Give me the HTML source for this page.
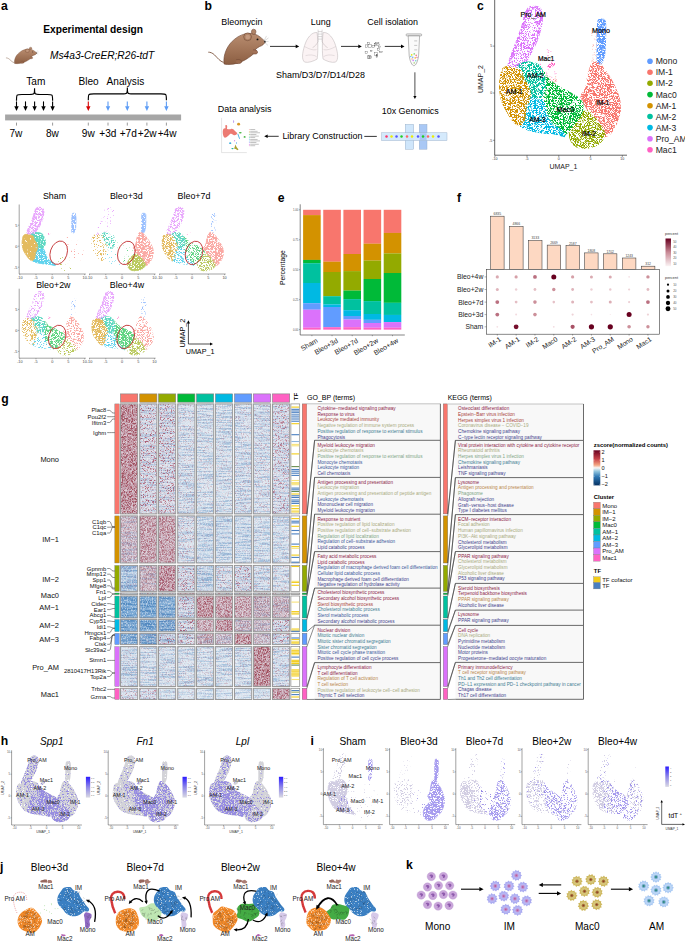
<!DOCTYPE html>
<html><head><meta charset="utf-8"><style>
html,body{margin:0;padding:0;background:#fff;}
svg{display:block;font-family:"Liberation Sans",sans-serif;}
</style></head><body>
<svg width="685" height="942" viewBox="0 0 685 942">
<defs>
<linearGradient id="mg" x1="0" y1="0" x2="0" y2="1"><stop offset="0" stop-color="#b98d70"/><stop offset="1" stop-color="#8c5e42"/></linearGradient>
<g id="mouse">
<path d="M15.5,33.5 C12,32.5 9.5,29 6.5,26 C4.5,24 2,23.2 0.3,23.3" fill="none" stroke="#8a6550" stroke-width="1.0"/>
<path d="M16,35 C15,26 19,16 27,10 C31,6.5 36,5 40,4.5 C44,4 49,5.5 52,8 C54.5,10 56,11.5 57.3,12.8 C56.5,15 54,17 51.8,17.5 C50,18.5 48.5,19.5 47.5,20.5 L48.5,22 C46,25 42,28 38,30.5 C33,33.5 27,35.5 21,35.6 C19,35.6 17,35.3 16,35 Z" fill="url(#mg)" stroke="#6b4330" stroke-width="0.6"/>
<path d="M45,21 C48,20.5 50,22 49.5,24 C48.5,25.5 46,25.5 44.5,24.5" fill="#a27258" stroke="#6b4330" stroke-width="0.5"/>
<path d="M28,31 C31,30 34,31 33.5,33.5 C32,35 29,35 27.5,34" fill="#9a6a4e" stroke="#6b4330" stroke-width="0.5"/>
<circle cx="39.6" cy="7.9" r="3.9" fill="#b08468" stroke="#6b4330" stroke-width="0.55"/>
<circle cx="39.8" cy="8.1" r="2.3" fill="#c49a80"/>
<ellipse cx="45.7" cy="2.9" rx="2.3" ry="2.6" fill="#b08468" stroke="#6b4330" stroke-width="0.5"/>
<circle cx="49.5" cy="10.5" r="0.95" fill="#111"/>
<circle cx="56.9" cy="12.8" r="0.9" fill="#222"/>
<path d="M56.5,12 L60.5,9 M57,12.8 L60.6,12.5 M56.5,13.5 L60,16.5 M56,12 L58.5,7" stroke="#aaa" stroke-width="0.4"/>
</g>
<path id="u_AM1" d="M-8.819,-2.548 C-8.611,-2.700 -8.344,-2.838 -7.863,-2.815 C-7.382,-2.793 -6.319,-2.611 -5.935,-2.414 C-5.550,-2.217 -5.781,-1.979 -5.556,-1.634 C-5.330,-1.288 -4.745,-0.731 -4.583,-0.341 C-4.421,0.049 -4.487,0.380 -4.583,0.707 C-4.679,1.034 -5.031,1.275 -5.160,1.621 C-5.289,1.967 -5.196,2.477 -5.358,2.780 C-5.520,3.083 -5.844,3.393 -6.132,3.438 C-6.421,3.482 -6.737,3.308 -7.089,3.048 C-7.440,2.788 -7.921,2.267 -8.242,1.877 C-8.564,1.487 -8.841,1.142 -9.017,0.707 C-9.193,0.272 -9.281,-0.296 -9.297,-0.731 C-9.314,-1.166 -9.196,-1.598 -9.116,-1.901 C-9.036,-2.204 -9.028,-2.395 -8.819,-2.548Z" vector-effect="non-scaling-stroke"/>
<path id="u_AM2" d="M-6.455,-2.854 C-6.326,-3.006 -5.749,-3.190 -5.301,-3.244 C-4.853,-3.298 -4.183,-3.262 -3.768,-3.177 C-3.353,-3.091 -3.037,-2.937 -2.812,-2.731 C-2.587,-2.525 -2.546,-2.202 -2.416,-1.940 C-2.287,-1.678 -2.068,-1.440 -2.037,-1.159 C-2.007,-0.879 -2.076,-0.537 -2.235,-0.256 C-2.394,0.024 -2.609,0.436 -2.993,0.524 C-3.378,0.611 -4.254,0.397 -4.543,0.267 C-4.831,0.137 -4.532,0.046 -4.724,-0.256 C-4.916,-0.559 -5.471,-1.204 -5.697,-1.549 C-5.922,-1.895 -5.949,-2.112 -6.076,-2.330 C-6.202,-2.547 -6.584,-2.701 -6.455,-2.854Z" vector-effect="non-scaling-stroke"/>
<path id="u_AM3" d="M-4.599,0.193 C-4.311,0.171 -3.435,0.299 -3.050,0.450 C-2.665,0.600 -2.484,0.814 -2.292,1.096 C-2.099,1.379 -2.088,1.797 -1.896,2.144 C-1.704,2.491 -1.522,2.878 -1.138,3.181 C-0.753,3.483 0.057,3.721 0.412,3.961 C0.766,4.201 1.181,4.554 0.989,4.619 C0.796,4.684 -0.132,4.416 -0.742,4.351 C-1.352,4.286 -2.028,4.293 -2.671,4.228 C-3.314,4.163 -4.022,4.093 -4.599,3.961 C-5.176,3.829 -5.973,3.654 -6.132,3.437 C-6.292,3.220 -5.685,2.980 -5.555,2.657 C-5.426,2.334 -5.487,1.843 -5.358,1.498 C-5.228,1.152 -4.907,0.801 -4.781,0.584 C-4.654,0.366 -4.888,0.216 -4.599,0.193Z" vector-effect="non-scaling-stroke"/>
<path id="u_Mac0" d="M-2.453,-2.224 C-2.294,-2.375 -1.717,-1.571 -1.300,-1.310 C-0.882,-1.050 -0.462,-0.879 0.052,-0.664 C0.566,-0.448 1.255,-0.227 1.783,-0.017 C2.310,0.192 2.882,0.384 3.217,0.596 C3.552,0.807 3.764,0.949 3.794,1.253 C3.824,1.558 3.657,2.056 3.398,2.424 C3.140,2.791 2.596,3.156 2.244,3.460 C1.893,3.765 1.577,4.077 1.288,4.252 C1.000,4.426 0.753,4.590 0.514,4.508 C0.275,4.426 0.187,4.016 -0.146,3.761 C-0.478,3.507 -1.162,3.241 -1.481,2.981 C-1.800,2.721 -1.896,2.505 -2.058,2.201 C-2.220,1.896 -2.420,1.588 -2.453,1.153 C-2.486,0.718 -2.256,0.155 -2.256,-0.408 C-2.256,-0.971 -2.613,-2.074 -2.453,-2.224Z" vector-effect="non-scaling-stroke"/>
<path id="u_IM2" d="M3.191,2.295 C3.609,2.058 4.158,1.863 4.543,1.905 C4.927,1.948 5.177,2.314 5.499,2.552 C5.820,2.790 6.183,3.027 6.471,3.332 C6.760,3.637 7.199,4.075 7.230,4.380 C7.260,4.684 6.941,4.943 6.653,5.160 C6.364,5.377 6.010,5.565 5.499,5.684 C4.988,5.803 4.131,5.918 3.587,5.873 C3.043,5.829 2.557,5.665 2.235,5.416 C1.914,5.167 1.691,4.727 1.658,4.380 C1.625,4.032 1.782,3.679 2.037,3.332 C2.293,2.985 2.774,2.533 3.191,2.295Z" vector-effect="non-scaling-stroke"/>
<path id="u_IM1" d="M5.393,-3.259 C5.135,-3.151 4.975,-2.783 4.816,-2.479 C4.657,-2.174 4.533,-1.756 4.437,-1.431 C4.341,-1.106 4.398,-0.831 4.239,-0.528 C4.080,-0.225 3.481,0.061 3.481,0.386 C3.481,0.711 4.017,1.140 4.239,1.423 C4.462,1.705 4.558,1.863 4.816,2.080 C5.074,2.298 5.530,2.489 5.789,2.727 C6.047,2.964 6.143,3.202 6.365,3.507 C6.588,3.812 6.835,4.423 7.124,4.555 C7.412,4.687 7.775,4.516 8.096,4.298 C8.418,4.081 8.797,3.643 9.052,3.251 C9.308,2.859 9.550,2.381 9.629,1.946 C9.709,1.512 9.657,1.055 9.530,0.642 C9.404,0.230 9.110,-0.160 8.871,-0.528 C8.632,-0.896 8.354,-1.262 8.096,-1.565 C7.838,-1.868 7.610,-2.085 7.322,-2.345 C7.033,-2.605 6.687,-2.973 6.365,-3.125 C6.044,-3.278 5.651,-3.367 5.393,-3.259Z" vector-effect="non-scaling-stroke"/>
<path id="u_Mono" d="M6.185,-7.696 C6.298,-7.923 6.520,-7.843 6.703,-7.834 C6.886,-7.826 7.177,-7.834 7.284,-7.643 C7.391,-7.452 7.342,-7.059 7.347,-6.688 C7.352,-6.316 7.344,-5.856 7.316,-5.414 C7.287,-4.972 7.276,-4.406 7.174,-4.034 C7.072,-3.662 6.886,-3.309 6.703,-3.185 C6.520,-3.061 6.188,-3.025 6.075,-3.291 C5.963,-3.556 6.036,-4.246 6.028,-4.777 C6.020,-5.308 6.002,-5.989 6.028,-6.476 C6.054,-6.962 6.073,-7.470 6.185,-7.696Z" vector-effect="non-scaling-stroke"/>
<path id="u_ProAM" d="M-7.771,-2.930 C-7.875,-3.160 -7.418,-3.797 -7.190,-4.246 C-6.962,-4.696 -6.667,-5.149 -6.405,-5.626 C-6.143,-6.104 -5.822,-6.658 -5.620,-7.113 C-5.419,-7.567 -5.353,-8.045 -5.196,-8.355 C-5.039,-8.664 -4.869,-8.841 -4.678,-8.970 C-4.487,-9.099 -4.312,-9.130 -4.050,-9.130 C-3.789,-9.130 -3.331,-9.099 -3.108,-8.970 C-2.886,-8.841 -2.742,-8.700 -2.716,-8.355 C-2.690,-8.010 -2.805,-7.371 -2.951,-6.900 C-3.098,-6.430 -3.333,-5.973 -3.595,-5.531 C-3.857,-5.088 -4.199,-4.644 -4.521,-4.246 C-4.843,-3.848 -5.186,-3.372 -5.526,-3.142 C-5.866,-2.912 -6.188,-2.902 -6.562,-2.866 C-6.936,-2.831 -7.666,-2.700 -7.771,-2.930Z" vector-effect="non-scaling-stroke"/>
<path id="u_Mac1" d="M-1.695,-2.866 C-1.630,-2.955 -1.094,-3.194 -0.911,-3.238 C-0.727,-3.282 -0.531,-3.220 -0.597,-3.132 C-0.662,-3.043 -1.120,-2.751 -1.303,-2.707 C-1.486,-2.663 -1.761,-2.778 -1.695,-2.866Z" vector-effect="non-scaling-stroke"/>
<path id="u_ProAMring" d="M-7.771,-2.930 C-7.875,-3.160 -7.418,-3.797 -7.190,-4.246 C-6.962,-4.696 -6.667,-5.149 -6.405,-5.626 C-6.143,-6.104 -5.822,-6.658 -5.620,-7.113 C-5.419,-7.567 -5.353,-8.045 -5.196,-8.355 C-5.039,-8.664 -4.869,-8.841 -4.678,-8.970 C-4.487,-9.099 -4.312,-9.130 -4.050,-9.130 C-3.789,-9.130 -3.331,-9.099 -3.108,-8.970 C-2.886,-8.841 -2.742,-8.700 -2.716,-8.355 C-2.690,-8.010 -2.805,-7.371 -2.951,-6.900 C-3.098,-6.430 -3.333,-5.973 -3.595,-5.531 C-3.857,-5.088 -4.199,-4.644 -4.521,-4.246 C-4.843,-3.848 -5.186,-3.372 -5.526,-3.142 C-5.866,-2.912 -6.188,-2.902 -6.562,-2.866 C-6.936,-2.831 -7.666,-2.700 -7.771,-2.930Z" vector-effect="non-scaling-stroke" fill="none"/>
<filter id="sk0" x="-5%" y="-5%" width="110%" height="110%"><feTurbulence type="fractalNoise" baseFrequency="2.3" numOctaves="1" seed="3" result="n"/><feColorMatrix in="n" type="matrix" values="0 0 0 0 0 0 0 0 0 0 0 0 0 0 0 12 0 0 0 -7.920" result="m"/><feComposite in="SourceGraphic" in2="m" operator="in"/><feGaussianBlur stdDeviation="0.25"/></filter>
<filter id="sk1" x="-5%" y="-5%" width="110%" height="110%"><feTurbulence type="fractalNoise" baseFrequency="2.3" numOctaves="1" seed="4" result="n"/><feColorMatrix in="n" type="matrix" values="0 0 0 0 0 0 0 0 0 0 0 0 0 0 0 12 0 0 0 -7.200" result="m"/><feComposite in="SourceGraphic" in2="m" operator="in"/><feGaussianBlur stdDeviation="0.25"/></filter>
<filter id="sk2" x="-5%" y="-5%" width="110%" height="110%"><feTurbulence type="fractalNoise" baseFrequency="2.3" numOctaves="1" seed="5" result="n"/><feColorMatrix in="n" type="matrix" values="0 0 0 0 0 0 0 0 0 0 0 0 0 0 0 12 0 0 0 -6.600" result="m"/><feComposite in="SourceGraphic" in2="m" operator="in"/><feGaussianBlur stdDeviation="0.25"/></filter>
<filter id="sk3" x="-5%" y="-5%" width="110%" height="110%"><feTurbulence type="fractalNoise" baseFrequency="2.3" numOctaves="1" seed="6" result="n"/><feColorMatrix in="n" type="matrix" values="0 0 0 0 0 0 0 0 0 0 0 0 0 0 0 12 0 0 0 -6.000" result="m"/><feComposite in="SourceGraphic" in2="m" operator="in"/><feGaussianBlur stdDeviation="0.25"/></filter>
<filter id="sk4" x="-5%" y="-5%" width="110%" height="110%"><feTurbulence type="fractalNoise" baseFrequency="2.3" numOctaves="1" seed="7" result="n"/><feColorMatrix in="n" type="matrix" values="0 0 0 0 0 0 0 0 0 0 0 0 0 0 0 12 0 0 0 -5.400" result="m"/><feComposite in="SourceGraphic" in2="m" operator="in"/><feGaussianBlur stdDeviation="0.25"/></filter>
<filter id="sk5" x="-5%" y="-5%" width="110%" height="110%"><feTurbulence type="fractalNoise" baseFrequency="2.3" numOctaves="1" seed="8" result="n"/><feColorMatrix in="n" type="matrix" values="0 0 0 0 0 0 0 0 0 0 0 0 0 0 0 12 0 0 0 -4.800" result="m"/><feComposite in="SourceGraphic" in2="m" operator="in"/><feGaussianBlur stdDeviation="0.25"/></filter>
<filter id="sk6" x="-5%" y="-5%" width="110%" height="110%"><feTurbulence type="fractalNoise" baseFrequency="2.3" numOctaves="1" seed="9" result="n"/><feColorMatrix in="n" type="matrix" values="0 0 0 0 0 0 0 0 0 0 0 0 0 0 0 12 0 0 0 -4.200" result="m"/><feComposite in="SourceGraphic" in2="m" operator="in"/><feGaussianBlur stdDeviation="0.25"/></filter>
<filter id="sk7" x="-5%" y="-5%" width="110%" height="110%"><feTurbulence type="fractalNoise" baseFrequency="2.3" numOctaves="1" seed="10" result="n"/><feColorMatrix in="n" type="matrix" values="0 0 0 0 0 0 0 0 0 0 0 0 0 0 0 12 0 0 0 -3.360" result="m"/><feComposite in="SourceGraphic" in2="m" operator="in"/><feGaussianBlur stdDeviation="0.25"/></filter>
<linearGradient id="pg" x1="0" y1="0" x2="0" y2="1"><stop offset="0" stop-color="#67001f"/><stop offset="0.5" stop-color="#c98a96"/><stop offset="1" stop-color="#fbf3f4"/></linearGradient>
<filter id="hr" x="0" y="0" width="100%" height="100%"><feTurbulence type="fractalNoise" baseFrequency="1.8 0.6" numOctaves="2" seed="11" result="n"/>
<feColorMatrix in="n" type="matrix" values="0 0 0 0 0 0 0 0 0 0 0 0 0 0 0 5 0 0 0 -2.1" result="m"/><feComposite in="SourceGraphic" in2="m" operator="in"/><feGaussianBlur stdDeviation="0.4"/></filter>
<filter id="hr2" x="0" y="0" width="100%" height="100%"><feTurbulence type="fractalNoise" baseFrequency="2.4 2.4" numOctaves="1" seed="5" result="n"/>
<feColorMatrix in="n" type="matrix" values="0 0 0 0 0 0 0 0 0 0 0 0 0 0 0 7 0 0 0 -3.75" result="m"/><feComposite in="SourceGraphic" in2="m" operator="in"/><feGaussianBlur stdDeviation="0.3"/></filter>
<filter id="hb" x="0" y="0" width="100%" height="100%"><feTurbulence type="fractalNoise" baseFrequency="0.05 0.8" numOctaves="2" seed="7" result="n"/>
<feColorMatrix in="n" type="matrix" values="0 0 0 0 0 0 0 0 0 0 0 0 0 0 0 5 0 0 0 -2.2" result="m"/><feComposite in="SourceGraphic" in2="m" operator="in"/><feGaussianBlur stdDeviation="0.3"/></filter>
<filter id="hw" x="0" y="0" width="100%" height="100%"><feTurbulence type="fractalNoise" baseFrequency="1.2 0.6" numOctaves="1" seed="23" result="n"/>
<feColorMatrix in="n" type="matrix" values="0 0 0 0 0 0 0 0 0 0 0 0 0 0 0 5 0 0 0 -2.4" result="m"/><feComposite in="SourceGraphic" in2="m" operator="in"/><feGaussianBlur stdDeviation="0.3"/></filter>
<linearGradient id="zg" x1="0" y1="0" x2="0" y2="1"><stop offset="0" stop-color="#67001f"/><stop offset="0.25" stop-color="#c9444a"/><stop offset="0.42" stop-color="#f4a582"/><stop offset="0.5" stop-color="#f7f7f7"/><stop offset="0.6" stop-color="#92c5de"/><stop offset="0.75" stop-color="#2f79b5"/><stop offset="1" stop-color="#053061"/></linearGradient>
<linearGradient id="bg" x1="0" y1="0" x2="0" y2="1"><stop offset="0" stop-color="#2b1bff"/><stop offset="0.5" stop-color="#8f88e8"/><stop offset="1" stop-color="#d9d9e3"/></linearGradient>
</defs>
<rect width="685" height="942" fill="#fff"/>
<text x="1.00" y="9.50" font-size="12.20" font-weight="bold" fill="#000">a</text>
<text x="43.20" y="32.80" font-size="10.21" font-weight="bold" fill="#000">Experimental design</text>
<use href="#mouse" transform="translate(5.8,47) scale(0.543,0.468)"/>
<text x="50.00" y="58.70" font-size="10.20" font-style="italic" fill="#000">Ms4a3-CreER;R26-tdT</text>
<text x="26.30" y="85.30" font-size="10.10" fill="#000">Tam</text>
<text x="78.50" y="85.30" font-size="10.10" fill="#000">Bleo</text>
<text x="106.60" y="85.30" font-size="10.10" fill="#000">Analysis</text>
<path d="M16.5,100.7 C16.5,94.45 16.5,94.45 22.0,94.45 L29.049999999999997,94.45 C34.55,94.45 34.55,94.45 34.55,88.2 C34.55,94.45 34.55,94.45 40.05,94.45 L47.1,94.45 C52.6,94.45 52.6,94.45 52.6,100.7" fill="none" stroke="#000" stroke-width="1.15"/>
<path d="M88.3,100.2 C88.3,93.9 88.3,93.9 93.8,93.9 L121.85,93.9 C127.35,93.9 127.35,93.9 127.35,87.6 C127.35,93.9 127.35,93.9 132.85,93.9 L160.9,93.9 C166.4,93.9 166.4,93.9 166.4,100.2" fill="none" stroke="#000" stroke-width="1.15"/>
<line x1="16.50" y1="101.40" x2="16.50" y2="106.80" stroke="#000" stroke-width="1.1"/>
<path d="M14.3,106.30000000000001 L18.7,106.30000000000001 L16.5,110.9 Z" fill="#000" stroke="none" stroke-width="0.8"/>
<line x1="25.50" y1="101.40" x2="25.50" y2="106.80" stroke="#000" stroke-width="1.1"/>
<path d="M23.3,106.30000000000001 L27.7,106.30000000000001 L25.5,110.9 Z" fill="#000" stroke="none" stroke-width="0.8"/>
<line x1="34.60" y1="101.40" x2="34.60" y2="106.80" stroke="#000" stroke-width="1.1"/>
<path d="M32.4,106.30000000000001 L36.800000000000004,106.30000000000001 L34.6,110.9 Z" fill="#000" stroke="none" stroke-width="0.8"/>
<line x1="43.50" y1="101.40" x2="43.50" y2="106.80" stroke="#000" stroke-width="1.1"/>
<path d="M41.3,106.30000000000001 L45.7,106.30000000000001 L43.5,110.9 Z" fill="#000" stroke="none" stroke-width="0.8"/>
<line x1="52.60" y1="101.40" x2="52.60" y2="106.80" stroke="#000" stroke-width="1.1"/>
<path d="M50.4,106.30000000000001 L54.800000000000004,106.30000000000001 L52.6,110.9 Z" fill="#000" stroke="none" stroke-width="0.8"/>
<line x1="88.30" y1="101.40" x2="88.30" y2="106.80" stroke="#d40000" stroke-width="1.1"/>
<path d="M86.1,106.30000000000001 L90.5,106.30000000000001 L88.3,110.9 Z" fill="#d40000" stroke="none" stroke-width="0.8"/>
<line x1="108.00" y1="101.40" x2="108.00" y2="106.80" stroke="#5b9bf5" stroke-width="1.1"/>
<path d="M105.8,106.30000000000001 L110.2,106.30000000000001 L108,110.9 Z" fill="#5b9bf5" stroke="none" stroke-width="0.8"/>
<line x1="127.30" y1="101.40" x2="127.30" y2="106.80" stroke="#5b9bf5" stroke-width="1.1"/>
<path d="M125.1,106.30000000000001 L129.5,106.30000000000001 L127.3,110.9 Z" fill="#5b9bf5" stroke="none" stroke-width="0.8"/>
<line x1="146.90" y1="101.40" x2="146.90" y2="106.80" stroke="#5b9bf5" stroke-width="1.1"/>
<path d="M144.70000000000002,106.30000000000001 L149.1,106.30000000000001 L146.9,110.9 Z" fill="#5b9bf5" stroke="none" stroke-width="0.8"/>
<line x1="166.40" y1="101.40" x2="166.40" y2="106.80" stroke="#5b9bf5" stroke-width="1.1"/>
<path d="M164.20000000000002,106.30000000000001 L168.6,106.30000000000001 L166.4,110.9 Z" fill="#5b9bf5" stroke="none" stroke-width="0.8"/>
<rect x="5.10" y="114.50" width="176.00" height="5.90" fill="#a6a6a6"/>
<line x1="16.50" y1="122.60" x2="16.50" y2="125.60" stroke="#555" stroke-width="0.6"/>
<line x1="52.60" y1="122.60" x2="52.60" y2="125.60" stroke="#555" stroke-width="0.6"/>
<line x1="88.30" y1="122.60" x2="88.30" y2="125.60" stroke="#555" stroke-width="0.6"/>
<line x1="108.00" y1="122.60" x2="108.00" y2="125.60" stroke="#555" stroke-width="0.6"/>
<line x1="127.30" y1="122.60" x2="127.30" y2="125.60" stroke="#555" stroke-width="0.6"/>
<line x1="146.90" y1="122.60" x2="146.90" y2="125.60" stroke="#555" stroke-width="0.6"/>
<line x1="166.40" y1="122.60" x2="166.40" y2="125.60" stroke="#555" stroke-width="0.6"/>
<text x="9.50" y="137.40" font-size="10.10" fill="#000">7w</text>
<text x="46.00" y="137.40" font-size="10.10" fill="#000">8w</text>
<text x="81.80" y="137.40" font-size="10.10" fill="#000">9w</text>
<text x="99.30" y="137.40" font-size="10.10" fill="#000">+3d</text>
<text x="119.70" y="137.40" font-size="10.10" fill="#000">+7d</text>
<text x="137.80" y="137.40" font-size="10.10" fill="#000">+2w</text>
<text x="157.70" y="137.40" font-size="10.10" fill="#000">+4w</text>
<text x="204.60" y="9.60" font-size="12.20" font-weight="bold" fill="#000">b</text>
<text x="221.30" y="25.00" font-size="8.95" fill="#000">Bleomycin</text>
<use href="#mouse" transform="translate(208,28.9)"/>
<line x1="270.00" y1="46.40" x2="296.20" y2="46.40" stroke="#000" stroke-width="0.8"/>
<path d="M295.7,44.6 L295.7,48.199999999999996 L299.2,46.4 Z" fill="#000" stroke="none" stroke-width="0.8"/>
<text x="310.80" y="24.50" font-size="8.95" fill="#000">Lung</text>
<g transform="translate(301.6,29.6)" fill="#fbf3f4" stroke="#b9b0b3" stroke-width="0.5">
<path d="M15.5,3 C10,2 5,9 3,16 C0.5,24 0,30 3,32.5 C7,33.5 12,31.5 15.5,29.5 C16.5,24 16.5,12 15.5,3 Z"/>
<path d="M21.5,3 C27,2 32,9 34,16 C36.5,24 37,30 34,32.5 C30,33.5 25,31.5 21.5,29.5 C20.5,24 20.5,12 21.5,3 Z"/>
<path d="M16.5,0 L16.5,12 C15,15 13,17 11,18 M20.5,0 L20.5,12 C22,15 24,17 26,18" fill="none"/>
<path d="M16.5,2 H20.5 M16.5,4.5 H20.5 M16.5,7 H20.5 M16.5,9.5 H20.5" fill="none"/>
<path d="M3,17 C7,19 11,21 15,20 M4,26 C8,25 12,25 15,27 M34,17 C30,19 26,21 22,20 M33,26 C29,25 25,25 22,27" fill="none" stroke-width="0.35"/>
</g>
<line x1="341.00" y1="46.40" x2="358.80" y2="46.40" stroke="#000" stroke-width="0.8"/>
<path d="M358.3,44.6 L358.3,48.199999999999996 L361.8,46.4 Z" fill="#000" stroke="none" stroke-width="0.8"/>
<rect x="374.3" y="52.7" width="2.9" height="2.6" fill="none" stroke="#555" stroke-width="0.35"/><rect x="376.1" y="55.4" width="1.6" height="1.9" fill="none" stroke="#555" stroke-width="0.35"/><rect x="379.2" y="51.3" width="3.1" height="1.4" fill="none" stroke="#555" stroke-width="0.35"/><rect x="372.0" y="45.3" width="2.5" height="2.1" fill="none" stroke="#555" stroke-width="0.35"/><rect x="365.2" y="44.9" width="2.0" height="2.6" fill="none" stroke="#555" stroke-width="0.35"/><rect x="376.5" y="44.0" width="2.9" height="1.4" fill="none" stroke="#555" stroke-width="0.35"/><rect x="374.3" y="43.5" width="1.5" height="2.5" fill="none" stroke="#555" stroke-width="0.35"/><rect x="368.1" y="44.8" width="3.3" height="2.5" fill="none" stroke="#555" stroke-width="0.35"/><rect x="369.3" y="56.0" width="2.5" height="2.2" fill="none" stroke="#555" stroke-width="0.35"/><rect x="368.1" y="55.7" width="2.7" height="2.6" fill="none" stroke="#555" stroke-width="0.35"/><rect x="378.4" y="46.1" width="2.2" height="1.4" fill="none" stroke="#555" stroke-width="0.35"/><rect x="367.2" y="42.6" width="2.0" height="2.1" fill="none" stroke="#555" stroke-width="0.35"/><rect x="365.1" y="51.8" width="2.1" height="1.7" fill="none" stroke="#555" stroke-width="0.35"/><rect x="377.3" y="48.8" width="2.1" height="1.9" fill="none" stroke="#555" stroke-width="0.35"/><rect x="375.6" y="42.5" width="3.3" height="1.2" fill="none" stroke="#555" stroke-width="0.35"/><rect x="376.2" y="54.3" width="1.5" height="2.4" fill="none" stroke="#555" stroke-width="0.35"/><rect x="370.5" y="50.3" width="1.5" height="1.3" fill="none" stroke="#555" stroke-width="0.35"/><rect x="367.7" y="55.9" width="1.9" height="2.3" fill="none" stroke="#555" stroke-width="0.35"/>
<line x1="384.80" y1="46.40" x2="401.50" y2="46.40" stroke="#000" stroke-width="0.8"/>
<path d="M401.0,44.6 L401.0,48.199999999999996 L404.5,46.4 Z" fill="#000" stroke="none" stroke-width="0.8"/>
<text x="367.30" y="24.50" font-size="8.95" fill="#000">Cell isolation</text>
<g transform="translate(406.2,33.9)">
<rect x="0" y="0" width="15.4" height="2" rx="0.6" fill="#f2f2f2" stroke="#777" stroke-width="0.5"/>
<path d="M2,2 L13.4,2 L12.4,22 C11.5,28 9.5,31.8 7.7,31.8 C5.9,31.8 3.9,28 3,22 Z" fill="#fafafa" stroke="#777" stroke-width="0.5"/>
<path d="M8,7 H11 M8,11.5 H11 M8,16 H11" stroke="#777" stroke-width="0.4"/>
<circle cx="5.5" cy="21" r="0.8" fill="#e6e600"/><circle cx="8" cy="20" r="0.8" fill="#7fd17f"/><circle cx="10" cy="21.5" r="0.8" fill="#f08080"/>
<circle cx="6.5" cy="23.5" r="0.8" fill="#80b0ff"/><circle cx="9" cy="24" r="0.8" fill="#f0c040"/><circle cx="7" cy="26.5" r="0.8" fill="#d080ff"/>
<circle cx="9.5" cy="26.8" r="0.8" fill="#70d0d0"/><circle cx="5.8" cy="25" r="0.7" fill="#ffa060"/><circle cx="8" cy="29" r="0.7" fill="#90c050"/>
<circle cx="10.8" cy="23.5" r="0.7" fill="#e070b0"/><circle cx="4.6" cy="22.6" r="0.7" fill="#60c0e0"/>
</g>
<text x="276.00" y="77.80" font-size="8.95" fill="#000">Sham/D3/D7/D14/D28</text>
<line x1="414.90" y1="72.30" x2="414.90" y2="96.60" stroke="#000" stroke-width="0.7"/>
<path d="M413.29999999999995,96.1 L416.5,96.1 L414.9,99.1 Z" fill="#000" stroke="none" stroke-width="0.8"/>
<text x="381.70" y="114.00" font-size="8.95" fill="#000">10x Genomics</text>
<g>
<rect x="405.3" y="124.4" width="8.4" height="24.8" fill="#cfe6fb" stroke="#8aa4c0" stroke-width="0.4"/>
<rect x="419.3" y="124.4" width="7.7" height="24.8" fill="#a9c8f5" stroke="#8aa4c0" stroke-width="0.4"/>
<rect x="381.7" y="132.8" width="65.3" height="7.7" fill="#d5eafc" stroke="#8aa4c0" stroke-width="0.4"/>
<rect x="405.7" y="133.2" width="7.6" height="6.9" fill="#cfe6fb"/>
<rect x="419.7" y="133.2" width="6.9" height="6.9" fill="#a9c8f5"/>
</g>
<circle cx="386.50" cy="136.60" r="1.25" fill="#f36"/>
<circle cx="391.50" cy="136.60" r="1.25" fill="#ee0"/>
<circle cx="396.50" cy="136.60" r="1.25" fill="#55f"/>
<circle cx="401.50" cy="136.60" r="1.25" fill="#2c2"/>
<circle cx="407.00" cy="136.60" r="1.25" fill="#f66"/>
<circle cx="412.00" cy="136.60" r="1.25" fill="#ee0"/>
<circle cx="418.00" cy="136.60" r="1.25" fill="#55f"/>
<circle cx="423.00" cy="136.60" r="1.25" fill="#2c2"/>
<circle cx="428.00" cy="136.60" r="1.25" fill="#f66"/>
<circle cx="433.00" cy="136.60" r="1.25" fill="#ee0"/>
<circle cx="438.50" cy="136.60" r="1.25" fill="#55f"/>
<text x="217.80" y="112.10" font-size="8.95" fill="#000">Data analysis</text>
<g><path d="M221.6,117.9 V152.6 H246.8" fill="none" stroke="#bbb" stroke-width="0.4"/><path d="M222.8,131 C223,128.5 224.5,128 225.5,128.3 L225.3,125.6 C226,124.8 227,125 227.2,126 L227,129 C228.5,129.3 230,129.5 231,129 C232,128.2 233.5,129 234.5,130.5 C235.5,131.5 236.8,132.5 237.2,133.2 C236.5,135 235,135.5 233.5,135 C232,134.3 231,133.5 230,134 C228.5,135.5 227,137.5 225,137.8 C223.5,137.5 222.6,134.5 222.8,131 Z" fill="#ec7a72"/><ellipse cx="238.6" cy="124.2" rx="1.5" ry="1.4" fill="#d7982a"/><ellipse cx="240.3" cy="132.8" rx="1.4" ry="0.7" fill="#4cb847"/><ellipse cx="244.6" cy="136.9" rx="1.0" ry="0.9" fill="#4cb847"/><ellipse cx="230.2" cy="143.2" rx="1.1" ry="0.9" fill="#3db0e0"/><ellipse cx="232.5" cy="148.6" rx="1.2" ry="0.6" fill="#20b29a"/><ellipse cx="234.6" cy="140.7" rx="0.5" ry="0.5" fill="#c040e0"/><ellipse cx="233.6" cy="121.5" rx="0.5" ry="1.5" fill="#b99af0"/><ellipse cx="236.4" cy="143" rx="0.4" ry="1.1" fill="#5aaff0"/><path d="M235.5,144.5 L236.5,147 L238.5,149.5 L237.5,150.3 L235.8,149 L234,148.5 L234.5,147.5 Z" fill="#aaa030"/><path d="M237.8,133.8 L239.6,138.8" stroke="#3db0e0" stroke-width="0.9"/><circle cx="249.3" cy="129.60" r="0.45" fill="#ec7a72"/><rect x="250.2" y="129.25" width="5.0" height="0.7" fill="#aaa"/><circle cx="249.3" cy="131.22" r="0.45" fill="#e0a050"/><rect x="250.2" y="130.87" width="7.4" height="0.7" fill="#aaa"/><circle cx="249.3" cy="132.84" r="0.45" fill="#b0a030"/><rect x="250.2" y="132.49" width="9.8" height="0.7" fill="#aaa"/><circle cx="249.3" cy="134.46" r="0.45" fill="#4cb847"/><rect x="250.2" y="134.11" width="6.2" height="0.7" fill="#aaa"/><circle cx="249.3" cy="136.08" r="0.45" fill="#60c080"/><rect x="250.2" y="135.73" width="8.6" height="0.7" fill="#aaa"/><circle cx="249.3" cy="137.70" r="0.45" fill="#20b29a"/><rect x="250.2" y="137.35" width="5.0" height="0.7" fill="#aaa"/><circle cx="249.3" cy="139.32" r="0.45" fill="#3db0e0"/><rect x="250.2" y="138.97" width="7.4" height="0.7" fill="#aaa"/><circle cx="249.3" cy="140.94" r="0.45" fill="#5aaff0"/><rect x="250.2" y="140.59" width="9.8" height="0.7" fill="#aaa"/><circle cx="249.3" cy="142.56" r="0.45" fill="#9080f0"/><rect x="250.2" y="142.21" width="6.2" height="0.7" fill="#aaa"/><circle cx="249.3" cy="144.18" r="0.45" fill="#c040e0"/><rect x="250.2" y="143.83" width="8.6" height="0.7" fill="#aaa"/><circle cx="249.3" cy="145.80" r="0.45" fill="#e070c0"/><rect x="250.2" y="145.45" width="5.0" height="0.7" fill="#aaa"/></g>
<line x1="278.70" y1="136.30" x2="267.20" y2="136.30" stroke="#000" stroke-width="0.8"/>
<path d="M267.7,134.5 L267.7,138.10000000000002 L264.2,136.3 Z" fill="#000" stroke="none" stroke-width="0.8"/>
<text x="282.40" y="138.80" font-size="8.95" fill="#000">Library Construction</text>
<line x1="364.30" y1="136.40" x2="376.80" y2="136.40" stroke="#000" stroke-width="0.8"/>
<text x="477.00" y="9.90" font-size="12.20" font-weight="bold" fill="#000">c</text>
<line x1="494.70" y1="0.00" x2="494.70" y2="155.20" stroke="#333" stroke-width="0.75"/>
<line x1="494.70" y1="155.20" x2="627.00" y2="155.20" stroke="#333" stroke-width="0.75"/>
<line x1="492.90" y1="46.10" x2="494.70" y2="46.10" stroke="#333" stroke-width="0.5"/>
<text x="492.20" y="47.35" font-size="3.60" text-anchor="end" fill="#333">5</text>
<line x1="492.90" y1="93.00" x2="494.70" y2="93.00" stroke="#333" stroke-width="0.5"/>
<text x="492.20" y="94.25" font-size="3.60" text-anchor="end" fill="#333">0</text>
<line x1="492.90" y1="140.30" x2="494.70" y2="140.30" stroke="#333" stroke-width="0.5"/>
<text x="492.20" y="141.55" font-size="3.60" text-anchor="end" fill="#333">-5</text>
<line x1="494.90" y1="155.20" x2="494.90" y2="157.00" stroke="#333" stroke-width="0.5"/>
<text x="494.90" y="159.90" font-size="3.60" text-anchor="middle" fill="#333">-10</text>
<line x1="527.00" y1="155.20" x2="527.00" y2="157.00" stroke="#333" stroke-width="0.5"/>
<text x="527.00" y="159.90" font-size="3.60" text-anchor="middle" fill="#333">-5</text>
<line x1="558.80" y1="155.20" x2="558.80" y2="157.00" stroke="#333" stroke-width="0.5"/>
<text x="558.80" y="159.90" font-size="3.60" text-anchor="middle" fill="#333">0</text>
<line x1="590.60" y1="155.20" x2="590.60" y2="157.00" stroke="#333" stroke-width="0.5"/>
<text x="590.60" y="159.90" font-size="3.60" text-anchor="middle" fill="#333">5</text>
<line x1="622.30" y1="155.20" x2="622.30" y2="157.00" stroke="#333" stroke-width="0.5"/>
<text x="622.30" y="159.90" font-size="3.60" text-anchor="middle" fill="#333">10</text>
<text x="482.60" y="79.00" font-size="7.00" text-anchor="middle" fill="#222" transform="rotate(-90 482.60 79.00)">UMAP_2</text>
<text x="549.40" y="168.80" font-size="7.00" fill="#222">UMAP_1</text>
<g filter="url(#sk3)"><use href="#u_ProAM" fill="#DB72FB" stroke="none" stroke-width="1.2" transform="translate(558.80,93.00) scale(6.370,9.420)"/></g><g filter="url(#sk4)"><use href="#u_ProAMring" stroke="#DB72FB" stroke-width="3.12" transform="translate(558.80,93.00) scale(6.370,9.420)"/></g><g filter="url(#sk5)"><use href="#u_Mono" fill="#619CFF" stroke="#619CFF" stroke-width="1.2" transform="translate(558.80,93.00) scale(6.370,9.420)"/></g><g filter="url(#sk4)"><use href="#u_Mac1" fill="#FF61C3" stroke="#FF61C3" stroke-width="1.2" transform="translate(558.80,93.00) scale(6.370,9.420)"/></g><g filter="url(#sk4)"><use href="#u_IM1" fill="#F8766D" stroke="#F8766D" stroke-width="1.2" transform="translate(558.80,93.00) scale(6.370,9.420)"/></g><g filter="url(#sk4)"><use href="#u_IM2" fill="#93AA00" stroke="#93AA00" stroke-width="1.2" transform="translate(558.80,93.00) scale(6.370,9.420)"/></g><g filter="url(#sk4)"><use href="#u_Mac0" fill="#00BA38" stroke="#00BA38" stroke-width="1.2" transform="translate(558.80,93.00) scale(6.370,9.420)"/></g><g filter="url(#sk4)"><use href="#u_AM3" fill="#00B9E3" stroke="#00B9E3" stroke-width="1.2" transform="translate(558.80,93.00) scale(6.370,9.420)"/></g><g filter="url(#sk4)"><use href="#u_AM2" fill="#00C19F" stroke="#00C19F" stroke-width="1.2" transform="translate(558.80,93.00) scale(6.370,9.420)"/></g><g filter="url(#sk4)"><use href="#u_AM1" fill="#D39200" stroke="#D39200" stroke-width="1.2" transform="translate(558.80,93.00) scale(6.370,9.420)"/></g>
<text x="520.50" y="16.80" font-size="7.06" fill="#000" stroke="#000" stroke-width="0.2">Pro_AM</text>
<text x="592.00" y="32.70" font-size="7.16" fill="#000" stroke="#000" stroke-width="0.2">Mono</text>
<text x="537.90" y="60.90" font-size="6.71" fill="#000" stroke="#000" stroke-width="0.2">Mac1</text>
<text x="527.10" y="77.70" font-size="6.86" fill="#000" stroke="#000" stroke-width="0.2">AM-2</text>
<text x="505.80" y="93.60" font-size="7.07" fill="#000" stroke="#000" stroke-width="0.2">AM-1</text>
<text x="556.60" y="112.30" font-size="7.20" fill="#000" stroke="#000" stroke-width="0.2">Mac0</text>
<text x="529.30" y="122.10" font-size="6.86" fill="#000" stroke="#000" stroke-width="0.2">AM-3</text>
<text x="596.00" y="104.60" font-size="6.60" fill="#000" stroke="#000" stroke-width="0.2">IM-1</text>
<text x="581.80" y="136.30" font-size="7.10" fill="#000" stroke="#000" stroke-width="0.2">IM-2</text>
<circle cx="650.00" cy="61.30" r="2.80" fill="#619CFF"/>
<text x="655.70" y="64.40" font-size="8.60" fill="#222">Mono</text>
<circle cx="650.00" cy="72.20" r="2.80" fill="#F8766D"/>
<text x="655.70" y="75.30" font-size="8.60" fill="#222">IM-1</text>
<circle cx="650.00" cy="83.20" r="2.80" fill="#93AA00"/>
<text x="655.70" y="86.30" font-size="8.60" fill="#222">IM-2</text>
<circle cx="650.00" cy="94.60" r="2.80" fill="#00BA38"/>
<text x="655.70" y="97.70" font-size="8.60" fill="#222">Mac0</text>
<circle cx="650.00" cy="105.70" r="2.80" fill="#D39200"/>
<text x="655.70" y="108.80" font-size="8.60" fill="#222">AM-1</text>
<circle cx="650.00" cy="116.50" r="2.80" fill="#00C19F"/>
<text x="655.70" y="119.60" font-size="8.60" fill="#222">AM-2</text>
<circle cx="650.00" cy="127.60" r="2.80" fill="#00B9E3"/>
<text x="655.70" y="130.70" font-size="8.60" fill="#222">AM-3</text>
<circle cx="650.00" cy="138.80" r="2.80" fill="#DB72FB"/>
<text x="655.70" y="141.90" font-size="8.60" fill="#222">Pro_AM</text>
<circle cx="650.00" cy="149.80" r="2.80" fill="#FF61C3"/>
<text x="655.70" y="152.90" font-size="8.60" fill="#222">Mac1</text>
<rect x="552.4" y="59.1" width="0.8" height="0.8" fill="#FF61C3" opacity="0.8"/><rect x="542.3" y="76.0" width="0.8" height="0.8" fill="#FF61C3" opacity="0.8"/><rect x="540.1" y="64.2" width="0.8" height="0.8" fill="#FF61C3" opacity="0.8"/><rect x="548.0" y="68.8" width="0.8" height="0.8" fill="#FF61C3" opacity="0.8"/><rect x="540.6" y="69.4" width="0.8" height="0.8" fill="#FF61C3" opacity="0.8"/><rect x="547.0" y="76.9" width="0.8" height="0.8" fill="#FF61C3" opacity="0.8"/><rect x="541.1" y="75.7" width="0.8" height="0.8" fill="#FF61C3" opacity="0.8"/><rect x="547.1" y="76.4" width="0.8" height="0.8" fill="#FF61C3" opacity="0.8"/><rect x="541.3" y="58.9" width="0.8" height="0.8" fill="#FF61C3" opacity="0.8"/><rect x="547.6" y="55.0" width="0.8" height="0.8" fill="#FF61C3" opacity="0.8"/><rect x="541.6" y="67.0" width="0.8" height="0.8" fill="#FF61C3" opacity="0.8"/><rect x="545.9" y="71.9" width="0.8" height="0.8" fill="#FF61C3" opacity="0.8"/><rect x="555.7" y="73.1" width="0.8" height="0.8" fill="#FF61C3" opacity="0.8"/><rect x="551.4" y="76.9" width="0.8" height="0.8" fill="#FF61C3" opacity="0.8"/><rect x="539.7" y="63.7" width="0.8" height="0.8" fill="#FF61C3" opacity="0.8"/><rect x="547.7" y="51.6" width="0.8" height="0.8" fill="#FF61C3" opacity="0.8"/><rect x="546.0" y="74.4" width="0.8" height="0.8" fill="#FF61C3" opacity="0.8"/><rect x="547.9" y="52.1" width="0.8" height="0.8" fill="#FF61C3" opacity="0.8"/><rect x="551.5" y="80.2" width="0.8" height="0.8" fill="#FF61C3" opacity="0.8"/><rect x="547.6" y="55.5" width="0.8" height="0.8" fill="#FF61C3" opacity="0.8"/><rect x="546.5" y="73.1" width="0.8" height="0.8" fill="#FF61C3" opacity="0.8"/><rect x="551.8" y="61.1" width="0.8" height="0.8" fill="#FF61C3" opacity="0.8"/><rect x="546.9" y="49.3" width="0.8" height="0.8" fill="#FF61C3" opacity="0.8"/><rect x="544.4" y="81.6" width="0.8" height="0.8" fill="#FF61C3" opacity="0.8"/><rect x="554.3" y="71.4" width="0.8" height="0.8" fill="#FF61C3" opacity="0.8"/><rect x="550.5" y="51.2" width="0.8" height="0.8" fill="#FF61C3" opacity="0.8"/><rect x="553.2" y="79.1" width="0.8" height="0.8" fill="#FF61C3" opacity="0.8"/><rect x="554.6" y="73.5" width="0.8" height="0.8" fill="#FF61C3" opacity="0.8"/><rect x="548.4" y="50.1" width="0.8" height="0.8" fill="#FF61C3" opacity="0.8"/><rect x="593.9" y="54.3" width="0.7" height="0.7" fill="#F8766D" opacity="0.7"/><rect x="595.5" y="30.9" width="0.7" height="0.7" fill="#F8766D" opacity="0.7"/><rect x="591.0" y="32.8" width="0.7" height="0.7" fill="#F8766D" opacity="0.7"/><rect x="596.5" y="33.6" width="0.7" height="0.7" fill="#F8766D" opacity="0.7"/><rect x="593.3" y="45.2" width="0.7" height="0.7" fill="#F8766D" opacity="0.7"/><rect x="596.3" y="34.3" width="0.7" height="0.7" fill="#F8766D" opacity="0.7"/><rect x="592.6" y="54.7" width="0.7" height="0.7" fill="#F8766D" opacity="0.7"/><rect x="591.5" y="35.3" width="0.7" height="0.7" fill="#F8766D" opacity="0.7"/><rect x="591.2" y="60.7" width="0.7" height="0.7" fill="#F8766D" opacity="0.7"/><rect x="592.4" y="46.0" width="0.7" height="0.7" fill="#F8766D" opacity="0.7"/><rect x="593.3" y="61.4" width="0.7" height="0.7" fill="#F8766D" opacity="0.7"/><rect x="595.3" y="49.2" width="0.7" height="0.7" fill="#F8766D" opacity="0.7"/><rect x="593.9" y="38.6" width="0.7" height="0.7" fill="#F8766D" opacity="0.7"/><rect x="596.0" y="33.3" width="0.7" height="0.7" fill="#F8766D" opacity="0.7"/><rect x="594.7" y="39.4" width="0.7" height="0.7" fill="#F8766D" opacity="0.7"/><rect x="592.7" y="44.5" width="0.7" height="0.7" fill="#F8766D" opacity="0.7"/><rect x="592.1" y="48.9" width="0.7" height="0.7" fill="#F8766D" opacity="0.7"/><rect x="591.4" y="30.6" width="0.7" height="0.7" fill="#F8766D" opacity="0.7"/><rect x="591.8" y="32.9" width="0.7" height="0.7" fill="#F8766D" opacity="0.7"/><rect x="596.3" y="46.3" width="0.7" height="0.7" fill="#F8766D" opacity="0.7"/><rect x="595.1" y="54.9" width="0.7" height="0.7" fill="#F8766D" opacity="0.7"/><rect x="592.0" y="60.4" width="0.7" height="0.7" fill="#F8766D" opacity="0.7"/><rect x="593.3" y="44.7" width="0.7" height="0.7" fill="#F8766D" opacity="0.7"/><rect x="593.9" y="52.2" width="0.7" height="0.7" fill="#F8766D" opacity="0.7"/><rect x="595.6" y="36.2" width="0.7" height="0.7" fill="#F8766D" opacity="0.7"/><rect x="596.0" y="43.7" width="0.7" height="0.7" fill="#F8766D" opacity="0.7"/><rect x="592.5" y="57.7" width="0.7" height="0.7" fill="#F8766D" opacity="0.7"/><rect x="596.2" y="57.5" width="0.7" height="0.7" fill="#F8766D" opacity="0.7"/><rect x="592.9" y="59.2" width="0.7" height="0.7" fill="#F8766D" opacity="0.7"/><rect x="595.7" y="61.0" width="0.7" height="0.7" fill="#F8766D" opacity="0.7"/><rect x="555.0" y="84.0" width="0.8" height="0.8" fill="#F8766D" opacity="0.8"/><rect x="552.8" y="82.0" width="0.8" height="0.8" fill="#F8766D" opacity="0.8"/><rect x="555.2" y="80.2" width="0.8" height="0.8" fill="#F8766D" opacity="0.8"/><rect x="553.0" y="79.2" width="0.8" height="0.8" fill="#F8766D" opacity="0.8"/><rect x="555.9" y="79.0" width="0.8" height="0.8" fill="#F8766D" opacity="0.8"/><rect x="555.0" y="80.5" width="0.8" height="0.8" fill="#F8766D" opacity="0.8"/><rect x="554.7" y="78.5" width="0.8" height="0.8" fill="#F8766D" opacity="0.8"/><rect x="549.6" y="81.4" width="0.8" height="0.8" fill="#F8766D" opacity="0.8"/><rect x="550.2" y="78.9" width="0.8" height="0.8" fill="#F8766D" opacity="0.8"/><rect x="555.3" y="76.4" width="0.8" height="0.8" fill="#F8766D" opacity="0.8"/><rect x="556.3" y="80.7" width="0.8" height="0.8" fill="#F8766D" opacity="0.8"/><rect x="553.5" y="81.4" width="0.8" height="0.8" fill="#F8766D" opacity="0.8"/><rect x="549.5" y="76.2" width="0.8" height="0.8" fill="#F8766D" opacity="0.8"/><rect x="554.8" y="80.7" width="0.8" height="0.8" fill="#F8766D" opacity="0.8"/>
<text x="0.90" y="201.90" font-size="12.20" font-weight="bold" fill="#000">d</text>
<g opacity="0.62"><g filter="url(#sk4)"><use href="#u_ProAM" fill="#DB72FB" stroke="none" stroke-width="0.8" transform="translate(52.20,246.20) scale(3.245,4.200)"/></g><g filter="url(#sk5)"><use href="#u_ProAMring" stroke="#DB72FB" stroke-width="2.08" transform="translate(52.20,246.20) scale(3.245,4.200)"/></g><g filter="url(#sk5)"><use href="#u_Mono" fill="#619CFF" stroke="#619CFF" stroke-width="0.8" transform="translate(52.20,246.20) scale(3.245,4.200)"/></g><g filter="url(#sk1)"><use href="#u_Mac1" fill="#FF61C3" stroke="#FF61C3" stroke-width="0.8" transform="translate(52.20,246.20) scale(3.245,4.200)"/></g><g filter="url(#sk0)"><use href="#u_IM1" fill="#F8766D" stroke="#F8766D" stroke-width="0.8" transform="translate(52.20,246.20) scale(3.245,4.200)"/></g><g filter="url(#sk0)"><use href="#u_IM2" fill="#93AA00" stroke="#93AA00" stroke-width="0.8" transform="translate(52.20,246.20) scale(3.245,4.200)"/></g><g filter="url(#sk6)"><use href="#u_AM3" fill="#00B9E3" stroke="#00B9E3" stroke-width="0.8" transform="translate(52.20,246.20) scale(3.245,4.200)"/></g><g filter="url(#sk6)"><use href="#u_AM2" fill="#00C19F" stroke="#00C19F" stroke-width="0.8" transform="translate(52.20,246.20) scale(3.245,4.200)"/></g><g filter="url(#sk7)"><use href="#u_AM1" fill="#D39200" stroke="#D39200" stroke-width="0.8" transform="translate(52.20,246.20) scale(3.245,4.200)"/></g></g>
<text x="42.90" y="198.70" font-size="8.90" fill="#000">Sham</text>
<line x1="19.20" y1="274.00" x2="85.80" y2="274.00" stroke="#444" stroke-width="0.5"/>
<line x1="19.75" y1="274.00" x2="19.75" y2="275.20" stroke="#444" stroke-width="0.4"/>
<text x="19.75" y="278.60" font-size="3.80" text-anchor="middle" fill="#444">-10</text>
<line x1="35.98" y1="274.00" x2="35.98" y2="275.20" stroke="#444" stroke-width="0.4"/>
<text x="35.98" y="278.60" font-size="3.80" text-anchor="middle" fill="#444">-5</text>
<line x1="52.20" y1="274.00" x2="52.20" y2="275.20" stroke="#444" stroke-width="0.4"/>
<text x="52.20" y="278.60" font-size="3.80" text-anchor="middle" fill="#444">0</text>
<line x1="68.43" y1="274.00" x2="68.43" y2="275.20" stroke="#444" stroke-width="0.4"/>
<text x="68.43" y="278.60" font-size="3.80" text-anchor="middle" fill="#444">5</text>
<line x1="84.65" y1="274.00" x2="84.65" y2="275.20" stroke="#444" stroke-width="0.4"/>
<text x="84.65" y="278.60" font-size="3.80" text-anchor="middle" fill="#444">10</text>
<line x1="19.20" y1="204.50" x2="19.20" y2="274.00" stroke="#444" stroke-width="0.5"/>
<line x1="18.00" y1="225.20" x2="19.20" y2="225.20" stroke="#444" stroke-width="0.4"/>
<text x="17.30" y="226.50" font-size="3.80" text-anchor="end" fill="#444">5</text>
<line x1="18.00" y1="246.20" x2="19.20" y2="246.20" stroke="#444" stroke-width="0.4"/>
<text x="17.30" y="247.50" font-size="3.80" text-anchor="end" fill="#444">0</text>
<line x1="18.00" y1="267.20" x2="19.20" y2="267.20" stroke="#444" stroke-width="0.4"/>
<text x="17.30" y="268.50" font-size="3.80" text-anchor="end" fill="#444">-5</text>
<ellipse cx="58.7" cy="252.7" rx="8.4" ry="12" transform="rotate(18 58.7 252.7)" fill="none" stroke="#c0282a" stroke-width="0.8"/>
<g opacity="0.62"><g filter="url(#sk0)"><use href="#u_ProAM" fill="#DB72FB" stroke="none" stroke-width="0.8" transform="translate(122.00,246.20) scale(3.245,4.200)"/></g><g filter="url(#sk1)"><use href="#u_ProAMring" stroke="#DB72FB" stroke-width="2.08" transform="translate(122.00,246.20) scale(3.245,4.200)"/></g><g filter="url(#sk6)"><use href="#u_Mono" fill="#619CFF" stroke="#619CFF" stroke-width="0.8" transform="translate(122.00,246.20) scale(3.245,4.200)"/></g><g filter="url(#sk0)"><use href="#u_Mac1" fill="#FF61C3" stroke="#FF61C3" stroke-width="0.8" transform="translate(122.00,246.20) scale(3.245,4.200)"/></g><g filter="url(#sk5)"><use href="#u_IM1" fill="#F8766D" stroke="#F8766D" stroke-width="0.8" transform="translate(122.00,246.20) scale(3.245,4.200)"/></g><g filter="url(#sk6)"><use href="#u_IM2" fill="#93AA00" stroke="#93AA00" stroke-width="0.8" transform="translate(122.00,246.20) scale(3.245,4.200)"/></g><g filter="url(#sk0)"><use href="#u_Mac0" fill="#00BA38" stroke="#00BA38" stroke-width="0.8" transform="translate(122.00,246.20) scale(3.245,4.200)"/></g><g filter="url(#sk0)"><use href="#u_AM3" fill="#00B9E3" stroke="#00B9E3" stroke-width="0.8" transform="translate(122.00,246.20) scale(3.245,4.200)"/></g><g filter="url(#sk3)"><use href="#u_AM2" fill="#00C19F" stroke="#00C19F" stroke-width="0.8" transform="translate(122.00,246.20) scale(3.245,4.200)"/></g><g filter="url(#sk2)"><use href="#u_AM1" fill="#D39200" stroke="#D39200" stroke-width="0.8" transform="translate(122.00,246.20) scale(3.245,4.200)"/></g></g>
<text x="109.90" y="198.70" font-size="8.90" fill="#000">Bleo+3d</text>
<line x1="89.00" y1="274.00" x2="155.60" y2="274.00" stroke="#444" stroke-width="0.5"/>
<line x1="89.55" y1="274.00" x2="89.55" y2="275.20" stroke="#444" stroke-width="0.4"/>
<text x="89.55" y="278.60" font-size="3.80" text-anchor="middle" fill="#444">-10</text>
<line x1="105.78" y1="274.00" x2="105.78" y2="275.20" stroke="#444" stroke-width="0.4"/>
<text x="105.78" y="278.60" font-size="3.80" text-anchor="middle" fill="#444">-5</text>
<line x1="122.00" y1="274.00" x2="122.00" y2="275.20" stroke="#444" stroke-width="0.4"/>
<text x="122.00" y="278.60" font-size="3.80" text-anchor="middle" fill="#444">0</text>
<line x1="138.22" y1="274.00" x2="138.22" y2="275.20" stroke="#444" stroke-width="0.4"/>
<text x="138.22" y="278.60" font-size="3.80" text-anchor="middle" fill="#444">5</text>
<line x1="154.45" y1="274.00" x2="154.45" y2="275.20" stroke="#444" stroke-width="0.4"/>
<text x="154.45" y="278.60" font-size="3.80" text-anchor="middle" fill="#444">10</text>
<ellipse cx="126.3" cy="252.9" rx="8.4" ry="12" transform="rotate(18 126.3 252.9)" fill="none" stroke="#c0282a" stroke-width="0.8"/>
<g opacity="0.62"><g filter="url(#sk3)"><use href="#u_ProAM" fill="#DB72FB" stroke="none" stroke-width="0.8" transform="translate(192.10,246.20) scale(3.245,4.200)"/></g><g filter="url(#sk4)"><use href="#u_ProAMring" stroke="#DB72FB" stroke-width="2.08" transform="translate(192.10,246.20) scale(3.245,4.200)"/></g><g filter="url(#sk2)"><use href="#u_Mono" fill="#619CFF" stroke="#619CFF" stroke-width="0.8" transform="translate(192.10,246.20) scale(3.245,4.200)"/></g><g filter="url(#sk2)"><use href="#u_Mac1" fill="#FF61C3" stroke="#FF61C3" stroke-width="0.8" transform="translate(192.10,246.20) scale(3.245,4.200)"/></g><g filter="url(#sk5)"><use href="#u_IM1" fill="#F8766D" stroke="#F8766D" stroke-width="0.8" transform="translate(192.10,246.20) scale(3.245,4.200)"/></g><g filter="url(#sk4)"><use href="#u_IM2" fill="#93AA00" stroke="#93AA00" stroke-width="0.8" transform="translate(192.10,246.20) scale(3.245,4.200)"/></g><g filter="url(#sk3)"><use href="#u_Mac0" fill="#00BA38" stroke="#00BA38" stroke-width="0.8" transform="translate(192.10,246.20) scale(3.245,4.200)"/></g><g filter="url(#sk3)"><use href="#u_AM3" fill="#00B9E3" stroke="#00B9E3" stroke-width="0.8" transform="translate(192.10,246.20) scale(3.245,4.200)"/></g><g filter="url(#sk4)"><use href="#u_AM2" fill="#00C19F" stroke="#00C19F" stroke-width="0.8" transform="translate(192.10,246.20) scale(3.245,4.200)"/></g><g filter="url(#sk4)"><use href="#u_AM1" fill="#D39200" stroke="#D39200" stroke-width="0.8" transform="translate(192.10,246.20) scale(3.245,4.200)"/></g></g>
<text x="177.60" y="198.70" font-size="8.90" fill="#000">Bleo+7d</text>
<line x1="159.10" y1="274.00" x2="225.70" y2="274.00" stroke="#444" stroke-width="0.5"/>
<line x1="159.65" y1="274.00" x2="159.65" y2="275.20" stroke="#444" stroke-width="0.4"/>
<text x="159.65" y="278.60" font-size="3.80" text-anchor="middle" fill="#444">-10</text>
<line x1="175.88" y1="274.00" x2="175.88" y2="275.20" stroke="#444" stroke-width="0.4"/>
<text x="175.88" y="278.60" font-size="3.80" text-anchor="middle" fill="#444">-5</text>
<line x1="192.10" y1="274.00" x2="192.10" y2="275.20" stroke="#444" stroke-width="0.4"/>
<text x="192.10" y="278.60" font-size="3.80" text-anchor="middle" fill="#444">0</text>
<line x1="208.32" y1="274.00" x2="208.32" y2="275.20" stroke="#444" stroke-width="0.4"/>
<text x="208.32" y="278.60" font-size="3.80" text-anchor="middle" fill="#444">5</text>
<line x1="224.55" y1="274.00" x2="224.55" y2="275.20" stroke="#444" stroke-width="0.4"/>
<text x="224.55" y="278.60" font-size="3.80" text-anchor="middle" fill="#444">10</text>
<ellipse cx="194" cy="252.9" rx="8.4" ry="12" transform="rotate(18 194 252.9)" fill="none" stroke="#c0282a" stroke-width="0.8"/>
<g opacity="0.62"><g filter="url(#sk2)"><use href="#u_ProAM" fill="#DB72FB" stroke="none" stroke-width="0.8" transform="translate(52.20,330.40) scale(3.245,4.200)"/></g><g filter="url(#sk3)"><use href="#u_ProAMring" stroke="#DB72FB" stroke-width="2.08" transform="translate(52.20,330.40) scale(3.245,4.200)"/></g><g filter="url(#sk1)"><use href="#u_Mono" fill="#619CFF" stroke="#619CFF" stroke-width="0.8" transform="translate(52.20,330.40) scale(3.245,4.200)"/></g><g filter="url(#sk2)"><use href="#u_Mac1" fill="#FF61C3" stroke="#FF61C3" stroke-width="0.8" transform="translate(52.20,330.40) scale(3.245,4.200)"/></g><g filter="url(#sk3)"><use href="#u_IM1" fill="#F8766D" stroke="#F8766D" stroke-width="0.8" transform="translate(52.20,330.40) scale(3.245,4.200)"/></g><g filter="url(#sk3)"><use href="#u_IM2" fill="#93AA00" stroke="#93AA00" stroke-width="0.8" transform="translate(52.20,330.40) scale(3.245,4.200)"/></g><g filter="url(#sk4)"><use href="#u_Mac0" fill="#00BA38" stroke="#00BA38" stroke-width="0.8" transform="translate(52.20,330.40) scale(3.245,4.200)"/></g><g filter="url(#sk2)"><use href="#u_AM3" fill="#00B9E3" stroke="#00B9E3" stroke-width="0.8" transform="translate(52.20,330.40) scale(3.245,4.200)"/></g><g filter="url(#sk4)"><use href="#u_AM2" fill="#00C19F" stroke="#00C19F" stroke-width="0.8" transform="translate(52.20,330.40) scale(3.245,4.200)"/></g><g filter="url(#sk3)"><use href="#u_AM1" fill="#D39200" stroke="#D39200" stroke-width="0.8" transform="translate(52.20,330.40) scale(3.245,4.200)"/></g></g>
<text x="36.20" y="287.80" font-size="8.90" fill="#000">Bleo+2w</text>
<line x1="19.20" y1="358.20" x2="85.80" y2="358.20" stroke="#444" stroke-width="0.5"/>
<line x1="19.75" y1="358.20" x2="19.75" y2="359.40" stroke="#444" stroke-width="0.4"/>
<text x="19.75" y="362.80" font-size="3.80" text-anchor="middle" fill="#444">-10</text>
<line x1="35.98" y1="358.20" x2="35.98" y2="359.40" stroke="#444" stroke-width="0.4"/>
<text x="35.98" y="362.80" font-size="3.80" text-anchor="middle" fill="#444">-5</text>
<line x1="52.20" y1="358.20" x2="52.20" y2="359.40" stroke="#444" stroke-width="0.4"/>
<text x="52.20" y="362.80" font-size="3.80" text-anchor="middle" fill="#444">0</text>
<line x1="68.43" y1="358.20" x2="68.43" y2="359.40" stroke="#444" stroke-width="0.4"/>
<text x="68.43" y="362.80" font-size="3.80" text-anchor="middle" fill="#444">5</text>
<line x1="84.65" y1="358.20" x2="84.65" y2="359.40" stroke="#444" stroke-width="0.4"/>
<text x="84.65" y="362.80" font-size="3.80" text-anchor="middle" fill="#444">10</text>
<line x1="19.20" y1="288.70" x2="19.20" y2="358.20" stroke="#444" stroke-width="0.5"/>
<line x1="18.00" y1="309.40" x2="19.20" y2="309.40" stroke="#444" stroke-width="0.4"/>
<text x="17.30" y="310.70" font-size="3.80" text-anchor="end" fill="#444">5</text>
<line x1="18.00" y1="330.40" x2="19.20" y2="330.40" stroke="#444" stroke-width="0.4"/>
<text x="17.30" y="331.70" font-size="3.80" text-anchor="end" fill="#444">0</text>
<line x1="18.00" y1="351.40" x2="19.20" y2="351.40" stroke="#444" stroke-width="0.4"/>
<text x="17.30" y="352.70" font-size="3.80" text-anchor="end" fill="#444">-5</text>
<ellipse cx="57.2" cy="336.9" rx="8.4" ry="12" transform="rotate(18 57.2 336.9)" fill="none" stroke="#c0282a" stroke-width="0.8"/>
<g opacity="0.62"><g filter="url(#sk3)"><use href="#u_ProAM" fill="#DB72FB" stroke="none" stroke-width="0.8" transform="translate(122.00,330.40) scale(3.245,4.200)"/></g><g filter="url(#sk4)"><use href="#u_ProAMring" stroke="#DB72FB" stroke-width="2.08" transform="translate(122.00,330.40) scale(3.245,4.200)"/></g><g filter="url(#sk2)"><use href="#u_Mono" fill="#619CFF" stroke="#619CFF" stroke-width="0.8" transform="translate(122.00,330.40) scale(3.245,4.200)"/></g><g filter="url(#sk2)"><use href="#u_Mac1" fill="#FF61C3" stroke="#FF61C3" stroke-width="0.8" transform="translate(122.00,330.40) scale(3.245,4.200)"/></g><g filter="url(#sk3)"><use href="#u_IM1" fill="#F8766D" stroke="#F8766D" stroke-width="0.8" transform="translate(122.00,330.40) scale(3.245,4.200)"/></g><g filter="url(#sk4)"><use href="#u_IM2" fill="#93AA00" stroke="#93AA00" stroke-width="0.8" transform="translate(122.00,330.40) scale(3.245,4.200)"/></g><g filter="url(#sk5)"><use href="#u_Mac0" fill="#00BA38" stroke="#00BA38" stroke-width="0.8" transform="translate(122.00,330.40) scale(3.245,4.200)"/></g><g filter="url(#sk3)"><use href="#u_AM3" fill="#00B9E3" stroke="#00B9E3" stroke-width="0.8" transform="translate(122.00,330.40) scale(3.245,4.200)"/></g><g filter="url(#sk5)"><use href="#u_AM2" fill="#00C19F" stroke="#00C19F" stroke-width="0.8" transform="translate(122.00,330.40) scale(3.245,4.200)"/></g><g filter="url(#sk5)"><use href="#u_AM1" fill="#D39200" stroke="#D39200" stroke-width="0.8" transform="translate(122.00,330.40) scale(3.245,4.200)"/></g></g>
<text x="109.80" y="287.80" font-size="8.90" fill="#000">Bleo+4w</text>
<line x1="89.00" y1="358.20" x2="155.60" y2="358.20" stroke="#444" stroke-width="0.5"/>
<line x1="89.55" y1="358.20" x2="89.55" y2="359.40" stroke="#444" stroke-width="0.4"/>
<text x="89.55" y="362.80" font-size="3.80" text-anchor="middle" fill="#444">-10</text>
<line x1="105.78" y1="358.20" x2="105.78" y2="359.40" stroke="#444" stroke-width="0.4"/>
<text x="105.78" y="362.80" font-size="3.80" text-anchor="middle" fill="#444">-5</text>
<line x1="122.00" y1="358.20" x2="122.00" y2="359.40" stroke="#444" stroke-width="0.4"/>
<text x="122.00" y="362.80" font-size="3.80" text-anchor="middle" fill="#444">0</text>
<line x1="138.22" y1="358.20" x2="138.22" y2="359.40" stroke="#444" stroke-width="0.4"/>
<text x="138.22" y="362.80" font-size="3.80" text-anchor="middle" fill="#444">5</text>
<line x1="154.45" y1="358.20" x2="154.45" y2="359.40" stroke="#444" stroke-width="0.4"/>
<text x="154.45" y="362.80" font-size="3.80" text-anchor="middle" fill="#444">10</text>
<ellipse cx="125.7" cy="336.9" rx="8.4" ry="12" transform="rotate(18 125.7 336.9)" fill="none" stroke="#c0282a" stroke-width="0.8"/>
<line x1="188.40" y1="322.50" x2="188.40" y2="344.00" stroke="#000" stroke-width="0.7"/>
<path d="M186.8,323.5 L190,323.5 L188.4,320.3 Z" fill="#000" stroke="none" stroke-width="0.8"/>
<line x1="188.40" y1="344.00" x2="210.50" y2="344.00" stroke="#000" stroke-width="0.7"/>
<path d="M210,342.4 L210,345.6 L213,344 Z" fill="#000" stroke="none" stroke-width="0.8"/>
<text x="184.60" y="333.00" font-size="7.20" text-anchor="middle" fill="#000" transform="rotate(-90 184.60 333.00)">UMAP_2</text>
<text x="185.70" y="353.80" font-size="7.20" fill="#000">UMAP_1</text>
<text x="277.80" y="201.60" font-size="12.20" font-weight="bold" fill="#000">e</text>
<rect x="303.10" y="209.80" width="17.60" height="5.35" fill="#F8766D"/>
<rect x="303.10" y="215.10" width="17.60" height="44.85" fill="#D39200"/>
<rect x="303.10" y="259.90" width="17.60" height="3.35" fill="#00BA38"/>
<rect x="303.10" y="263.20" width="17.60" height="19.85" fill="#00C19F"/>
<rect x="303.10" y="283.00" width="17.60" height="20.25" fill="#00B9E3"/>
<rect x="303.10" y="303.20" width="17.60" height="6.55" fill="#619CFF"/>
<rect x="303.10" y="309.70" width="17.60" height="18.05" fill="#DB72FB"/>
<rect x="303.10" y="327.70" width="17.60" height="1.95" fill="#FF61C3"/>
<rect x="323.25" y="209.80" width="17.60" height="51.95" fill="#F8766D"/>
<rect x="323.25" y="261.70" width="17.60" height="10.35" fill="#D39200"/>
<rect x="323.25" y="272.00" width="17.60" height="24.25" fill="#93AA00"/>
<rect x="323.25" y="296.20" width="17.60" height="8.25" fill="#00C19F"/>
<rect x="323.25" y="304.40" width="17.60" height="2.65" fill="#00B9E3"/>
<rect x="323.25" y="307.00" width="17.60" height="20.25" fill="#619CFF"/>
<rect x="323.25" y="327.20" width="17.60" height="2.45" fill="#FF61C3"/>
<rect x="343.40" y="209.80" width="17.60" height="44.25" fill="#F8766D"/>
<rect x="343.40" y="254.00" width="17.60" height="17.15" fill="#D39200"/>
<rect x="343.40" y="271.10" width="17.60" height="19.55" fill="#93AA00"/>
<rect x="343.40" y="290.60" width="17.60" height="8.55" fill="#00BA38"/>
<rect x="343.40" y="299.10" width="17.60" height="11.15" fill="#00C19F"/>
<rect x="343.40" y="310.20" width="17.60" height="5.85" fill="#00B9E3"/>
<rect x="343.40" y="316.00" width="17.60" height="3.55" fill="#619CFF"/>
<rect x="343.40" y="319.50" width="17.60" height="7.75" fill="#DB72FB"/>
<rect x="343.40" y="327.20" width="17.60" height="2.45" fill="#FF61C3"/>
<rect x="363.55" y="209.80" width="17.60" height="33.95" fill="#F8766D"/>
<rect x="363.55" y="243.70" width="17.60" height="16.95" fill="#D39200"/>
<rect x="363.55" y="260.60" width="17.60" height="18.45" fill="#93AA00"/>
<rect x="363.55" y="279.00" width="17.60" height="22.15" fill="#00BA38"/>
<rect x="363.55" y="301.10" width="17.60" height="12.95" fill="#00C19F"/>
<rect x="363.55" y="314.00" width="17.60" height="5.85" fill="#00B9E3"/>
<rect x="363.55" y="319.80" width="17.60" height="3.25" fill="#619CFF"/>
<rect x="363.55" y="323.00" width="17.60" height="4.75" fill="#DB72FB"/>
<rect x="363.55" y="327.70" width="17.60" height="1.95" fill="#FF61C3"/>
<rect x="383.70" y="209.80" width="17.60" height="23.15" fill="#F8766D"/>
<rect x="383.70" y="232.90" width="17.60" height="20.55" fill="#D39200"/>
<rect x="383.70" y="253.40" width="17.60" height="19.65" fill="#93AA00"/>
<rect x="383.70" y="273.00" width="17.60" height="29.85" fill="#00BA38"/>
<rect x="383.70" y="302.80" width="17.60" height="12.15" fill="#00C19F"/>
<rect x="383.70" y="314.90" width="17.60" height="7.25" fill="#00B9E3"/>
<rect x="383.70" y="322.10" width="17.60" height="5.65" fill="#DB72FB"/>
<rect x="383.70" y="327.70" width="17.60" height="1.95" fill="#FF61C3"/>
<line x1="300.20" y1="204.30" x2="300.20" y2="335.00" stroke="#333" stroke-width="0.6"/>
<line x1="300.20" y1="335.00" x2="404.80" y2="335.00" stroke="#333" stroke-width="0.6"/>
<line x1="299.00" y1="209.80" x2="300.20" y2="209.80" stroke="#333" stroke-width="0.4"/>
<text x="298.40" y="210.70" font-size="2.80" text-anchor="end" fill="#555">1.00</text>
<line x1="299.00" y1="239.75" x2="300.20" y2="239.75" stroke="#333" stroke-width="0.4"/>
<text x="298.40" y="240.65" font-size="2.80" text-anchor="end" fill="#555">0.75</text>
<line x1="299.00" y1="269.70" x2="300.20" y2="269.70" stroke="#333" stroke-width="0.4"/>
<text x="298.40" y="270.60" font-size="2.80" text-anchor="end" fill="#555">0.50</text>
<line x1="299.00" y1="299.65" x2="300.20" y2="299.65" stroke="#333" stroke-width="0.4"/>
<text x="298.40" y="300.55" font-size="2.80" text-anchor="end" fill="#555">0.25</text>
<line x1="299.00" y1="329.60" x2="300.20" y2="329.60" stroke="#333" stroke-width="0.4"/>
<text x="298.40" y="330.50" font-size="2.80" text-anchor="end" fill="#555">0.00</text>
<text x="284.60" y="267.60" font-size="6.78" text-anchor="middle" fill="#000" transform="rotate(-90 284.60 267.60)">Percentage</text>
<line x1="311.90" y1="335.00" x2="311.90" y2="336.20" stroke="#333" stroke-width="0.4"/>
<text x="318.40" y="342.00" font-size="7.00" text-anchor="end" fill="#222" transform="rotate(-30 318.40 342.00)">Sham</text>
<line x1="332.05" y1="335.00" x2="332.05" y2="336.20" stroke="#333" stroke-width="0.4"/>
<text x="338.55" y="342.00" font-size="7.00" text-anchor="end" fill="#222" transform="rotate(-30 338.55 342.00)">Bleo+3d</text>
<line x1="352.20" y1="335.00" x2="352.20" y2="336.20" stroke="#333" stroke-width="0.4"/>
<text x="358.70" y="342.00" font-size="7.00" text-anchor="end" fill="#222" transform="rotate(-30 358.70 342.00)">Bleo+7d</text>
<line x1="372.35" y1="335.00" x2="372.35" y2="336.20" stroke="#333" stroke-width="0.4"/>
<text x="378.85" y="342.00" font-size="7.00" text-anchor="end" fill="#222" transform="rotate(-30 378.85 342.00)">Bleo+2w</text>
<line x1="392.50" y1="335.00" x2="392.50" y2="336.20" stroke="#333" stroke-width="0.4"/>
<text x="399.00" y="342.00" font-size="7.00" text-anchor="end" fill="#222" transform="rotate(-30 399.00 342.00)">Bleo+4w</text>
<text x="457.00" y="201.60" font-size="12.20" font-weight="bold" fill="#000">f</text>
<rect x="490.60" y="216.20" width="13.50" height="53.20" fill="#fdd8c2" stroke="#3a3a3a" stroke-width="0.55"/>
<text x="497.35" y="215.10" font-size="3.40" text-anchor="middle" fill="#444">6835</text>
<rect x="509.60" y="226.50" width="13.50" height="42.90" fill="#fdd8c2" stroke="#3a3a3a" stroke-width="0.55"/>
<text x="516.35" y="225.40" font-size="3.40" text-anchor="middle" fill="#444">4866</text>
<rect x="528.50" y="240.50" width="13.50" height="28.90" fill="#fdd8c2" stroke="#3a3a3a" stroke-width="0.55"/>
<text x="535.25" y="239.40" font-size="3.40" text-anchor="middle" fill="#444">3133</text>
<rect x="547.20" y="245.10" width="13.50" height="24.30" fill="#fdd8c2" stroke="#3a3a3a" stroke-width="0.55"/>
<text x="553.95" y="244.00" font-size="3.40" text-anchor="middle" fill="#444">2669</text>
<rect x="566.00" y="245.60" width="13.50" height="23.80" fill="#fdd8c2" stroke="#3a3a3a" stroke-width="0.55"/>
<text x="572.75" y="244.50" font-size="3.40" text-anchor="middle" fill="#444">2587</text>
<rect x="584.60" y="252.90" width="13.50" height="16.50" fill="#fdd8c2" stroke="#3a3a3a" stroke-width="0.55"/>
<text x="591.35" y="251.80" font-size="3.40" text-anchor="middle" fill="#444">1808</text>
<rect x="603.40" y="253.80" width="13.50" height="15.60" fill="#fdd8c2" stroke="#3a3a3a" stroke-width="0.55"/>
<text x="610.15" y="252.70" font-size="3.40" text-anchor="middle" fill="#444">1702</text>
<rect x="622.40" y="258.00" width="13.50" height="11.40" fill="#fdd8c2" stroke="#3a3a3a" stroke-width="0.55"/>
<text x="629.15" y="256.90" font-size="3.40" text-anchor="middle" fill="#444">1243</text>
<rect x="641.40" y="266.20" width="13.50" height="3.20" fill="#fdd8c2" stroke="#3a3a3a" stroke-width="0.55"/>
<text x="648.15" y="265.10" font-size="3.40" text-anchor="middle" fill="#444">312</text>
<rect x="486.40" y="269.40" width="173.10" height="64.80" fill="#fff" stroke="#3a3a3a" stroke-width="0.6"/>
<text x="483.30" y="279.30" font-size="6.80" text-anchor="end" fill="#222">Bleo+4w</text>
<line x1="484.60" y1="276.90" x2="486.40" y2="276.90" stroke="#333" stroke-width="0.4"/>
<circle cx="497.30" cy="276.90" r="1.60" fill="#daaab1"/>
<circle cx="516.13" cy="276.90" r="1.60" fill="#d6a0a8"/>
<circle cx="534.96" cy="276.90" r="1.90" fill="#ba7080"/>
<circle cx="553.79" cy="276.90" r="2.50" fill="#67001f"/>
<circle cx="572.62" cy="276.90" r="1.60" fill="#d6a0a8"/>
<circle cx="591.45" cy="276.90" r="1.50" fill="#daaab1"/>
<circle cx="610.28" cy="276.90" r="1.50" fill="#daaab1"/>
<circle cx="629.11" cy="276.90" r="0.80" fill="#f3dde1"/>
<circle cx="647.94" cy="276.90" r="1.70" fill="#cc909a"/>
<text x="483.30" y="291.90" font-size="6.80" text-anchor="end" fill="#222">Bleo+2w</text>
<line x1="484.60" y1="289.50" x2="486.40" y2="289.50" stroke="#333" stroke-width="0.4"/>
<circle cx="497.30" cy="289.50" r="1.50" fill="#dfb4bb"/>
<circle cx="516.13" cy="289.50" r="1.20" fill="#eccfd4"/>
<circle cx="534.96" cy="289.50" r="1.40" fill="#e4bec4"/>
<circle cx="553.79" cy="289.50" r="1.70" fill="#cc909a"/>
<circle cx="572.62" cy="289.50" r="1.40" fill="#dfb4bb"/>
<circle cx="591.45" cy="289.50" r="1.20" fill="#eccfd4"/>
<circle cx="610.28" cy="289.50" r="1.20" fill="#e9c9ce"/>
<circle cx="629.11" cy="289.50" r="1.10" fill="#eed3d7"/>
<circle cx="647.94" cy="289.50" r="1.40" fill="#e2bac0"/>
<text x="483.30" y="304.50" font-size="6.80" text-anchor="end" fill="#222">Bleo+7d</text>
<line x1="484.60" y1="302.10" x2="486.40" y2="302.10" stroke="#333" stroke-width="0.4"/>
<circle cx="497.30" cy="302.10" r="1.90" fill="#ba7080"/>
<circle cx="516.13" cy="302.10" r="1.40" fill="#e4bec4"/>
<circle cx="534.96" cy="302.10" r="1.80" fill="#cc909a"/>
<circle cx="553.79" cy="302.10" r="1.30" fill="#e6c2c8"/>
<circle cx="572.62" cy="302.10" r="1.50" fill="#dfb4bb"/>
<circle cx="591.45" cy="302.10" r="1.40" fill="#e4bec4"/>
<circle cx="610.28" cy="302.10" r="1.50" fill="#dcaeb5"/>
<circle cx="629.11" cy="302.10" r="1.10" fill="#eccfd4"/>
<circle cx="647.94" cy="302.10" r="1.90" fill="#ba7080"/>
<text x="483.30" y="317.00" font-size="6.80" text-anchor="end" fill="#222">Bleo+3d</text>
<line x1="484.60" y1="314.60" x2="486.40" y2="314.60" stroke="#333" stroke-width="0.4"/>
<circle cx="497.30" cy="314.60" r="1.90" fill="#ba7080"/>
<circle cx="516.13" cy="314.60" r="1.00" fill="#f2dbdf"/>
<circle cx="534.96" cy="314.60" r="1.80" fill="#cc909a"/>
<circle cx="572.62" cy="314.60" r="1.10" fill="#eed3d7"/>
<circle cx="591.45" cy="314.60" r="0.80" fill="#f4dfe3"/>
<circle cx="610.28" cy="314.60" r="0.50" fill="#f6e3e7"/>
<circle cx="629.11" cy="314.60" r="2.50" fill="#67001f"/>
<circle cx="647.94" cy="314.60" r="1.10" fill="#eed3d7"/>
<text x="483.30" y="329.20" font-size="6.80" text-anchor="end" fill="#222">Sham</text>
<line x1="484.60" y1="326.80" x2="486.40" y2="326.80" stroke="#333" stroke-width="0.4"/>
<circle cx="497.30" cy="326.80" r="0.90" fill="#f4dfe3"/>
<circle cx="516.13" cy="326.80" r="2.40" fill="#76102d"/>
<circle cx="553.79" cy="326.80" r="0.90" fill="#f2dbdf"/>
<circle cx="572.62" cy="326.80" r="2.10" fill="#a85165"/>
<circle cx="591.45" cy="326.80" r="2.60" fill="#67001f"/>
<circle cx="610.28" cy="326.80" r="2.60" fill="#67001f"/>
<circle cx="629.11" cy="326.80" r="1.80" fill="#cc909a"/>
<circle cx="647.94" cy="326.80" r="1.70" fill="#cc909a"/>
<line x1="497.30" y1="334.20" x2="497.30" y2="335.60" stroke="#333" stroke-width="0.4"/>
<text x="501.60" y="340.40" font-size="6.80" text-anchor="end" fill="#222" transform="rotate(-33 501.60 340.40)">IM-1</text>
<line x1="516.13" y1="334.20" x2="516.13" y2="335.60" stroke="#333" stroke-width="0.4"/>
<text x="520.43" y="340.40" font-size="6.80" text-anchor="end" fill="#222" transform="rotate(-33 520.43 340.40)">AM-1</text>
<line x1="534.96" y1="334.20" x2="534.96" y2="335.60" stroke="#333" stroke-width="0.4"/>
<text x="539.26" y="340.40" font-size="6.80" text-anchor="end" fill="#222" transform="rotate(-33 539.26 340.40)">IM-2</text>
<line x1="553.79" y1="334.20" x2="553.79" y2="335.60" stroke="#333" stroke-width="0.4"/>
<text x="558.09" y="340.40" font-size="6.80" text-anchor="end" fill="#222" transform="rotate(-33 558.09 340.40)">Mac0</text>
<line x1="572.62" y1="334.20" x2="572.62" y2="335.60" stroke="#333" stroke-width="0.4"/>
<text x="576.92" y="340.40" font-size="6.80" text-anchor="end" fill="#222" transform="rotate(-33 576.92 340.40)">AM-2</text>
<line x1="591.45" y1="334.20" x2="591.45" y2="335.60" stroke="#333" stroke-width="0.4"/>
<text x="595.75" y="340.40" font-size="6.80" text-anchor="end" fill="#222" transform="rotate(-33 595.75 340.40)">AM-3</text>
<line x1="610.28" y1="334.20" x2="610.28" y2="335.60" stroke="#333" stroke-width="0.4"/>
<text x="614.58" y="340.40" font-size="6.80" text-anchor="end" fill="#222" transform="rotate(-33 614.58 340.40)">Pro_AM</text>
<line x1="629.11" y1="334.20" x2="629.11" y2="335.60" stroke="#333" stroke-width="0.4"/>
<text x="633.41" y="340.40" font-size="6.80" text-anchor="end" fill="#222" transform="rotate(-33 633.41 340.40)">Mono</text>
<line x1="647.94" y1="334.20" x2="647.94" y2="335.60" stroke="#333" stroke-width="0.4"/>
<text x="652.24" y="340.40" font-size="6.80" text-anchor="end" fill="#222" transform="rotate(-33 652.24 340.40)">Mac1</text>
<rect x="665.50" y="238.50" width="5.50" height="27.70" fill="url(#pg)"/>
<text x="665.00" y="235.20" font-size="3.90" fill="#333">percent</text>
<text x="673.20" y="242.80" font-size="3.00" fill="#555">50</text>
<text x="673.20" y="248.25" font-size="3.00" fill="#555">40</text>
<text x="673.20" y="253.70" font-size="3.00" fill="#555">30</text>
<text x="673.20" y="259.15" font-size="3.00" fill="#555">20</text>
<text x="673.20" y="264.60" font-size="3.00" fill="#555">10</text>
<text x="665.00" y="278.70" font-size="3.90" fill="#333">percent</text>
<circle cx="668.00" cy="284.70" r="1.10" fill="#000"/>
<text x="673.20" y="285.80" font-size="3.00" fill="#555">10</text>
<circle cx="668.00" cy="291.10" r="1.50" fill="#000"/>
<text x="673.20" y="292.20" font-size="3.00" fill="#555">20</text>
<circle cx="668.00" cy="296.90" r="1.85" fill="#000"/>
<text x="673.20" y="298.00" font-size="3.00" fill="#555">30</text>
<circle cx="668.00" cy="303.00" r="2.15" fill="#000"/>
<text x="673.20" y="304.10" font-size="3.00" fill="#555">40</text>
<circle cx="668.00" cy="308.80" r="2.45" fill="#000"/>
<text x="673.20" y="309.90" font-size="3.00" fill="#555">50</text>
<text x="1.20" y="402.90" font-size="12.20" font-weight="bold" fill="#000">g</text>
<rect x="120.50" y="403.90" width="17.20" height="110.00" fill="#c6a5b2"/>
<rect x="120.5" y="403.9" width="17.2" height="110.00" fill="#8a1a2e" fill-opacity="0.61" filter="url(#hr)"/>
<rect x="120.5" y="403.9" width="17.2" height="110.00" fill="#f6f8fb" fill-opacity="0.5" filter="url(#hw)"/>
<rect x="120.50" y="403.90" width="17.20" height="110.00" fill="none" stroke="#999" stroke-width="1.0"/>
<rect x="139.70" y="403.90" width="17.20" height="110.00" fill="#d7dbe6"/>
<rect x="139.7" y="403.9" width="17.2" height="110.00" fill="#3b78b5" fill-opacity="0.27" filter="url(#hb)"/>
<rect x="139.7" y="403.9" width="17.2" height="110.00" fill="#a01e36" fill-opacity="0.61" filter="url(#hr2)"/>
<rect x="139.7" y="403.9" width="17.2" height="110.00" fill="#f6f8fb" fill-opacity="0.5" filter="url(#hw)"/>
<rect x="139.70" y="403.90" width="17.20" height="110.00" fill="none" stroke="#999" stroke-width="1.0"/>
<rect x="158.50" y="403.90" width="17.20" height="110.00" fill="#d8dce7"/>
<rect x="158.5" y="403.9" width="17.2" height="110.00" fill="#3b78b5" fill-opacity="0.27" filter="url(#hb)"/>
<rect x="158.5" y="403.9" width="17.2" height="110.00" fill="#a01e36" fill-opacity="0.58" filter="url(#hr2)"/>
<rect x="158.5" y="403.9" width="17.2" height="110.00" fill="#f6f8fb" fill-opacity="0.5" filter="url(#hw)"/>
<rect x="158.50" y="403.90" width="17.20" height="110.00" fill="none" stroke="#999" stroke-width="1.0"/>
<rect x="177.70" y="403.90" width="17.20" height="110.00" fill="#dae3ed"/>
<rect x="177.7" y="403.9" width="17.2" height="110.00" fill="#3b78b5" fill-opacity="0.30" filter="url(#hb)"/>
<rect x="177.7" y="403.9" width="17.2" height="110.00" fill="#a01e36" fill-opacity="0.26" filter="url(#hr2)"/>
<rect x="177.7" y="403.9" width="17.2" height="110.00" fill="#f6f8fb" fill-opacity="0.5" filter="url(#hw)"/>
<rect x="177.70" y="403.90" width="17.20" height="110.00" fill="none" stroke="#999" stroke-width="1.0"/>
<rect x="196.50" y="403.90" width="17.20" height="110.00" fill="#dae4ee"/>
<rect x="196.5" y="403.9" width="17.2" height="110.00" fill="#3b78b5" fill-opacity="0.33" filter="url(#hb)"/>
<rect x="196.5" y="403.9" width="17.2" height="110.00" fill="#a01e36" fill-opacity="0.20" filter="url(#hr2)"/>
<rect x="196.5" y="403.9" width="17.2" height="110.00" fill="#f6f8fb" fill-opacity="0.5" filter="url(#hw)"/>
<rect x="196.50" y="403.90" width="17.20" height="110.00" fill="none" stroke="#999" stroke-width="1.0"/>
<rect x="215.40" y="403.90" width="17.20" height="110.00" fill="#dae4ee"/>
<rect x="215.4" y="403.9" width="17.2" height="110.00" fill="#3b78b5" fill-opacity="0.33" filter="url(#hb)"/>
<rect x="215.4" y="403.9" width="17.2" height="110.00" fill="#a01e36" fill-opacity="0.20" filter="url(#hr2)"/>
<rect x="215.4" y="403.9" width="17.2" height="110.00" fill="#f6f8fb" fill-opacity="0.5" filter="url(#hw)"/>
<rect x="215.40" y="403.90" width="17.20" height="110.00" fill="none" stroke="#999" stroke-width="1.0"/>
<rect x="234.50" y="403.90" width="17.20" height="110.00" fill="#dae3ee"/>
<rect x="234.5" y="403.9" width="17.2" height="110.00" fill="#3b78b5" fill-opacity="0.33" filter="url(#hb)"/>
<rect x="234.5" y="403.9" width="17.2" height="110.00" fill="#a01e36" fill-opacity="0.24" filter="url(#hr2)"/>
<rect x="234.5" y="403.9" width="17.2" height="110.00" fill="#f6f8fb" fill-opacity="0.5" filter="url(#hw)"/>
<rect x="234.50" y="403.90" width="17.20" height="110.00" fill="none" stroke="#999" stroke-width="1.0"/>
<rect x="253.40" y="403.90" width="17.20" height="110.00" fill="#dae3ed"/>
<rect x="253.4" y="403.9" width="17.2" height="110.00" fill="#3b78b5" fill-opacity="0.30" filter="url(#hb)"/>
<rect x="253.4" y="403.9" width="17.2" height="110.00" fill="#a01e36" fill-opacity="0.27" filter="url(#hr2)"/>
<rect x="253.4" y="403.9" width="17.2" height="110.00" fill="#f6f8fb" fill-opacity="0.5" filter="url(#hw)"/>
<rect x="253.40" y="403.90" width="17.20" height="110.00" fill="none" stroke="#999" stroke-width="1.0"/>
<rect x="272.50" y="403.90" width="17.20" height="110.00" fill="#d8dee9"/>
<rect x="272.5" y="403.9" width="17.2" height="110.00" fill="#3b78b5" fill-opacity="0.27" filter="url(#hb)"/>
<rect x="272.5" y="403.9" width="17.2" height="110.00" fill="#a01e36" fill-opacity="0.48" filter="url(#hr2)"/>
<rect x="272.5" y="403.9" width="17.2" height="110.00" fill="#f6f8fb" fill-opacity="0.5" filter="url(#hw)"/>
<rect x="272.50" y="403.90" width="17.20" height="110.00" fill="none" stroke="#999" stroke-width="1.0"/>
<rect x="120.50" y="515.90" width="17.20" height="47.10" fill="#d1c7d3"/>
<rect x="120.5" y="515.9" width="17.2" height="47.10" fill="#3b78b5" fill-opacity="0.24" filter="url(#hb)"/>
<rect x="120.5" y="515.9" width="17.2" height="47.10" fill="#8a1a2e" fill-opacity="0.30" filter="url(#hr)"/>
<rect x="120.5" y="515.9" width="17.2" height="47.10" fill="#f6f8fb" fill-opacity="0.5" filter="url(#hw)"/>
<rect x="120.50" y="515.90" width="17.20" height="47.10" fill="none" stroke="#999" stroke-width="1.0"/>
<rect x="139.70" y="515.90" width="17.20" height="47.10" fill="#cbb5c1"/>
<rect x="139.7" y="515.9" width="17.2" height="47.10" fill="#8a1a2e" fill-opacity="0.46" filter="url(#hr)"/>
<rect x="139.7" y="515.9" width="17.2" height="47.10" fill="#f6f8fb" fill-opacity="0.5" filter="url(#hw)"/>
<rect x="139.70" y="515.90" width="17.20" height="47.10" fill="none" stroke="#999" stroke-width="1.0"/>
<rect x="158.50" y="515.90" width="17.20" height="47.10" fill="#ccb7c3"/>
<rect x="158.5" y="515.9" width="17.2" height="47.10" fill="#8a1a2e" fill-opacity="0.45" filter="url(#hr)"/>
<rect x="158.5" y="515.9" width="17.2" height="47.10" fill="#f6f8fb" fill-opacity="0.5" filter="url(#hw)"/>
<rect x="158.50" y="515.90" width="17.20" height="47.10" fill="none" stroke="#999" stroke-width="1.0"/>
<rect x="177.70" y="515.90" width="17.20" height="47.10" fill="#d9e2ec"/>
<rect x="177.7" y="515.9" width="17.2" height="47.10" fill="#3b78b5" fill-opacity="0.30" filter="url(#hb)"/>
<rect x="177.7" y="515.9" width="17.2" height="47.10" fill="#a01e36" fill-opacity="0.31" filter="url(#hr2)"/>
<rect x="177.7" y="515.9" width="17.2" height="47.10" fill="#f6f8fb" fill-opacity="0.5" filter="url(#hw)"/>
<rect x="177.70" y="515.90" width="17.20" height="47.10" fill="none" stroke="#999" stroke-width="1.0"/>
<rect x="196.50" y="515.90" width="17.20" height="47.10" fill="#d2e0ed"/>
<rect x="196.5" y="515.9" width="17.2" height="47.10" fill="#3b78b5" fill-opacity="0.36" filter="url(#hb)"/>
<rect x="196.5" y="515.9" width="17.2" height="47.10" fill="#a01e36" fill-opacity="0.12" filter="url(#hr2)"/>
<rect x="196.5" y="515.9" width="17.2" height="47.10" fill="#f6f8fb" fill-opacity="0.5" filter="url(#hw)"/>
<rect x="196.50" y="515.90" width="17.20" height="47.10" fill="none" stroke="#999" stroke-width="1.0"/>
<rect x="215.40" y="515.90" width="17.20" height="47.10" fill="#d2e0ed"/>
<rect x="215.4" y="515.9" width="17.2" height="47.10" fill="#3b78b5" fill-opacity="0.36" filter="url(#hb)"/>
<rect x="215.4" y="515.9" width="17.2" height="47.10" fill="#a01e36" fill-opacity="0.12" filter="url(#hr2)"/>
<rect x="215.4" y="515.9" width="17.2" height="47.10" fill="#f6f8fb" fill-opacity="0.5" filter="url(#hw)"/>
<rect x="215.40" y="515.90" width="17.20" height="47.10" fill="none" stroke="#999" stroke-width="1.0"/>
<rect x="234.50" y="515.90" width="17.20" height="47.10" fill="#d2e0ed"/>
<rect x="234.5" y="515.9" width="17.2" height="47.10" fill="#3b78b5" fill-opacity="0.36" filter="url(#hb)"/>
<rect x="234.5" y="515.9" width="17.2" height="47.10" fill="#a01e36" fill-opacity="0.12" filter="url(#hr2)"/>
<rect x="234.5" y="515.9" width="17.2" height="47.10" fill="#f6f8fb" fill-opacity="0.5" filter="url(#hw)"/>
<rect x="234.50" y="515.90" width="17.20" height="47.10" fill="none" stroke="#999" stroke-width="1.0"/>
<rect x="253.40" y="515.90" width="17.20" height="47.10" fill="#dae5ef"/>
<rect x="253.4" y="515.9" width="17.2" height="47.10" fill="#3b78b5" fill-opacity="0.33" filter="url(#hb)"/>
<rect x="253.4" y="515.9" width="17.2" height="47.10" fill="#a01e36" fill-opacity="0.17" filter="url(#hr2)"/>
<rect x="253.4" y="515.9" width="17.2" height="47.10" fill="#f6f8fb" fill-opacity="0.5" filter="url(#hw)"/>
<rect x="253.40" y="515.90" width="17.20" height="47.10" fill="none" stroke="#999" stroke-width="1.0"/>
<rect x="272.50" y="515.90" width="17.20" height="47.10" fill="#dae4ee"/>
<rect x="272.5" y="515.9" width="17.2" height="47.10" fill="#3b78b5" fill-opacity="0.33" filter="url(#hb)"/>
<rect x="272.5" y="515.9" width="17.2" height="47.10" fill="#a01e36" fill-opacity="0.20" filter="url(#hr2)"/>
<rect x="272.5" y="515.9" width="17.2" height="47.10" fill="#f6f8fb" fill-opacity="0.5" filter="url(#hw)"/>
<rect x="272.50" y="515.90" width="17.20" height="47.10" fill="none" stroke="#999" stroke-width="1.0"/>
<rect x="120.50" y="565.40" width="17.20" height="26.00" fill="#b7cee4"/>
<rect x="120.5" y="565.4" width="17.2" height="26.00" fill="#3b78b5" fill-opacity="0.45" filter="url(#hb)"/>
<rect x="120.5" y="565.4" width="17.2" height="26.00" fill="#a01e36" fill-opacity="0.14" filter="url(#hr2)"/>
<rect x="120.5" y="565.4" width="17.2" height="26.00" fill="#f6f8fb" fill-opacity="0.5" filter="url(#hw)"/>
<rect x="120.50" y="565.40" width="17.20" height="26.00" fill="none" stroke="#999" stroke-width="1.0"/>
<rect x="139.70" y="565.40" width="17.20" height="26.00" fill="#d0c4cf"/>
<rect x="139.7" y="565.4" width="17.2" height="26.00" fill="#3b78b5" fill-opacity="0.27" filter="url(#hb)"/>
<rect x="139.7" y="565.4" width="17.2" height="26.00" fill="#8a1a2e" fill-opacity="0.33" filter="url(#hr)"/>
<rect x="139.7" y="565.4" width="17.2" height="26.00" fill="#f6f8fb" fill-opacity="0.5" filter="url(#hw)"/>
<rect x="139.70" y="565.40" width="17.20" height="26.00" fill="none" stroke="#999" stroke-width="1.0"/>
<rect x="158.50" y="565.40" width="17.20" height="26.00" fill="#c8acb9"/>
<rect x="158.5" y="565.4" width="17.2" height="26.00" fill="#8a1a2e" fill-opacity="0.54" filter="url(#hr)"/>
<rect x="158.5" y="565.4" width="17.2" height="26.00" fill="#f6f8fb" fill-opacity="0.5" filter="url(#hw)"/>
<rect x="158.50" y="565.40" width="17.20" height="26.00" fill="none" stroke="#999" stroke-width="1.0"/>
<rect x="177.70" y="565.40" width="17.20" height="26.00" fill="#d8dde8"/>
<rect x="177.7" y="565.4" width="17.2" height="26.00" fill="#3b78b5" fill-opacity="0.27" filter="url(#hb)"/>
<rect x="177.7" y="565.4" width="17.2" height="26.00" fill="#a01e36" fill-opacity="0.51" filter="url(#hr2)"/>
<rect x="177.7" y="565.4" width="17.2" height="26.00" fill="#f6f8fb" fill-opacity="0.5" filter="url(#hw)"/>
<rect x="177.70" y="565.40" width="17.20" height="26.00" fill="none" stroke="#999" stroke-width="1.0"/>
<rect x="196.50" y="565.40" width="17.20" height="26.00" fill="#c9d9e9"/>
<rect x="196.5" y="565.4" width="17.2" height="26.00" fill="#3b78b5" fill-opacity="0.39" filter="url(#hb)"/>
<rect x="196.5" y="565.4" width="17.2" height="26.00" fill="#a01e36" fill-opacity="0.17" filter="url(#hr2)"/>
<rect x="196.5" y="565.4" width="17.2" height="26.00" fill="#f6f8fb" fill-opacity="0.5" filter="url(#hw)"/>
<rect x="196.50" y="565.40" width="17.20" height="26.00" fill="none" stroke="#999" stroke-width="1.0"/>
<rect x="215.40" y="565.40" width="17.20" height="26.00" fill="#d9e1eb"/>
<rect x="215.4" y="565.4" width="17.2" height="26.00" fill="#3b78b5" fill-opacity="0.33" filter="url(#hb)"/>
<rect x="215.4" y="565.4" width="17.2" height="26.00" fill="#a01e36" fill-opacity="0.34" filter="url(#hr2)"/>
<rect x="215.4" y="565.4" width="17.2" height="26.00" fill="#f6f8fb" fill-opacity="0.5" filter="url(#hw)"/>
<rect x="215.40" y="565.40" width="17.20" height="26.00" fill="none" stroke="#999" stroke-width="1.0"/>
<rect x="234.50" y="565.40" width="17.20" height="26.00" fill="#d8dde8"/>
<rect x="234.5" y="565.4" width="17.2" height="26.00" fill="#3b78b5" fill-opacity="0.30" filter="url(#hb)"/>
<rect x="234.5" y="565.4" width="17.2" height="26.00" fill="#a01e36" fill-opacity="0.51" filter="url(#hr2)"/>
<rect x="234.5" y="565.4" width="17.2" height="26.00" fill="#f6f8fb" fill-opacity="0.5" filter="url(#hw)"/>
<rect x="234.50" y="565.40" width="17.20" height="26.00" fill="none" stroke="#999" stroke-width="1.0"/>
<rect x="253.40" y="565.40" width="17.20" height="26.00" fill="#dae3ed"/>
<rect x="253.4" y="565.4" width="17.2" height="26.00" fill="#3b78b5" fill-opacity="0.33" filter="url(#hb)"/>
<rect x="253.4" y="565.4" width="17.2" height="26.00" fill="#a01e36" fill-opacity="0.26" filter="url(#hr2)"/>
<rect x="253.4" y="565.4" width="17.2" height="26.00" fill="#f6f8fb" fill-opacity="0.5" filter="url(#hw)"/>
<rect x="253.40" y="565.40" width="17.20" height="26.00" fill="none" stroke="#999" stroke-width="1.0"/>
<rect x="272.50" y="565.40" width="17.20" height="26.00" fill="#dae3ed"/>
<rect x="272.5" y="565.4" width="17.2" height="26.00" fill="#3b78b5" fill-opacity="0.33" filter="url(#hb)"/>
<rect x="272.5" y="565.4" width="17.2" height="26.00" fill="#a01e36" fill-opacity="0.26" filter="url(#hr2)"/>
<rect x="272.5" y="565.4" width="17.2" height="26.00" fill="#f6f8fb" fill-opacity="0.5" filter="url(#hw)"/>
<rect x="272.50" y="565.40" width="17.20" height="26.00" fill="none" stroke="#999" stroke-width="1.0"/>
<rect x="120.50" y="593.00" width="17.20" height="1.60" fill="#c8d6e6"/>
<rect x="120.5" y="593" width="17.2" height="1.60" fill="#3b78b5" fill-opacity="0.39" filter="url(#hb)"/>
<rect x="120.5" y="593" width="17.2" height="1.60" fill="#a01e36" fill-opacity="0.34" filter="url(#hr2)"/>
<rect x="120.5" y="593" width="17.2" height="1.60" fill="#f6f8fb" fill-opacity="0.5" filter="url(#hw)"/>
<rect x="120.50" y="593.00" width="17.20" height="1.60" fill="none" stroke="#999" stroke-width="1.0"/>
<rect x="139.70" y="593.00" width="17.20" height="1.60" fill="#c7d2e2"/>
<rect x="139.7" y="593" width="17.2" height="1.60" fill="#3b78b5" fill-opacity="0.39" filter="url(#hb)"/>
<rect x="139.7" y="593" width="17.2" height="1.60" fill="#a01e36" fill-opacity="0.51" filter="url(#hr2)"/>
<rect x="139.7" y="593" width="17.2" height="1.60" fill="#f6f8fb" fill-opacity="0.5" filter="url(#hw)"/>
<rect x="139.70" y="593.00" width="17.20" height="1.60" fill="none" stroke="#999" stroke-width="1.0"/>
<rect x="158.50" y="593.00" width="17.20" height="1.60" fill="#c7d2e2"/>
<rect x="158.5" y="593" width="17.2" height="1.60" fill="#3b78b5" fill-opacity="0.39" filter="url(#hb)"/>
<rect x="158.5" y="593" width="17.2" height="1.60" fill="#a01e36" fill-opacity="0.51" filter="url(#hr2)"/>
<rect x="158.5" y="593" width="17.2" height="1.60" fill="#f6f8fb" fill-opacity="0.5" filter="url(#hw)"/>
<rect x="158.50" y="593.00" width="17.20" height="1.60" fill="none" stroke="#999" stroke-width="1.0"/>
<rect x="177.70" y="593.00" width="17.20" height="1.60" fill="#cdbcc8"/>
<rect x="177.7" y="593" width="17.2" height="1.60" fill="#3b78b5" fill-opacity="0.33" filter="url(#hb)"/>
<rect x="177.7" y="593" width="17.2" height="1.60" fill="#8a1a2e" fill-opacity="0.40" filter="url(#hr)"/>
<rect x="177.7" y="593" width="17.2" height="1.60" fill="#f6f8fb" fill-opacity="0.5" filter="url(#hw)"/>
<rect x="177.70" y="593.00" width="17.20" height="1.60" fill="none" stroke="#999" stroke-width="1.0"/>
<rect x="196.50" y="593.00" width="17.20" height="1.60" fill="#d8dde8"/>
<rect x="196.5" y="593" width="17.2" height="1.60" fill="#3b78b5" fill-opacity="0.33" filter="url(#hb)"/>
<rect x="196.5" y="593" width="17.2" height="1.60" fill="#a01e36" fill-opacity="0.51" filter="url(#hr2)"/>
<rect x="196.5" y="593" width="17.2" height="1.60" fill="#f6f8fb" fill-opacity="0.5" filter="url(#hw)"/>
<rect x="196.50" y="593.00" width="17.20" height="1.60" fill="none" stroke="#999" stroke-width="1.0"/>
<rect x="215.40" y="593.00" width="17.20" height="1.60" fill="#d8dde8"/>
<rect x="215.4" y="593" width="17.2" height="1.60" fill="#3b78b5" fill-opacity="0.33" filter="url(#hb)"/>
<rect x="215.4" y="593" width="17.2" height="1.60" fill="#a01e36" fill-opacity="0.51" filter="url(#hr2)"/>
<rect x="215.4" y="593" width="17.2" height="1.60" fill="#f6f8fb" fill-opacity="0.5" filter="url(#hw)"/>
<rect x="215.40" y="593.00" width="17.20" height="1.60" fill="none" stroke="#999" stroke-width="1.0"/>
<rect x="234.50" y="593.00" width="17.20" height="1.60" fill="#d8dde8"/>
<rect x="234.5" y="593" width="17.2" height="1.60" fill="#3b78b5" fill-opacity="0.33" filter="url(#hb)"/>
<rect x="234.5" y="593" width="17.2" height="1.60" fill="#a01e36" fill-opacity="0.51" filter="url(#hr2)"/>
<rect x="234.5" y="593" width="17.2" height="1.60" fill="#f6f8fb" fill-opacity="0.5" filter="url(#hw)"/>
<rect x="234.50" y="593.00" width="17.20" height="1.60" fill="none" stroke="#999" stroke-width="1.0"/>
<rect x="253.40" y="593.00" width="17.20" height="1.60" fill="#d8dde8"/>
<rect x="253.4" y="593" width="17.2" height="1.60" fill="#3b78b5" fill-opacity="0.33" filter="url(#hb)"/>
<rect x="253.4" y="593" width="17.2" height="1.60" fill="#a01e36" fill-opacity="0.51" filter="url(#hr2)"/>
<rect x="253.4" y="593" width="17.2" height="1.60" fill="#f6f8fb" fill-opacity="0.5" filter="url(#hw)"/>
<rect x="253.40" y="593.00" width="17.20" height="1.60" fill="none" stroke="#999" stroke-width="1.0"/>
<rect x="272.50" y="593.00" width="17.20" height="1.60" fill="#d8dde8"/>
<rect x="272.5" y="593" width="17.2" height="1.60" fill="#3b78b5" fill-opacity="0.33" filter="url(#hb)"/>
<rect x="272.5" y="593" width="17.2" height="1.60" fill="#a01e36" fill-opacity="0.51" filter="url(#hr2)"/>
<rect x="272.5" y="593" width="17.2" height="1.60" fill="#f6f8fb" fill-opacity="0.5" filter="url(#hw)"/>
<rect x="272.50" y="593.00" width="17.20" height="1.60" fill="none" stroke="#999" stroke-width="1.0"/>
<rect x="120.50" y="596.00" width="17.20" height="22.00" fill="#7aa8d4"/>
<rect x="120.5" y="596" width="17.2" height="22.00" fill="#3b78b5" fill-opacity="0.66" filter="url(#hb)"/>
<rect x="120.5" y="596" width="17.2" height="22.00" fill="#f6f8fb" fill-opacity="0.5" filter="url(#hw)"/>
<rect x="120.50" y="596.00" width="17.20" height="22.00" fill="none" stroke="#999" stroke-width="1.0"/>
<rect x="139.70" y="596.00" width="17.20" height="22.00" fill="#7fabd5"/>
<rect x="139.7" y="596" width="17.2" height="22.00" fill="#3b78b5" fill-opacity="0.64" filter="url(#hb)"/>
<rect x="139.7" y="596" width="17.2" height="22.00" fill="#f6f8fb" fill-opacity="0.5" filter="url(#hw)"/>
<rect x="139.70" y="596.00" width="17.20" height="22.00" fill="none" stroke="#999" stroke-width="1.0"/>
<rect x="158.50" y="596.00" width="17.20" height="22.00" fill="#86afd6"/>
<rect x="158.5" y="596" width="17.2" height="22.00" fill="#3b78b5" fill-opacity="0.62" filter="url(#hb)"/>
<rect x="158.5" y="596" width="17.2" height="22.00" fill="#a01e36" fill-opacity="0.05" filter="url(#hr2)"/>
<rect x="158.5" y="596" width="17.2" height="22.00" fill="#f6f8fb" fill-opacity="0.5" filter="url(#hw)"/>
<rect x="158.50" y="596.00" width="17.20" height="22.00" fill="none" stroke="#999" stroke-width="1.0"/>
<rect x="177.70" y="596.00" width="17.20" height="22.00" fill="#d8dde8"/>
<rect x="177.7" y="596" width="17.2" height="22.00" fill="#3b78b5" fill-opacity="0.33" filter="url(#hb)"/>
<rect x="177.7" y="596" width="17.2" height="22.00" fill="#a01e36" fill-opacity="0.51" filter="url(#hr2)"/>
<rect x="177.7" y="596" width="17.2" height="22.00" fill="#f6f8fb" fill-opacity="0.5" filter="url(#hw)"/>
<rect x="177.70" y="596.00" width="17.20" height="22.00" fill="none" stroke="#999" stroke-width="1.0"/>
<rect x="196.50" y="596.00" width="17.20" height="22.00" fill="#c7a8b4"/>
<rect x="196.5" y="596" width="17.2" height="22.00" fill="#8a1a2e" fill-opacity="0.58" filter="url(#hr)"/>
<rect x="196.5" y="596" width="17.2" height="22.00" fill="#f6f8fb" fill-opacity="0.5" filter="url(#hw)"/>
<rect x="196.50" y="596.00" width="17.20" height="22.00" fill="none" stroke="#999" stroke-width="1.0"/>
<rect x="215.40" y="596.00" width="17.20" height="22.00" fill="#cbb4c0"/>
<rect x="215.4" y="596" width="17.2" height="22.00" fill="#8a1a2e" fill-opacity="0.48" filter="url(#hr)"/>
<rect x="215.4" y="596" width="17.2" height="22.00" fill="#f6f8fb" fill-opacity="0.5" filter="url(#hw)"/>
<rect x="215.40" y="596.00" width="17.20" height="22.00" fill="none" stroke="#999" stroke-width="1.0"/>
<rect x="234.50" y="596.00" width="17.20" height="22.00" fill="#cdbbc7"/>
<rect x="234.5" y="596" width="17.2" height="22.00" fill="#8a1a2e" fill-opacity="0.41" filter="url(#hr)"/>
<rect x="234.5" y="596" width="17.2" height="22.00" fill="#f6f8fb" fill-opacity="0.5" filter="url(#hw)"/>
<rect x="234.50" y="596.00" width="17.20" height="22.00" fill="none" stroke="#999" stroke-width="1.0"/>
<rect x="253.40" y="596.00" width="17.20" height="22.00" fill="#d0c4cf"/>
<rect x="253.4" y="596" width="17.2" height="22.00" fill="#3b78b5" fill-opacity="0.24" filter="url(#hb)"/>
<rect x="253.4" y="596" width="17.2" height="22.00" fill="#8a1a2e" fill-opacity="0.33" filter="url(#hr)"/>
<rect x="253.4" y="596" width="17.2" height="22.00" fill="#f6f8fb" fill-opacity="0.5" filter="url(#hw)"/>
<rect x="253.40" y="596.00" width="17.20" height="22.00" fill="none" stroke="#999" stroke-width="1.0"/>
<rect x="272.50" y="596.00" width="17.20" height="22.00" fill="#d0c4cf"/>
<rect x="272.5" y="596" width="17.2" height="22.00" fill="#3b78b5" fill-opacity="0.24" filter="url(#hb)"/>
<rect x="272.5" y="596" width="17.2" height="22.00" fill="#8a1a2e" fill-opacity="0.33" filter="url(#hr)"/>
<rect x="272.5" y="596" width="17.2" height="22.00" fill="#f6f8fb" fill-opacity="0.5" filter="url(#hw)"/>
<rect x="272.50" y="596.00" width="17.20" height="22.00" fill="none" stroke="#999" stroke-width="1.0"/>
<rect x="120.50" y="619.40" width="17.20" height="12.30" fill="#7faad4"/>
<rect x="120.5" y="619.4" width="17.2" height="12.30" fill="#3b78b5" fill-opacity="0.64" filter="url(#hb)"/>
<rect x="120.5" y="619.4" width="17.2" height="12.30" fill="#f6f8fb" fill-opacity="0.5" filter="url(#hw)"/>
<rect x="120.50" y="619.40" width="17.20" height="12.30" fill="none" stroke="#999" stroke-width="1.0"/>
<rect x="139.70" y="619.40" width="17.20" height="12.30" fill="#7faad4"/>
<rect x="139.7" y="619.4" width="17.2" height="12.30" fill="#3b78b5" fill-opacity="0.64" filter="url(#hb)"/>
<rect x="139.7" y="619.4" width="17.2" height="12.30" fill="#f6f8fb" fill-opacity="0.5" filter="url(#hw)"/>
<rect x="139.70" y="619.40" width="17.20" height="12.30" fill="none" stroke="#999" stroke-width="1.0"/>
<rect x="158.50" y="619.40" width="17.20" height="12.30" fill="#86aed5"/>
<rect x="158.5" y="619.4" width="17.2" height="12.30" fill="#3b78b5" fill-opacity="0.62" filter="url(#hb)"/>
<rect x="158.5" y="619.4" width="17.2" height="12.30" fill="#a01e36" fill-opacity="0.09" filter="url(#hr2)"/>
<rect x="158.5" y="619.4" width="17.2" height="12.30" fill="#f6f8fb" fill-opacity="0.5" filter="url(#hw)"/>
<rect x="158.50" y="619.40" width="17.20" height="12.30" fill="none" stroke="#999" stroke-width="1.0"/>
<rect x="177.70" y="619.40" width="17.20" height="12.30" fill="#d7dce6"/>
<rect x="177.7" y="619.4" width="17.2" height="12.30" fill="#3b78b5" fill-opacity="0.33" filter="url(#hb)"/>
<rect x="177.7" y="619.4" width="17.2" height="12.30" fill="#a01e36" fill-opacity="0.59" filter="url(#hr2)"/>
<rect x="177.7" y="619.4" width="17.2" height="12.30" fill="#f6f8fb" fill-opacity="0.5" filter="url(#hw)"/>
<rect x="177.70" y="619.40" width="17.20" height="12.30" fill="none" stroke="#999" stroke-width="1.0"/>
<rect x="196.50" y="619.40" width="17.20" height="12.30" fill="#cdbbc7"/>
<rect x="196.5" y="619.4" width="17.2" height="12.30" fill="#8a1a2e" fill-opacity="0.41" filter="url(#hr)"/>
<rect x="196.5" y="619.4" width="17.2" height="12.30" fill="#f6f8fb" fill-opacity="0.5" filter="url(#hw)"/>
<rect x="196.50" y="619.40" width="17.20" height="12.30" fill="none" stroke="#999" stroke-width="1.0"/>
<rect x="215.40" y="619.40" width="17.20" height="12.30" fill="#c9afbc"/>
<rect x="215.4" y="619.4" width="17.2" height="12.30" fill="#8a1a2e" fill-opacity="0.51" filter="url(#hr)"/>
<rect x="215.4" y="619.4" width="17.2" height="12.30" fill="#f6f8fb" fill-opacity="0.5" filter="url(#hw)"/>
<rect x="215.40" y="619.40" width="17.20" height="12.30" fill="none" stroke="#999" stroke-width="1.0"/>
<rect x="234.50" y="619.40" width="17.20" height="12.30" fill="#d1c7d3"/>
<rect x="234.5" y="619.4" width="17.2" height="12.30" fill="#3b78b5" fill-opacity="0.27" filter="url(#hb)"/>
<rect x="234.5" y="619.4" width="17.2" height="12.30" fill="#8a1a2e" fill-opacity="0.30" filter="url(#hr)"/>
<rect x="234.5" y="619.4" width="17.2" height="12.30" fill="#f6f8fb" fill-opacity="0.5" filter="url(#hw)"/>
<rect x="234.50" y="619.40" width="17.20" height="12.30" fill="none" stroke="#999" stroke-width="1.0"/>
<rect x="253.40" y="619.40" width="17.20" height="12.30" fill="#d2cbd6"/>
<rect x="253.4" y="619.4" width="17.2" height="12.30" fill="#3b78b5" fill-opacity="0.27" filter="url(#hb)"/>
<rect x="253.4" y="619.4" width="17.2" height="12.30" fill="#8a1a2e" fill-opacity="0.26" filter="url(#hr)"/>
<rect x="253.4" y="619.4" width="17.2" height="12.30" fill="#f6f8fb" fill-opacity="0.5" filter="url(#hw)"/>
<rect x="253.40" y="619.40" width="17.20" height="12.30" fill="none" stroke="#999" stroke-width="1.0"/>
<rect x="272.50" y="619.40" width="17.20" height="12.30" fill="#d7dce6"/>
<rect x="272.5" y="619.4" width="17.2" height="12.30" fill="#3b78b5" fill-opacity="0.30" filter="url(#hb)"/>
<rect x="272.5" y="619.4" width="17.2" height="12.30" fill="#a01e36" fill-opacity="0.59" filter="url(#hr2)"/>
<rect x="272.5" y="619.4" width="17.2" height="12.30" fill="#f6f8fb" fill-opacity="0.5" filter="url(#hw)"/>
<rect x="272.50" y="619.40" width="17.20" height="12.30" fill="none" stroke="#999" stroke-width="1.0"/>
<rect x="120.50" y="633.30" width="17.20" height="11.30" fill="#7faad4"/>
<rect x="120.5" y="633.3" width="17.2" height="11.30" fill="#3b78b5" fill-opacity="0.64" filter="url(#hb)"/>
<rect x="120.5" y="633.3" width="17.2" height="11.30" fill="#a01e36" fill-opacity="0.05" filter="url(#hr2)"/>
<rect x="120.5" y="633.3" width="17.2" height="11.30" fill="#f6f8fb" fill-opacity="0.5" filter="url(#hw)"/>
<rect x="120.50" y="633.30" width="17.20" height="11.30" fill="none" stroke="#999" stroke-width="1.0"/>
<rect x="139.70" y="633.30" width="17.20" height="11.30" fill="#91b4d8"/>
<rect x="139.7" y="633.3" width="17.2" height="11.30" fill="#3b78b5" fill-opacity="0.58" filter="url(#hb)"/>
<rect x="139.7" y="633.3" width="17.2" height="11.30" fill="#a01e36" fill-opacity="0.17" filter="url(#hr2)"/>
<rect x="139.7" y="633.3" width="17.2" height="11.30" fill="#f6f8fb" fill-opacity="0.5" filter="url(#hw)"/>
<rect x="139.70" y="633.30" width="17.20" height="11.30" fill="none" stroke="#999" stroke-width="1.0"/>
<rect x="158.50" y="633.30" width="17.20" height="11.30" fill="#bfcbde"/>
<rect x="158.5" y="633.3" width="17.2" height="11.30" fill="#3b78b5" fill-opacity="0.42" filter="url(#hb)"/>
<rect x="158.5" y="633.3" width="17.2" height="11.30" fill="#a01e36" fill-opacity="0.59" filter="url(#hr2)"/>
<rect x="158.5" y="633.3" width="17.2" height="11.30" fill="#f6f8fb" fill-opacity="0.5" filter="url(#hw)"/>
<rect x="158.50" y="633.30" width="17.20" height="11.30" fill="none" stroke="#999" stroke-width="1.0"/>
<rect x="177.70" y="633.30" width="17.20" height="11.30" fill="#d8dde8"/>
<rect x="177.7" y="633.3" width="17.2" height="11.30" fill="#3b78b5" fill-opacity="0.33" filter="url(#hb)"/>
<rect x="177.7" y="633.3" width="17.2" height="11.30" fill="#a01e36" fill-opacity="0.51" filter="url(#hr2)"/>
<rect x="177.7" y="633.3" width="17.2" height="11.30" fill="#f6f8fb" fill-opacity="0.5" filter="url(#hw)"/>
<rect x="177.70" y="633.30" width="17.20" height="11.30" fill="none" stroke="#999" stroke-width="1.0"/>
<rect x="196.50" y="633.30" width="17.20" height="11.30" fill="#d0c4cf"/>
<rect x="196.5" y="633.3" width="17.2" height="11.30" fill="#3b78b5" fill-opacity="0.27" filter="url(#hb)"/>
<rect x="196.5" y="633.3" width="17.2" height="11.30" fill="#8a1a2e" fill-opacity="0.33" filter="url(#hr)"/>
<rect x="196.5" y="633.3" width="17.2" height="11.30" fill="#f6f8fb" fill-opacity="0.5" filter="url(#hw)"/>
<rect x="196.50" y="633.30" width="17.20" height="11.30" fill="none" stroke="#999" stroke-width="1.0"/>
<rect x="215.40" y="633.30" width="17.20" height="11.30" fill="#d2cad5"/>
<rect x="215.4" y="633.3" width="17.2" height="11.30" fill="#3b78b5" fill-opacity="0.27" filter="url(#hb)"/>
<rect x="215.4" y="633.3" width="17.2" height="11.30" fill="#8a1a2e" fill-opacity="0.28" filter="url(#hr)"/>
<rect x="215.4" y="633.3" width="17.2" height="11.30" fill="#f6f8fb" fill-opacity="0.5" filter="url(#hw)"/>
<rect x="215.40" y="633.30" width="17.20" height="11.30" fill="none" stroke="#999" stroke-width="1.0"/>
<rect x="234.50" y="633.30" width="17.20" height="11.30" fill="#c7a8b4"/>
<rect x="234.5" y="633.3" width="17.2" height="11.30" fill="#8a1a2e" fill-opacity="0.58" filter="url(#hr)"/>
<rect x="234.5" y="633.3" width="17.2" height="11.30" fill="#f6f8fb" fill-opacity="0.5" filter="url(#hw)"/>
<rect x="234.50" y="633.30" width="17.20" height="11.30" fill="none" stroke="#999" stroke-width="1.0"/>
<rect x="253.40" y="633.30" width="17.20" height="11.30" fill="#d2cbd6"/>
<rect x="253.4" y="633.3" width="17.2" height="11.30" fill="#3b78b5" fill-opacity="0.27" filter="url(#hb)"/>
<rect x="253.4" y="633.3" width="17.2" height="11.30" fill="#8a1a2e" fill-opacity="0.26" filter="url(#hr)"/>
<rect x="253.4" y="633.3" width="17.2" height="11.30" fill="#f6f8fb" fill-opacity="0.5" filter="url(#hw)"/>
<rect x="253.40" y="633.30" width="17.20" height="11.30" fill="none" stroke="#999" stroke-width="1.0"/>
<rect x="272.50" y="633.30" width="17.20" height="11.30" fill="#d7dce6"/>
<rect x="272.5" y="633.3" width="17.2" height="11.30" fill="#3b78b5" fill-opacity="0.30" filter="url(#hb)"/>
<rect x="272.5" y="633.3" width="17.2" height="11.30" fill="#a01e36" fill-opacity="0.59" filter="url(#hr2)"/>
<rect x="272.5" y="633.3" width="17.2" height="11.30" fill="#f6f8fb" fill-opacity="0.5" filter="url(#hw)"/>
<rect x="272.50" y="633.30" width="17.20" height="11.30" fill="none" stroke="#999" stroke-width="1.0"/>
<rect x="120.50" y="646.60" width="17.20" height="39.90" fill="#d1deeb"/>
<rect x="120.5" y="646.6" width="17.2" height="39.90" fill="#3b78b5" fill-opacity="0.36" filter="url(#hb)"/>
<rect x="120.5" y="646.6" width="17.2" height="39.90" fill="#a01e36" fill-opacity="0.20" filter="url(#hr2)"/>
<rect x="120.5" y="646.6" width="17.2" height="39.90" fill="#f6f8fb" fill-opacity="0.5" filter="url(#hw)"/>
<rect x="120.50" y="646.60" width="17.20" height="39.90" fill="none" stroke="#999" stroke-width="1.0"/>
<rect x="139.70" y="646.60" width="17.20" height="39.90" fill="#dae4ee"/>
<rect x="139.7" y="646.6" width="17.2" height="39.90" fill="#3b78b5" fill-opacity="0.33" filter="url(#hb)"/>
<rect x="139.7" y="646.6" width="17.2" height="39.90" fill="#a01e36" fill-opacity="0.20" filter="url(#hr2)"/>
<rect x="139.7" y="646.6" width="17.2" height="39.90" fill="#f6f8fb" fill-opacity="0.5" filter="url(#hw)"/>
<rect x="139.70" y="646.60" width="17.20" height="39.90" fill="none" stroke="#999" stroke-width="1.0"/>
<rect x="158.50" y="646.60" width="17.20" height="39.90" fill="#dae4ee"/>
<rect x="158.5" y="646.6" width="17.2" height="39.90" fill="#3b78b5" fill-opacity="0.33" filter="url(#hb)"/>
<rect x="158.5" y="646.6" width="17.2" height="39.90" fill="#a01e36" fill-opacity="0.20" filter="url(#hr2)"/>
<rect x="158.5" y="646.6" width="17.2" height="39.90" fill="#f6f8fb" fill-opacity="0.5" filter="url(#hw)"/>
<rect x="158.50" y="646.60" width="17.20" height="39.90" fill="none" stroke="#999" stroke-width="1.0"/>
<rect x="177.70" y="646.60" width="17.20" height="39.90" fill="#dae4ee"/>
<rect x="177.7" y="646.6" width="17.2" height="39.90" fill="#3b78b5" fill-opacity="0.33" filter="url(#hb)"/>
<rect x="177.7" y="646.6" width="17.2" height="39.90" fill="#a01e36" fill-opacity="0.20" filter="url(#hr2)"/>
<rect x="177.7" y="646.6" width="17.2" height="39.90" fill="#f6f8fb" fill-opacity="0.5" filter="url(#hw)"/>
<rect x="177.70" y="646.60" width="17.20" height="39.90" fill="none" stroke="#999" stroke-width="1.0"/>
<rect x="196.50" y="646.60" width="17.20" height="39.90" fill="#dae4ee"/>
<rect x="196.5" y="646.6" width="17.2" height="39.90" fill="#3b78b5" fill-opacity="0.33" filter="url(#hb)"/>
<rect x="196.5" y="646.6" width="17.2" height="39.90" fill="#a01e36" fill-opacity="0.20" filter="url(#hr2)"/>
<rect x="196.5" y="646.6" width="17.2" height="39.90" fill="#f6f8fb" fill-opacity="0.5" filter="url(#hw)"/>
<rect x="196.50" y="646.60" width="17.20" height="39.90" fill="none" stroke="#999" stroke-width="1.0"/>
<rect x="215.40" y="646.60" width="17.20" height="39.90" fill="#dae4ee"/>
<rect x="215.4" y="646.6" width="17.2" height="39.90" fill="#3b78b5" fill-opacity="0.33" filter="url(#hb)"/>
<rect x="215.4" y="646.6" width="17.2" height="39.90" fill="#a01e36" fill-opacity="0.20" filter="url(#hr2)"/>
<rect x="215.4" y="646.6" width="17.2" height="39.90" fill="#f6f8fb" fill-opacity="0.5" filter="url(#hw)"/>
<rect x="215.40" y="646.60" width="17.20" height="39.90" fill="none" stroke="#999" stroke-width="1.0"/>
<rect x="234.50" y="646.60" width="17.20" height="39.90" fill="#dae4ee"/>
<rect x="234.5" y="646.6" width="17.2" height="39.90" fill="#3b78b5" fill-opacity="0.33" filter="url(#hb)"/>
<rect x="234.5" y="646.6" width="17.2" height="39.90" fill="#a01e36" fill-opacity="0.20" filter="url(#hr2)"/>
<rect x="234.5" y="646.6" width="17.2" height="39.90" fill="#f6f8fb" fill-opacity="0.5" filter="url(#hw)"/>
<rect x="234.50" y="646.60" width="17.20" height="39.90" fill="none" stroke="#999" stroke-width="1.0"/>
<rect x="253.40" y="646.60" width="17.20" height="39.90" fill="#c5a3b0"/>
<rect x="253.4" y="646.6" width="17.2" height="39.90" fill="#8a1a2e" fill-opacity="0.63" filter="url(#hr)"/>
<rect x="253.4" y="646.6" width="17.2" height="39.90" fill="#f6f8fb" fill-opacity="0.5" filter="url(#hw)"/>
<rect x="253.40" y="646.60" width="17.20" height="39.90" fill="none" stroke="#999" stroke-width="1.0"/>
<rect x="272.50" y="646.60" width="17.20" height="39.90" fill="#dae3ed"/>
<rect x="272.5" y="646.6" width="17.2" height="39.90" fill="#3b78b5" fill-opacity="0.33" filter="url(#hb)"/>
<rect x="272.5" y="646.6" width="17.2" height="39.90" fill="#a01e36" fill-opacity="0.26" filter="url(#hr2)"/>
<rect x="272.5" y="646.6" width="17.2" height="39.90" fill="#f6f8fb" fill-opacity="0.5" filter="url(#hw)"/>
<rect x="272.50" y="646.60" width="17.20" height="39.90" fill="none" stroke="#999" stroke-width="1.0"/>
<rect x="120.50" y="688.30" width="17.20" height="11.20" fill="#d9e0eb"/>
<rect x="120.5" y="688.3" width="17.2" height="11.20" fill="#3b78b5" fill-opacity="0.24" filter="url(#hb)"/>
<rect x="120.5" y="688.3" width="17.2" height="11.20" fill="#a01e36" fill-opacity="0.37" filter="url(#hr2)"/>
<rect x="120.5" y="688.3" width="17.2" height="11.20" fill="#f6f8fb" fill-opacity="0.5" filter="url(#hw)"/>
<rect x="120.50" y="688.30" width="17.20" height="11.20" fill="none" stroke="#999" stroke-width="1.0"/>
<rect x="139.70" y="688.30" width="17.20" height="11.20" fill="#d9dfea"/>
<rect x="139.7" y="688.3" width="17.2" height="11.20" fill="#3b78b5" fill-opacity="0.24" filter="url(#hb)"/>
<rect x="139.7" y="688.3" width="17.2" height="11.20" fill="#a01e36" fill-opacity="0.42" filter="url(#hr2)"/>
<rect x="139.7" y="688.3" width="17.2" height="11.20" fill="#f6f8fb" fill-opacity="0.5" filter="url(#hw)"/>
<rect x="139.70" y="688.30" width="17.20" height="11.20" fill="none" stroke="#999" stroke-width="1.0"/>
<rect x="158.50" y="688.30" width="17.20" height="11.20" fill="#dae5ef"/>
<rect x="158.5" y="688.3" width="17.2" height="11.20" fill="#3b78b5" fill-opacity="0.24" filter="url(#hb)"/>
<rect x="158.5" y="688.3" width="17.2" height="11.20" fill="#a01e36" fill-opacity="0.17" filter="url(#hr2)"/>
<rect x="158.5" y="688.3" width="17.2" height="11.20" fill="#f6f8fb" fill-opacity="0.5" filter="url(#hw)"/>
<rect x="158.50" y="688.30" width="17.20" height="11.20" fill="none" stroke="#999" stroke-width="1.0"/>
<rect x="177.70" y="688.30" width="17.20" height="11.20" fill="#dae5ef"/>
<rect x="177.7" y="688.3" width="17.2" height="11.20" fill="#3b78b5" fill-opacity="0.24" filter="url(#hb)"/>
<rect x="177.7" y="688.3" width="17.2" height="11.20" fill="#a01e36" fill-opacity="0.17" filter="url(#hr2)"/>
<rect x="177.7" y="688.3" width="17.2" height="11.20" fill="#f6f8fb" fill-opacity="0.5" filter="url(#hw)"/>
<rect x="177.70" y="688.30" width="17.20" height="11.20" fill="none" stroke="#999" stroke-width="1.0"/>
<rect x="196.50" y="688.30" width="17.20" height="11.20" fill="#dbe7f1"/>
<rect x="196.5" y="688.3" width="17.2" height="11.20" fill="#3b78b5" fill-opacity="0.27" filter="url(#hb)"/>
<rect x="196.5" y="688.3" width="17.2" height="11.20" fill="#a01e36" fill-opacity="0.09" filter="url(#hr2)"/>
<rect x="196.5" y="688.3" width="17.2" height="11.20" fill="#f6f8fb" fill-opacity="0.5" filter="url(#hw)"/>
<rect x="196.50" y="688.30" width="17.20" height="11.20" fill="none" stroke="#999" stroke-width="1.0"/>
<rect x="215.40" y="688.30" width="17.20" height="11.20" fill="#dbe7f1"/>
<rect x="215.4" y="688.3" width="17.2" height="11.20" fill="#3b78b5" fill-opacity="0.27" filter="url(#hb)"/>
<rect x="215.4" y="688.3" width="17.2" height="11.20" fill="#a01e36" fill-opacity="0.09" filter="url(#hr2)"/>
<rect x="215.4" y="688.3" width="17.2" height="11.20" fill="#f6f8fb" fill-opacity="0.5" filter="url(#hw)"/>
<rect x="215.40" y="688.30" width="17.20" height="11.20" fill="none" stroke="#999" stroke-width="1.0"/>
<rect x="234.50" y="688.30" width="17.20" height="11.20" fill="#dbe7f1"/>
<rect x="234.5" y="688.3" width="17.2" height="11.20" fill="#3b78b5" fill-opacity="0.27" filter="url(#hb)"/>
<rect x="234.5" y="688.3" width="17.2" height="11.20" fill="#a01e36" fill-opacity="0.09" filter="url(#hr2)"/>
<rect x="234.5" y="688.3" width="17.2" height="11.20" fill="#f6f8fb" fill-opacity="0.5" filter="url(#hw)"/>
<rect x="234.50" y="688.30" width="17.20" height="11.20" fill="none" stroke="#999" stroke-width="1.0"/>
<rect x="253.40" y="688.30" width="17.20" height="11.20" fill="#dae5ef"/>
<rect x="253.4" y="688.3" width="17.2" height="11.20" fill="#3b78b5" fill-opacity="0.24" filter="url(#hb)"/>
<rect x="253.4" y="688.3" width="17.2" height="11.20" fill="#a01e36" fill-opacity="0.17" filter="url(#hr2)"/>
<rect x="253.4" y="688.3" width="17.2" height="11.20" fill="#f6f8fb" fill-opacity="0.5" filter="url(#hw)"/>
<rect x="253.40" y="688.30" width="17.20" height="11.20" fill="none" stroke="#999" stroke-width="1.0"/>
<rect x="272.50" y="688.30" width="17.20" height="11.20" fill="#c9afbc"/>
<rect x="272.5" y="688.3" width="17.2" height="11.20" fill="#8a1a2e" fill-opacity="0.51" filter="url(#hr)"/>
<rect x="272.5" y="688.3" width="17.2" height="11.20" fill="#f6f8fb" fill-opacity="0.5" filter="url(#hw)"/>
<rect x="272.50" y="688.30" width="17.20" height="11.20" fill="none" stroke="#999" stroke-width="1.0"/>
<rect x="120.50" y="393.90" width="17.20" height="8.30" fill="#F8766D" stroke="#808080" stroke-width="0.6"/>
<rect x="139.70" y="393.90" width="17.20" height="8.30" fill="#D39200" stroke="#808080" stroke-width="0.6"/>
<rect x="158.50" y="393.90" width="17.20" height="8.30" fill="#93AA00" stroke="#808080" stroke-width="0.6"/>
<rect x="177.70" y="393.90" width="17.20" height="8.30" fill="#00BA38" stroke="#808080" stroke-width="0.6"/>
<rect x="196.50" y="393.90" width="17.20" height="8.30" fill="#00C19F" stroke="#808080" stroke-width="0.6"/>
<rect x="215.40" y="393.90" width="17.20" height="8.30" fill="#00B9E3" stroke="#808080" stroke-width="0.6"/>
<rect x="234.50" y="393.90" width="17.20" height="8.30" fill="#619CFF" stroke="#808080" stroke-width="0.6"/>
<rect x="253.40" y="393.90" width="17.20" height="8.30" fill="#DB72FB" stroke="#808080" stroke-width="0.6"/>
<rect x="272.50" y="393.90" width="17.20" height="8.30" fill="#FF61C3" stroke="#808080" stroke-width="0.6"/>
<rect x="114.80" y="403.90" width="4.50" height="110.00" fill="#F8766D" stroke="#808080" stroke-width="0.4"/>
<rect x="114.80" y="515.90" width="4.50" height="47.10" fill="#D39200" stroke="#808080" stroke-width="0.4"/>
<rect x="114.80" y="565.40" width="4.50" height="26.00" fill="#93AA00" stroke="#808080" stroke-width="0.4"/>
<rect x="114.80" y="593.00" width="4.50" height="1.60" fill="#00BA38" stroke="#808080" stroke-width="0.4"/>
<rect x="114.80" y="596.00" width="4.50" height="22.00" fill="#00C19F" stroke="#808080" stroke-width="0.4"/>
<rect x="114.80" y="619.40" width="4.50" height="12.30" fill="#00B9E3" stroke="#808080" stroke-width="0.4"/>
<rect x="114.80" y="633.30" width="4.50" height="11.30" fill="#619CFF" stroke="#808080" stroke-width="0.4"/>
<rect x="114.80" y="646.60" width="4.50" height="39.90" fill="#DB72FB" stroke="#808080" stroke-width="0.4"/>
<rect x="114.80" y="688.30" width="4.50" height="11.20" fill="#FF61C3" stroke="#808080" stroke-width="0.4"/>
<rect x="290.90" y="403.90" width="8.80" height="110.00" fill="#fff" stroke="#8a8a8a" stroke-width="0.7"/>
<rect x="290.90" y="515.90" width="8.80" height="47.10" fill="#fff" stroke="#8a8a8a" stroke-width="0.7"/>
<rect x="290.90" y="565.40" width="8.80" height="26.00" fill="#fff" stroke="#8a8a8a" stroke-width="0.7"/>
<rect x="290.90" y="593.00" width="8.80" height="1.60" fill="#ccc" stroke="#8a8a8a" stroke-width="0.7"/>
<rect x="290.90" y="596.00" width="8.80" height="22.00" fill="#fff" stroke="#8a8a8a" stroke-width="0.7"/>
<rect x="290.90" y="619.40" width="8.80" height="12.30" fill="#fff" stroke="#8a8a8a" stroke-width="0.7"/>
<rect x="290.90" y="633.30" width="8.80" height="11.30" fill="#fff" stroke="#8a8a8a" stroke-width="0.7"/>
<rect x="290.90" y="646.60" width="8.80" height="39.90" fill="#fff" stroke="#8a8a8a" stroke-width="0.7"/>
<rect x="290.90" y="688.30" width="8.80" height="11.20" fill="#fff" stroke="#8a8a8a" stroke-width="0.7"/>
<rect x="291.40" y="406.55" width="7.80" height="1.10" fill="#f2cc1a"/>
<rect x="291.40" y="408.75" width="7.80" height="1.10" fill="#4a7fc0"/>
<rect x="291.40" y="410.45" width="7.80" height="1.10" fill="#4a7fc0"/>
<rect x="291.40" y="412.15" width="7.80" height="1.10" fill="#4a7fc0"/>
<rect x="291.40" y="414.35" width="7.80" height="1.10" fill="#4a7fc0"/>
<rect x="291.40" y="416.35" width="7.80" height="1.10" fill="#4a7fc0"/>
<rect x="291.40" y="418.45" width="7.80" height="1.10" fill="#4a7fc0"/>
<rect x="291.40" y="420.65" width="7.80" height="1.10" fill="#4a7fc0"/>
<rect x="291.40" y="423.15" width="7.80" height="1.10" fill="#f2cc1a"/>
<rect x="291.40" y="434.15" width="7.80" height="1.10" fill="#4a7fc0"/>
<rect x="291.40" y="440.95" width="7.80" height="1.10" fill="#8fb5dd"/>
<rect x="291.40" y="443.85" width="7.80" height="1.10" fill="#f7e27a"/>
<rect x="291.40" y="445.25" width="7.80" height="1.10" fill="#f7e27a"/>
<rect x="291.40" y="453.35" width="7.80" height="1.10" fill="#f2cc1a"/>
<rect x="291.40" y="466.05" width="7.80" height="1.10" fill="#6a8f50"/>
<rect x="291.40" y="468.95" width="7.80" height="1.10" fill="#4a7fc0"/>
<rect x="291.40" y="470.65" width="7.80" height="1.10" fill="#4a7fc0"/>
<rect x="291.40" y="472.65" width="7.80" height="1.10" fill="#4a7fc0"/>
<rect x="291.40" y="474.85" width="7.80" height="1.10" fill="#4a7fc0"/>
<rect x="291.40" y="479.95" width="7.80" height="1.10" fill="#f7e27a"/>
<rect x="291.40" y="482.45" width="7.80" height="1.10" fill="#f2cc1a"/>
<rect x="291.40" y="484.15" width="7.80" height="1.10" fill="#f7e27a"/>
<rect x="291.40" y="487.55" width="7.80" height="1.10" fill="#4a7fc0"/>
<rect x="291.40" y="489.25" width="7.80" height="1.10" fill="#4a7fc0"/>
<rect x="291.40" y="490.95" width="7.80" height="1.10" fill="#6a8f50"/>
<rect x="291.40" y="493.45" width="7.80" height="1.10" fill="#f2cc1a"/>
<rect x="291.40" y="495.25" width="7.80" height="1.10" fill="#4a7fc0"/>
<rect x="291.40" y="496.95" width="7.80" height="1.10" fill="#4a7fc0"/>
<rect x="291.40" y="499.45" width="7.80" height="1.10" fill="#4a7fc0"/>
<rect x="291.40" y="501.15" width="7.80" height="1.10" fill="#4a7fc0"/>
<rect x="291.40" y="502.85" width="7.80" height="1.10" fill="#4a7fc0"/>
<rect x="291.40" y="505.35" width="7.80" height="1.10" fill="#f2cc1a"/>
<rect x="291.40" y="507.95" width="7.80" height="1.10" fill="#f2cc1a"/>
<rect x="291.40" y="509.65" width="7.80" height="1.10" fill="#f7e27a"/>
<rect x="291.40" y="511.35" width="7.80" height="1.10" fill="#f2cc1a"/>
<rect x="291.40" y="518.05" width="7.80" height="1.10" fill="#f2cc1a"/>
<rect x="291.40" y="520.65" width="7.80" height="1.10" fill="#4a7fc0"/>
<rect x="291.40" y="522.35" width="7.80" height="1.10" fill="#4a7fc0"/>
<rect x="291.40" y="525.75" width="7.80" height="1.10" fill="#f2cc1a"/>
<rect x="291.40" y="529.95" width="7.80" height="1.10" fill="#4a7fc0"/>
<rect x="291.40" y="533.35" width="7.80" height="1.10" fill="#4a7fc0"/>
<rect x="291.40" y="543.55" width="7.80" height="1.10" fill="#4a7fc0"/>
<rect x="291.40" y="546.05" width="7.80" height="1.10" fill="#f2cc1a"/>
<rect x="291.40" y="547.75" width="7.80" height="1.10" fill="#f7e27a"/>
<rect x="291.40" y="554.55" width="7.80" height="1.10" fill="#f2cc1a"/>
<rect x="291.40" y="556.85" width="7.80" height="1.10" fill="#4a7fc0"/>
<rect x="291.40" y="561.65" width="7.80" height="1.10" fill="#4a7fc0"/>
<rect x="291.40" y="565.95" width="7.80" height="1.10" fill="#f2cc1a"/>
<rect x="291.40" y="580.75" width="7.80" height="1.10" fill="#f7e27a"/>
<rect x="291.40" y="581.85" width="7.80" height="1.10" fill="#f2cc1a"/>
<rect x="291.40" y="584.75" width="7.80" height="1.10" fill="#f2cc1a"/>
<rect x="291.40" y="601.55" width="7.80" height="1.10" fill="#f7e27a"/>
<rect x="291.40" y="611.05" width="7.80" height="1.10" fill="#f2cc1a"/>
<rect x="291.40" y="612.65" width="7.80" height="1.10" fill="#f2cc1a"/>
<rect x="291.40" y="613.85" width="7.80" height="1.10" fill="#f7e27a"/>
<rect x="291.40" y="628.15" width="7.80" height="1.10" fill="#f7e27a"/>
<rect x="291.40" y="629.45" width="7.80" height="1.10" fill="#f2cc1a"/>
<rect x="291.40" y="630.75" width="7.80" height="1.10" fill="#4a7fc0"/>
<rect x="291.40" y="637.45" width="7.80" height="1.10" fill="#4a7fc0"/>
<rect x="291.40" y="639.05" width="7.80" height="1.10" fill="#f2cc1a"/>
<rect x="291.40" y="641.45" width="7.80" height="1.10" fill="#f2cc1a"/>
<rect x="291.40" y="642.55" width="7.80" height="1.10" fill="#f2cc1a"/>
<rect x="291.40" y="648.55" width="7.80" height="1.10" fill="#f7e27a"/>
<rect x="291.40" y="650.15" width="7.80" height="1.10" fill="#f2cc1a"/>
<rect x="291.40" y="651.45" width="7.80" height="1.10" fill="#f2cc1a"/>
<rect x="291.40" y="652.85" width="7.80" height="1.10" fill="#f2cc1a"/>
<rect x="291.40" y="654.15" width="7.80" height="1.10" fill="#f7e27a"/>
<rect x="291.40" y="656.55" width="7.80" height="1.10" fill="#4a7fc0"/>
<rect x="291.40" y="659.75" width="7.80" height="1.10" fill="#f2cc1a"/>
<rect x="291.40" y="661.05" width="7.80" height="1.10" fill="#f2cc1a"/>
<rect x="291.40" y="662.05" width="7.80" height="1.10" fill="#f7e27a"/>
<rect x="291.40" y="662.95" width="7.80" height="1.10" fill="#f2cc1a"/>
<rect x="291.40" y="664.55" width="7.80" height="1.10" fill="#6a8f50"/>
<rect x="291.40" y="669.35" width="7.80" height="1.10" fill="#f2cc1a"/>
<rect x="291.40" y="670.65" width="7.80" height="1.10" fill="#f2cc1a"/>
<rect x="291.40" y="672.05" width="7.80" height="1.10" fill="#f7e27a"/>
<rect x="291.40" y="673.35" width="7.80" height="1.10" fill="#f2cc1a"/>
<rect x="291.40" y="674.55" width="7.80" height="1.10" fill="#f2cc1a"/>
<rect x="291.40" y="675.75" width="7.80" height="1.10" fill="#f7e27a"/>
<rect x="291.40" y="678.95" width="7.80" height="1.10" fill="#f7e27a"/>
<rect x="291.40" y="690.05" width="7.80" height="1.10" fill="#4a7fc0"/>
<rect x="291.40" y="691.65" width="7.80" height="1.10" fill="#a9b860"/>
<rect x="291.40" y="694.05" width="7.80" height="1.10" fill="#4a7fc0"/>
<rect x="291.40" y="696.45" width="7.80" height="1.10" fill="#f2cc1a"/>
<text x="297.80" y="400.30" font-size="6.20" font-weight="bold" fill="#000" transform="rotate(-90 297.80 400.30)">TF</text>
<text x="59.00" y="461.80" font-size="7.45" text-anchor="end" fill="#111">Mono</text>
<text x="59.00" y="542.00" font-size="7.45" text-anchor="end" fill="#111">IM−1</text>
<text x="59.00" y="581.60" font-size="7.45" text-anchor="end" fill="#111">IM−2</text>
<text x="59.00" y="597.80" font-size="7.45" text-anchor="end" fill="#111">Mac0</text>
<text x="59.00" y="610.00" font-size="7.45" text-anchor="end" fill="#111">AM−1</text>
<text x="59.00" y="628.40" font-size="7.45" text-anchor="end" fill="#111">AM−2</text>
<text x="59.00" y="641.50" font-size="7.45" text-anchor="end" fill="#111">AM−3</text>
<text x="59.00" y="669.80" font-size="7.45" text-anchor="end" fill="#111">Pro_AM</text>
<text x="59.00" y="697.00" font-size="7.45" text-anchor="end" fill="#111">Mac1</text>
<text x="106.20" y="412.40" font-size="5.90" text-anchor="end" fill="#111">Plac8</text>
<text x="106.20" y="418.70" font-size="5.90" text-anchor="end" fill="#111">Pou2f2</text>
<text x="106.20" y="424.50" font-size="5.90" text-anchor="end" fill="#111">Ifitm3</text>
<text x="106.20" y="434.60" font-size="5.90" text-anchor="end" fill="#111">Ighm</text>
<text x="106.20" y="523.50" font-size="5.90" text-anchor="end" fill="#111">C1qb</text>
<text x="106.20" y="529.20" font-size="5.90" text-anchor="end" fill="#111">C1qc</text>
<text x="106.20" y="535.00" font-size="5.90" text-anchor="end" fill="#111">C1qa</text>
<text x="106.20" y="570.50" font-size="5.90" text-anchor="end" fill="#111">Gpnmb</text>
<text x="106.20" y="576.20" font-size="5.90" text-anchor="end" fill="#111">Mmp12</text>
<text x="106.20" y="582.00" font-size="5.90" text-anchor="end" fill="#111">Spp1</text>
<text x="106.20" y="587.80" font-size="5.90" text-anchor="end" fill="#111">Mfge8</text>
<text x="106.20" y="593.80" font-size="5.90" text-anchor="end" fill="#111">Fn1</text>
<text x="106.20" y="599.50" font-size="5.90" text-anchor="end" fill="#111">Lpl</text>
<text x="106.20" y="605.60" font-size="5.90" text-anchor="end" fill="#111">Cidec</text>
<text x="106.20" y="611.60" font-size="5.90" text-anchor="end" fill="#111">Ear1</text>
<text x="106.20" y="617.40" font-size="5.90" text-anchor="end" fill="#111">Abcg1</text>
<text x="106.20" y="623.00" font-size="5.90" text-anchor="end" fill="#111">Cyp51</text>
<text x="106.20" y="628.80" font-size="5.90" text-anchor="end" fill="#111">Idi1</text>
<text x="106.20" y="634.70" font-size="5.90" text-anchor="end" fill="#111">Hmgcs1</text>
<text x="106.20" y="640.40" font-size="5.90" text-anchor="end" fill="#111">Fabp4</text>
<text x="106.20" y="646.30" font-size="5.90" text-anchor="end" fill="#111">Ctsk</text>
<text x="106.20" y="652.30" font-size="5.90" text-anchor="end" fill="#111">Slc39a2</text>
<text x="106.20" y="662.40" font-size="5.90" text-anchor="end" fill="#111">Stmn1</text>
<text x="106.20" y="672.50" font-size="5.90" text-anchor="end" fill="#111">2810417H13Rik</text>
<text x="106.20" y="678.50" font-size="5.90" text-anchor="end" fill="#111">Top2a</text>
<text x="106.20" y="691.40" font-size="5.90" text-anchor="end" fill="#111">Trbc2</text>
<text x="106.20" y="698.50" font-size="5.90" text-anchor="end" fill="#111">Gzma</text>
<path d="M107.2,410.4 L109.6,410.4 C111.2,410.4 111.4,413 113,413 L114.8,413 M107.2,416.7 L109.6,416.7 C111.2,416.7 111.4,416.7 113,416.7 L114.8,416.7 M107.2,422.5 L109.6,422.5 C111.2,422.5 111.4,419 113,419 L114.8,419 M107.2,432.6 L109.6,432.6 C111.2,432.6 111.4,432.6 113,432.6 L114.8,432.6 M107.2,521.5 L109.6,521.5 C111.2,521.5 111.4,527 113,527 L114.8,527 M107.2,527.2 L109.6,527.2 C111.2,527.2 111.4,527 113,527 L114.8,527 M107.2,533 L109.6,533 C111.2,533 111.4,527 113,527 L114.8,527 M107.2,568.5 L109.6,568.5 C111.2,568.5 111.4,571 113,571 L114.8,571 M107.2,574.2 L109.6,574.2 C111.2,574.2 111.4,577.5 113,577.5 L114.8,577.5 M107.2,580 L109.6,580 C111.2,580 111.4,588 113,588 L114.8,588 M107.2,585.8 L109.6,585.8 C111.2,585.8 111.4,589 113,589 L114.8,589 M107.2,591.8 L109.6,591.8 C111.2,591.8 111.4,594 113,594 L114.8,594 M107.2,597.5 L109.6,597.5 C111.2,597.5 111.4,594 113,594 L114.8,594 M107.2,603.6 L109.6,603.6 C111.2,603.6 111.4,604.5 113,604.5 L114.8,604.5 M107.2,609.6 L109.6,609.6 C111.2,609.6 111.4,608.5 113,608.5 L114.8,608.5 M107.2,615.4 L109.6,615.4 C111.2,615.4 111.4,617 113,617 L114.8,617 M107.2,621 L109.6,621 C111.2,621 111.4,621.5 113,621.5 L114.8,621.5 M107.2,626.8 L109.6,626.8 C111.2,626.8 111.4,628 113,628 L114.8,628 M107.2,632.7 L109.6,632.7 C111.2,632.7 111.4,628.5 113,628.5 L114.8,628.5 M107.2,638.4 L109.6,638.4 C111.2,638.4 111.4,635 113,635 L114.8,635 M107.2,644.3 L109.6,644.3 C111.2,644.3 111.4,635 113,635 L114.8,635 M107.2,650.3 L109.6,650.3 C111.2,650.3 111.4,635 113,635 L114.8,635 M107.2,660.4 L109.6,660.4 C111.2,660.4 111.4,660.4 113,660.4 L114.8,660.4 M107.2,670.5 L109.6,670.5 C111.2,670.5 111.4,673 113,673 L114.8,673 M107.2,676.5 L109.6,676.5 C111.2,676.5 111.4,673 113,673 L114.8,673 M107.2,689.4 L109.6,689.4 C111.2,689.4 111.4,689.4 113,689.4 L114.8,689.4 M107.2,696.5 L109.6,696.5 C111.2,696.5 111.4,698 113,698 L114.8,698 " fill="none" stroke="#222" stroke-width="0.5"/>
<text x="307.00" y="399.90" font-size="7.00" fill="#000">GO_BP (terms)</text>
<text x="447.70" y="399.80" font-size="6.96" fill="#000">KEGG (terms)</text>
<rect x="302.20" y="403.90" width="4.70" height="110.00" fill="#F8766D" stroke="#666" stroke-width="0.4"/>
<rect x="443.30" y="403.90" width="4.40" height="110.00" fill="#F8766D" stroke="#666" stroke-width="0.4"/>
<rect x="302.20" y="515.90" width="4.70" height="47.10" fill="#D39200" stroke="#666" stroke-width="0.4"/>
<rect x="443.30" y="515.90" width="4.40" height="47.10" fill="#D39200" stroke="#666" stroke-width="0.4"/>
<rect x="302.20" y="565.40" width="4.70" height="26.00" fill="#93AA00" stroke="#666" stroke-width="0.4"/>
<rect x="443.30" y="565.40" width="4.40" height="26.00" fill="#93AA00" stroke="#666" stroke-width="0.4"/>
<rect x="302.20" y="593.00" width="4.70" height="1.60" fill="#00BA38" stroke="#666" stroke-width="0.4"/>
<rect x="443.30" y="593.00" width="4.40" height="1.60" fill="#00BA38" stroke="#666" stroke-width="0.4"/>
<rect x="302.20" y="596.00" width="4.70" height="22.00" fill="#00C19F" stroke="#666" stroke-width="0.4"/>
<rect x="443.30" y="596.00" width="4.40" height="22.00" fill="#00C19F" stroke="#666" stroke-width="0.4"/>
<rect x="302.20" y="619.40" width="4.70" height="12.30" fill="#00B9E3" stroke="#666" stroke-width="0.4"/>
<rect x="443.30" y="619.40" width="4.40" height="12.30" fill="#00B9E3" stroke="#666" stroke-width="0.4"/>
<rect x="302.20" y="633.30" width="4.70" height="11.30" fill="#619CFF" stroke="#666" stroke-width="0.4"/>
<rect x="443.30" y="633.30" width="4.40" height="11.30" fill="#619CFF" stroke="#666" stroke-width="0.4"/>
<rect x="302.20" y="646.60" width="4.70" height="39.90" fill="#DB72FB" stroke="#666" stroke-width="0.4"/>
<rect x="443.30" y="646.60" width="4.40" height="39.90" fill="#DB72FB" stroke="#666" stroke-width="0.4"/>
<rect x="302.20" y="688.30" width="4.70" height="11.20" fill="#FF61C3" stroke="#666" stroke-width="0.4"/>
<rect x="443.30" y="688.30" width="4.40" height="11.20" fill="#FF61C3" stroke="#666" stroke-width="0.4"/>
<rect x="306.90" y="403.80" width="133.50" height="36.50" fill="#f8f8f8"/>
<text x="317.40" y="410.10" font-size="4.68" fill="#8c1c47">Cytokine−mediated signaling pathway</text>
<text x="317.40" y="415.79" font-size="4.68" fill="#8c1c47">Response to virus</text>
<text x="317.40" y="421.48" font-size="4.68" fill="#a8433c">Leukocyte mediated immunity</text>
<text x="317.40" y="427.17" font-size="4.68" fill="#a9ab7e">Negative regulation of immune system process</text>
<text x="317.40" y="432.86" font-size="4.68" fill="#3f7d93">Positive regulation of response to external stimulus</text>
<text x="317.40" y="438.55" font-size="4.68" fill="#433f8c">Phagocytosis</text>
<rect x="314.60" y="440.30" width="125.80" height="37.10" fill="#f8f8f8"/>
<text x="317.40" y="446.60" font-size="4.68" fill="#8c1c47">Myeloid leukocyte migration</text>
<text x="317.40" y="452.29" font-size="4.68" fill="#a9ab7e">Leukocyte chemotaxis</text>
<text x="317.40" y="457.98" font-size="4.68" fill="#7fa586">Positive regulation of response to external stimulus</text>
<text x="317.40" y="463.67" font-size="4.68" fill="#3b579a">Monocyte chemotaxis</text>
<text x="317.40" y="469.36" font-size="4.68" fill="#3b579a">Leukocyte migration</text>
<text x="317.40" y="475.05" font-size="4.68" fill="#433f8c">Cell chemotaxis</text>
<rect x="314.60" y="477.40" width="125.80" height="36.80" fill="#f8f8f8"/>
<text x="317.40" y="483.70" font-size="4.68" fill="#8c1c47">Antigen processing and presentation</text>
<text x="317.40" y="489.39" font-size="4.68" fill="#a9ab7e">Leukocyte migration</text>
<text x="317.40" y="495.08" font-size="4.68" fill="#a9ab7e">Antigen processing and presentation of peptide antigen</text>
<text x="317.40" y="500.77" font-size="4.68" fill="#3b579a">Leukocyte chemotaxis</text>
<text x="317.40" y="506.46" font-size="4.68" fill="#433f8c">Mononuclear cell migration</text>
<text x="317.40" y="512.15" font-size="4.68" fill="#433f8c">Myeloid leukocyte migration</text>
<rect x="314.60" y="514.20" width="125.80" height="37.40" fill="#f8f8f8"/>
<text x="317.40" y="520.50" font-size="4.68" fill="#8c1c47">Response to nutrient</text>
<text x="317.40" y="526.19" font-size="4.68" fill="#a9ab7e">Positive regulation of lipid localization</text>
<text x="317.40" y="531.88" font-size="4.68" fill="#a9ab7e">Positive regulation of cell−substrate adhesion</text>
<text x="317.40" y="537.57" font-size="4.68" fill="#7fa586">Regulation of lipid localization</text>
<text x="317.40" y="543.26" font-size="4.68" fill="#3b579a">Regulation of cell−substrate adhesion</text>
<text x="317.40" y="548.95" font-size="4.68" fill="#433f8c">Lipid catabolic process</text>
<rect x="314.60" y="551.60" width="125.80" height="36.50" fill="#f8f8f8"/>
<text x="317.40" y="557.90" font-size="4.68" fill="#8c1c47">Fatty acid metabolic process</text>
<text x="317.40" y="563.59" font-size="4.68" fill="#8c1c47">Lipid catabolic process</text>
<text x="317.40" y="569.28" font-size="4.68" fill="#3b579a">Regulation of macrophage derived foam cell differentiation</text>
<text x="317.40" y="574.97" font-size="4.68" fill="#3b579a">Cellular lipid catabolic process</text>
<text x="317.40" y="580.66" font-size="4.68" fill="#433f8c">Macrophage derived foam cell differentiation</text>
<text x="317.40" y="586.35" font-size="4.68" fill="#433f8c">Negative regulation of hydrolase activity</text>
<rect x="314.60" y="588.10" width="125.80" height="37.10" fill="#f8f8f8"/>
<text x="317.40" y="594.40" font-size="4.68" fill="#8c1c47">Cholesterol biosynthetic process</text>
<text x="317.40" y="600.09" font-size="4.68" fill="#8c1c47">Secondary alcohol biosynthetic process</text>
<text x="317.40" y="605.78" font-size="4.68" fill="#a8433c">Sterol biosynthetic process</text>
<text x="317.40" y="611.47" font-size="4.68" fill="#3f7d93">Cholesterol metabolic process</text>
<text x="317.40" y="617.16" font-size="4.68" fill="#3b579a">Sterol metabolic process</text>
<text x="317.40" y="622.85" font-size="4.68" fill="#433f8c">Secondary alcohol metabolic process</text>
<rect x="314.60" y="625.20" width="125.80" height="37.40" fill="#f8f8f8"/>
<text x="317.40" y="631.50" font-size="4.68" fill="#8c1c47">Nuclear division</text>
<text x="317.40" y="637.19" font-size="4.68" fill="#3f7d93">Mitotic nuclear division</text>
<text x="317.40" y="642.88" font-size="4.68" fill="#3f7d93">Mitotic sister chromatid segregation</text>
<text x="317.40" y="648.57" font-size="4.68" fill="#3f7d93">Sister chromatid segregation</text>
<text x="317.40" y="654.26" font-size="4.68" fill="#3b579a">Mitotic cell cycle phase transition</text>
<text x="317.40" y="659.95" font-size="4.68" fill="#433f8c">Positive regulation of cell cycle process</text>
<rect x="314.60" y="662.60" width="125.80" height="36.80" fill="#f8f8f8"/>
<text x="317.40" y="668.90" font-size="4.68" fill="#8c1c47">Lymphocyte differentiation</text>
<text x="317.40" y="674.59" font-size="4.68" fill="#8c1c47">T cell differentiation</text>
<text x="317.40" y="680.28" font-size="4.68" fill="#b9874b">Regulation of T cell activation</text>
<text x="317.40" y="685.97" font-size="4.68" fill="#b9874b">T cell selection</text>
<text x="317.40" y="691.66" font-size="4.68" fill="#a9ab7e">Positive regulation of leukocyte cell−cell adhesion</text>
<text x="317.40" y="697.35" font-size="4.68" fill="#433f8c">Thymic T cell selection</text>
<line x1="306.90" y1="403.80" x2="440.40" y2="403.80" stroke="#b0b0b0" stroke-width="0.75"/>
<line x1="440.40" y1="403.80" x2="440.40" y2="440.30" stroke="#3a3a3a" stroke-width="0.75"/>
<path d="M314.6,440.3 L306.9,513.9" fill="none" stroke="#3a3a3a" stroke-width="0.6"/>
<line x1="314.60" y1="440.30" x2="440.40" y2="440.30" stroke="#3a3a3a" stroke-width="0.75"/>
<line x1="440.40" y1="440.30" x2="440.40" y2="477.40" stroke="#3a3a3a" stroke-width="0.75"/>
<path d="M314.6,440.3 L306.9,515.9" fill="none" stroke="#3a3a3a" stroke-width="0.6"/>
<path d="M314.6,477.4 L306.9,563" fill="none" stroke="#3a3a3a" stroke-width="0.6"/>
<line x1="314.60" y1="477.40" x2="440.40" y2="477.40" stroke="#3a3a3a" stroke-width="0.75"/>
<line x1="440.40" y1="477.40" x2="440.40" y2="514.20" stroke="#3a3a3a" stroke-width="0.75"/>
<path d="M314.6,477.4 L306.9,565.4" fill="none" stroke="#3a3a3a" stroke-width="0.6"/>
<path d="M314.6,514.2 L306.9,591.4" fill="none" stroke="#3a3a3a" stroke-width="0.6"/>
<line x1="314.60" y1="514.20" x2="440.40" y2="514.20" stroke="#3a3a3a" stroke-width="0.75"/>
<line x1="440.40" y1="514.20" x2="440.40" y2="551.60" stroke="#3a3a3a" stroke-width="0.75"/>
<path d="M314.6,514.2 L306.9,593" fill="none" stroke="#3a3a3a" stroke-width="0.6"/>
<path d="M314.6,551.6 L306.9,594.6" fill="none" stroke="#3a3a3a" stroke-width="0.6"/>
<line x1="314.60" y1="551.60" x2="440.40" y2="551.60" stroke="#3a3a3a" stroke-width="0.75"/>
<line x1="440.40" y1="551.60" x2="440.40" y2="588.10" stroke="#3a3a3a" stroke-width="0.75"/>
<path d="M314.6,551.6 L306.9,596" fill="none" stroke="#3a3a3a" stroke-width="0.6"/>
<path d="M314.6,588.1 L306.9,618" fill="none" stroke="#3a3a3a" stroke-width="0.6"/>
<line x1="314.60" y1="588.10" x2="440.40" y2="588.10" stroke="#3a3a3a" stroke-width="0.75"/>
<line x1="440.40" y1="588.10" x2="440.40" y2="625.20" stroke="#3a3a3a" stroke-width="0.75"/>
<path d="M314.6,588.1 L306.9,619.4" fill="none" stroke="#3a3a3a" stroke-width="0.6"/>
<path d="M314.6,625.2 L306.9,631.7" fill="none" stroke="#3a3a3a" stroke-width="0.6"/>
<line x1="314.60" y1="625.20" x2="440.40" y2="625.20" stroke="#3a3a3a" stroke-width="0.75"/>
<line x1="440.40" y1="625.20" x2="440.40" y2="662.60" stroke="#3a3a3a" stroke-width="0.75"/>
<path d="M314.6,625.2 L306.9,646.6" fill="none" stroke="#3a3a3a" stroke-width="0.6"/>
<path d="M314.6,662.6 L306.9,686.5" fill="none" stroke="#3a3a3a" stroke-width="0.6"/>
<line x1="314.60" y1="662.60" x2="440.40" y2="662.60" stroke="#3a3a3a" stroke-width="0.75"/>
<line x1="440.40" y1="662.60" x2="440.40" y2="699.40" stroke="#3a3a3a" stroke-width="0.75"/>
<path d="M314.6,662.6 L306.9,688.3" fill="none" stroke="#3a3a3a" stroke-width="0.6"/>
<path d="M314.6,699.4 L306.9,699.5" fill="none" stroke="#3a3a3a" stroke-width="0.6"/>
<line x1="314.60" y1="699.40" x2="440.40" y2="699.40" stroke="#3a3a3a" stroke-width="0.75"/>
<rect x="447.70" y="404.00" width="135.80" height="36.40" fill="#f8f8f8"/>
<text x="458.10" y="410.20" font-size="4.67" fill="#8c1c47">Osteoclast differentiation</text>
<text x="458.10" y="415.89" font-size="4.67" fill="#a8433c">Epstein−Barr virus infection</text>
<text x="458.10" y="421.58" font-size="4.67" fill="#a8433c">Herpes simplex virus 1 infection</text>
<text x="458.10" y="427.27" font-size="4.67" fill="#a9ab7e">Coronavirus disease − COVID−19</text>
<text x="458.10" y="432.96" font-size="4.67" fill="#433f8c">Chemokine signaling pathway</text>
<text x="458.10" y="438.65" font-size="4.67" fill="#433f8c">C−type lectin receptor signaling pathway</text>
<rect x="455.40" y="440.40" width="128.10" height="37.20" fill="#f8f8f8"/>
<text x="458.10" y="446.60" font-size="4.67" fill="#8c1c47">Viral protein interaction with cytokine and cytokine receptor</text>
<text x="458.10" y="452.29" font-size="4.67" fill="#a9ab7e">Rheumatoid arthritis</text>
<text x="458.10" y="457.98" font-size="4.67" fill="#7fa586">Herpes simplex virus 1 infection</text>
<text x="458.10" y="463.67" font-size="4.67" fill="#3f7d93">Chemokine signaling pathway</text>
<text x="458.10" y="469.36" font-size="4.67" fill="#433f8c">Leishmaniasis</text>
<text x="458.10" y="475.05" font-size="4.67" fill="#433f8c">TNF signaling pathway</text>
<rect x="455.40" y="477.60" width="128.10" height="37.00" fill="#f8f8f8"/>
<text x="458.10" y="483.80" font-size="4.67" fill="#8c1c47">Lysosome</text>
<text x="458.10" y="489.49" font-size="4.67" fill="#b9874b">Antigen processing and presentation</text>
<text x="458.10" y="495.18" font-size="4.67" fill="#7fa586">Phagosome</text>
<text x="458.10" y="500.87" font-size="4.67" fill="#433f8c">Allograft rejection</text>
<text x="458.10" y="506.56" font-size="4.67" fill="#433f8c">Graft−versus−host disease</text>
<text x="458.10" y="512.25" font-size="4.67" fill="#433f8c">Type I diabetes mellitus</text>
<rect x="455.40" y="514.60" width="128.10" height="36.90" fill="#f8f8f8"/>
<text x="458.10" y="520.80" font-size="4.67" fill="#8c1c47">ECM−receptor interaction</text>
<text x="458.10" y="526.49" font-size="4.67" fill="#a9ab7e">Focal adhesion</text>
<text x="458.10" y="532.18" font-size="4.67" fill="#a9ab7e">Human papillomavirus infection</text>
<text x="458.10" y="537.87" font-size="4.67" fill="#a9ab7e">PI3K−Akt signaling pathway</text>
<text x="458.10" y="543.56" font-size="4.67" fill="#433f8c">Cholesterol metabolism</text>
<text x="458.10" y="549.25" font-size="4.67" fill="#433f8c">Glycerolipid metabolism</text>
<rect x="455.40" y="551.50" width="128.10" height="31.90" fill="#f8f8f8"/>
<text x="458.10" y="557.70" font-size="4.67" fill="#8c1c47">PPAR signaling pathway</text>
<text x="458.10" y="563.39" font-size="4.67" fill="#a9ab7e">Cholesterol metabolism</text>
<text x="458.10" y="569.08" font-size="4.67" fill="#a9ab7e">Glycerolipid metabolism</text>
<text x="458.10" y="574.77" font-size="4.67" fill="#a9ab7e">Alcoholic liver disease</text>
<text x="458.10" y="580.46" font-size="4.67" fill="#433f8c">P53 signaling pathway</text>
<rect x="455.40" y="583.40" width="128.10" height="26.70" fill="#f8f8f8"/>
<text x="458.10" y="589.60" font-size="4.67" fill="#8c1c47">Steroid biosynthesis</text>
<text x="458.10" y="595.29" font-size="4.67" fill="#8c1c47">Terpenoid backbone biosynthesis</text>
<text x="458.10" y="600.98" font-size="4.67" fill="#b9874b">PPAR signaling pathway</text>
<text x="458.10" y="606.67" font-size="4.67" fill="#433f8c">Alcoholic liver disease</text>
<rect x="455.40" y="610.10" width="128.10" height="15.30" fill="#f8f8f8"/>
<text x="458.10" y="616.30" font-size="4.67" fill="#8c1c47">Lysosome</text>
<text x="458.10" y="621.99" font-size="4.67" fill="#433f8c">PPAR signaling pathway</text>
<rect x="455.40" y="625.40" width="128.10" height="37.00" fill="#f8f8f8"/>
<text x="458.10" y="631.60" font-size="4.67" fill="#8c1c47">Cell cycle</text>
<text x="458.10" y="637.29" font-size="4.67" fill="#a9ab7e">DNA replication</text>
<text x="458.10" y="642.98" font-size="4.67" fill="#433f8c">Pyrimidine metabolism</text>
<text x="458.10" y="648.67" font-size="4.67" fill="#433f8c">Nucleotide metabolism</text>
<text x="458.10" y="654.36" font-size="4.67" fill="#433f8c">Motor proteins</text>
<text x="458.10" y="660.05" font-size="4.67" fill="#433f8c">Progesterone−mediated oocyte maturation</text>
<rect x="455.40" y="662.40" width="128.10" height="36.90" fill="#f8f8f8"/>
<text x="458.10" y="668.60" font-size="4.67" fill="#8c1c47">Primary immunodeficiency</text>
<text x="458.10" y="674.29" font-size="4.67" fill="#b9874b">T cell receptor signaling pathway</text>
<text x="458.10" y="679.98" font-size="4.67" fill="#3f7d93">Th1 and Th2 cell differentiation</text>
<text x="458.10" y="685.67" font-size="4.67" fill="#3f7d93">PD−L1 expression and PD−1 checkpoint pathway in cancer</text>
<text x="458.10" y="691.36" font-size="4.67" fill="#433f8c">Chagas disease</text>
<text x="458.10" y="697.05" font-size="4.67" fill="#433f8c">Th17 cell differentiation</text>
<line x1="447.70" y1="404.00" x2="583.50" y2="404.00" stroke="#b0b0b0" stroke-width="0.75"/>
<line x1="583.50" y1="404.00" x2="583.50" y2="440.40" stroke="#3a3a3a" stroke-width="0.75"/>
<path d="M455.4,440.4 L447.7,513.9" fill="none" stroke="#3a3a3a" stroke-width="0.6"/>
<line x1="455.40" y1="440.40" x2="583.50" y2="440.40" stroke="#3a3a3a" stroke-width="0.75"/>
<line x1="583.50" y1="440.40" x2="583.50" y2="477.60" stroke="#3a3a3a" stroke-width="0.75"/>
<path d="M455.4,440.4 L447.7,515.9" fill="none" stroke="#3a3a3a" stroke-width="0.6"/>
<path d="M455.4,477.6 L447.7,563" fill="none" stroke="#3a3a3a" stroke-width="0.6"/>
<line x1="455.40" y1="477.60" x2="583.50" y2="477.60" stroke="#3a3a3a" stroke-width="0.75"/>
<line x1="583.50" y1="477.60" x2="583.50" y2="514.60" stroke="#3a3a3a" stroke-width="0.75"/>
<path d="M455.4,477.6 L447.7,565.4" fill="none" stroke="#3a3a3a" stroke-width="0.6"/>
<path d="M455.4,514.6 L447.7,591.4" fill="none" stroke="#3a3a3a" stroke-width="0.6"/>
<line x1="455.40" y1="514.60" x2="583.50" y2="514.60" stroke="#3a3a3a" stroke-width="0.75"/>
<line x1="583.50" y1="514.60" x2="583.50" y2="551.50" stroke="#3a3a3a" stroke-width="0.75"/>
<path d="M455.4,514.6 L447.7,593" fill="none" stroke="#3a3a3a" stroke-width="0.6"/>
<path d="M455.4,551.5 L447.7,594.6" fill="none" stroke="#3a3a3a" stroke-width="0.6"/>
<line x1="455.40" y1="551.50" x2="583.50" y2="551.50" stroke="#3a3a3a" stroke-width="0.75"/>
<line x1="583.50" y1="551.50" x2="583.50" y2="583.40" stroke="#3a3a3a" stroke-width="0.75"/>
<path d="M455.4,551.5 L447.7,596" fill="none" stroke="#3a3a3a" stroke-width="0.6"/>
<path d="M455.4,583.4 L447.7,618" fill="none" stroke="#3a3a3a" stroke-width="0.6"/>
<line x1="455.40" y1="583.40" x2="583.50" y2="583.40" stroke="#3a3a3a" stroke-width="0.75"/>
<line x1="583.50" y1="583.40" x2="583.50" y2="610.10" stroke="#3a3a3a" stroke-width="0.75"/>
<path d="M455.4,583.4 L447.7,619.4" fill="none" stroke="#3a3a3a" stroke-width="0.6"/>
<path d="M455.4,610.1 L447.7,631.7" fill="none" stroke="#3a3a3a" stroke-width="0.6"/>
<line x1="455.40" y1="610.10" x2="583.50" y2="610.10" stroke="#3a3a3a" stroke-width="0.75"/>
<line x1="583.50" y1="610.10" x2="583.50" y2="625.40" stroke="#3a3a3a" stroke-width="0.75"/>
<path d="M455.4,610.1 L447.7,633.3" fill="none" stroke="#3a3a3a" stroke-width="0.6"/>
<path d="M455.4,625.4 L447.7,644.6" fill="none" stroke="#3a3a3a" stroke-width="0.6"/>
<line x1="455.40" y1="625.40" x2="583.50" y2="625.40" stroke="#3a3a3a" stroke-width="0.75"/>
<line x1="583.50" y1="625.40" x2="583.50" y2="662.40" stroke="#3a3a3a" stroke-width="0.75"/>
<path d="M455.4,625.4 L447.7,646.6" fill="none" stroke="#3a3a3a" stroke-width="0.6"/>
<path d="M455.4,662.4 L447.7,686.5" fill="none" stroke="#3a3a3a" stroke-width="0.6"/>
<line x1="455.40" y1="662.40" x2="583.50" y2="662.40" stroke="#3a3a3a" stroke-width="0.75"/>
<line x1="583.50" y1="662.40" x2="583.50" y2="699.30" stroke="#3a3a3a" stroke-width="0.75"/>
<path d="M455.4,662.4 L447.7,688.3" fill="none" stroke="#3a3a3a" stroke-width="0.6"/>
<path d="M455.4,699.3 L447.7,699.5" fill="none" stroke="#3a3a3a" stroke-width="0.6"/>
<line x1="455.40" y1="699.30" x2="583.50" y2="699.30" stroke="#3a3a3a" stroke-width="0.75"/>
<text x="593.80" y="446.70" font-size="5.87" font-weight="bold" fill="#000">zscore(normalized counts)</text>
<rect x="593.50" y="450.30" width="6.80" height="35.10" fill="url(#zg)"/>
<line x1="593.50" y1="452.10" x2="594.60" y2="452.10" stroke="#fff" stroke-width="0.4"/>
<line x1="599.20" y1="452.10" x2="600.30" y2="452.10" stroke="#fff" stroke-width="0.4"/>
<text x="601.60" y="454.20" font-size="5.60" fill="#111">2</text>
<line x1="593.50" y1="460.10" x2="594.60" y2="460.10" stroke="#fff" stroke-width="0.4"/>
<line x1="599.20" y1="460.10" x2="600.30" y2="460.10" stroke="#fff" stroke-width="0.4"/>
<text x="601.60" y="462.20" font-size="5.60" fill="#111">1</text>
<line x1="593.50" y1="468.30" x2="594.60" y2="468.30" stroke="#fff" stroke-width="0.4"/>
<line x1="599.20" y1="468.30" x2="600.30" y2="468.30" stroke="#fff" stroke-width="0.4"/>
<text x="601.60" y="470.40" font-size="5.60" fill="#111">0</text>
<line x1="593.50" y1="476.30" x2="594.60" y2="476.30" stroke="#fff" stroke-width="0.4"/>
<line x1="599.20" y1="476.30" x2="600.30" y2="476.30" stroke="#fff" stroke-width="0.4"/>
<text x="601.60" y="478.40" font-size="5.60" fill="#111">−1</text>
<line x1="593.50" y1="484.30" x2="594.60" y2="484.30" stroke="#fff" stroke-width="0.4"/>
<line x1="599.20" y1="484.30" x2="600.30" y2="484.30" stroke="#fff" stroke-width="0.4"/>
<text x="601.60" y="486.40" font-size="5.60" fill="#111">−2</text>
<text x="593.80" y="498.80" font-size="5.90" font-weight="bold" fill="#000">Cluster</text>
<rect x="593.50" y="502.20" width="6.80" height="6.55" fill="#F8766D" stroke="#777" stroke-width="0.3"/>
<text x="602.20" y="507.60" font-size="6.00" fill="#111">Mono</text>
<rect x="593.50" y="508.75" width="6.80" height="6.55" fill="#D39200" stroke="#777" stroke-width="0.3"/>
<text x="602.20" y="514.15" font-size="6.00" fill="#111">IM−1</text>
<rect x="593.50" y="515.30" width="6.80" height="6.55" fill="#93AA00" stroke="#777" stroke-width="0.3"/>
<text x="602.20" y="520.70" font-size="6.00" fill="#111">IM−2</text>
<rect x="593.50" y="521.85" width="6.80" height="6.55" fill="#00BA38" stroke="#777" stroke-width="0.3"/>
<text x="602.20" y="527.25" font-size="6.00" fill="#111">Mac0</text>
<rect x="593.50" y="528.40" width="6.80" height="6.55" fill="#00C19F" stroke="#777" stroke-width="0.3"/>
<text x="602.20" y="533.80" font-size="6.00" fill="#111">AM−1</text>
<rect x="593.50" y="534.95" width="6.80" height="6.55" fill="#00B9E3" stroke="#777" stroke-width="0.3"/>
<text x="602.20" y="540.35" font-size="6.00" fill="#111">AM−2</text>
<rect x="593.50" y="541.50" width="6.80" height="6.55" fill="#619CFF" stroke="#777" stroke-width="0.3"/>
<text x="602.20" y="546.90" font-size="6.00" fill="#111">AM−3</text>
<rect x="593.50" y="548.05" width="6.80" height="6.55" fill="#DB72FB" stroke="#777" stroke-width="0.3"/>
<text x="602.20" y="553.45" font-size="6.00" fill="#111">Pro_AM</text>
<rect x="593.50" y="554.60" width="6.80" height="6.55" fill="#FF61C3" stroke="#777" stroke-width="0.3"/>
<text x="602.20" y="560.00" font-size="6.00" fill="#111">Mac1</text>
<text x="593.80" y="572.90" font-size="5.90" font-weight="bold" fill="#000">TF</text>
<rect x="593.50" y="576.80" width="6.80" height="5.80" fill="#f2cc1a" stroke="#777" stroke-width="0.3"/>
<text x="602.20" y="581.90" font-size="6.00" fill="#111">TF cofactor</text>
<rect x="593.50" y="582.60" width="6.80" height="6.30" fill="#4a7fc0" stroke="#777" stroke-width="0.3"/>
<text x="602.20" y="588.10" font-size="6.00" fill="#111">TF</text>
<text x="0.80" y="744.60" font-size="12.20" font-weight="bold" fill="#000">h</text>
<g filter="url(#sk7)"><use href="#u_ProAM" fill="#d3d3d8" stroke="#d3d3d8" stroke-width="1.2" transform="translate(46.60,796.00) scale(3.210,4.360)"/></g><g filter="url(#sk7)"><use href="#u_Mono" fill="#d3d3d8" stroke="#d3d3d8" stroke-width="1.2" transform="translate(46.60,796.00) scale(3.210,4.360)"/></g><g filter="url(#sk7)"><use href="#u_Mac1" fill="#d3d3d8" stroke="#d3d3d8" stroke-width="1.2" transform="translate(46.60,796.00) scale(3.210,4.360)"/></g><g filter="url(#sk7)"><use href="#u_IM1" fill="#d3d3d8" stroke="#d3d3d8" stroke-width="1.2" transform="translate(46.60,796.00) scale(3.210,4.360)"/></g><g filter="url(#sk7)"><use href="#u_IM2" fill="#d3d3d8" stroke="#d3d3d8" stroke-width="1.2" transform="translate(46.60,796.00) scale(3.210,4.360)"/></g><g filter="url(#sk7)"><use href="#u_Mac0" fill="#d3d3d8" stroke="#d3d3d8" stroke-width="1.2" transform="translate(46.60,796.00) scale(3.210,4.360)"/></g><g filter="url(#sk7)"><use href="#u_AM3" fill="#d3d3d8" stroke="#d3d3d8" stroke-width="1.2" transform="translate(46.60,796.00) scale(3.210,4.360)"/></g><g filter="url(#sk7)"><use href="#u_AM2" fill="#d3d3d8" stroke="#d3d3d8" stroke-width="1.2" transform="translate(46.60,796.00) scale(3.210,4.360)"/></g><g filter="url(#sk7)"><use href="#u_AM1" fill="#d3d3d8" stroke="#d3d3d8" stroke-width="1.2" transform="translate(46.60,796.00) scale(3.210,4.360)"/></g>
<g opacity="0.6"><g filter="url(#sk3)"><use href="#u_ProAM" fill="#6d5ce6" stroke="#6d5ce6" stroke-width="1.2" transform="translate(46.60,796.00) scale(3.210,4.360)"/></g><g filter="url(#sk0)"><use href="#u_Mono" fill="#6d5ce6" stroke="#6d5ce6" stroke-width="1.2" transform="translate(46.60,796.00) scale(3.210,4.360)"/></g><g filter="url(#sk2)"><use href="#u_Mac1" fill="#6d5ce6" stroke="#6d5ce6" stroke-width="1.2" transform="translate(46.60,796.00) scale(3.210,4.360)"/></g><g filter="url(#sk2)"><use href="#u_IM1" fill="#6d5ce6" stroke="#6d5ce6" stroke-width="1.2" transform="translate(46.60,796.00) scale(3.210,4.360)"/></g><g filter="url(#sk5)"><use href="#u_IM2" fill="#6d5ce6" stroke="#6d5ce6" stroke-width="1.2" transform="translate(46.60,796.00) scale(3.210,4.360)"/></g><g filter="url(#sk5)"><use href="#u_Mac0" fill="#6d5ce6" stroke="#6d5ce6" stroke-width="1.2" transform="translate(46.60,796.00) scale(3.210,4.360)"/></g><g filter="url(#sk4)"><use href="#u_AM3" fill="#6d5ce6" stroke="#6d5ce6" stroke-width="1.2" transform="translate(46.60,796.00) scale(3.210,4.360)"/></g><g filter="url(#sk3)"><use href="#u_AM2" fill="#6d5ce6" stroke="#6d5ce6" stroke-width="1.2" transform="translate(46.60,796.00) scale(3.210,4.360)"/></g><g filter="url(#sk1)"><use href="#u_AM1" fill="#6d5ce6" stroke="#6d5ce6" stroke-width="1.2" transform="translate(46.60,796.00) scale(3.210,4.360)"/></g></g>
<text x="40.10" y="744.60" font-size="10.00" font-style="italic" fill="#000">Spp1</text>
<line x1="11.60" y1="750.30" x2="11.60" y2="825.00" stroke="#444" stroke-width="0.5"/>
<line x1="11.60" y1="825.00" x2="81.90" y2="825.00" stroke="#444" stroke-width="0.5"/>
<line x1="10.60" y1="752.40" x2="11.60" y2="752.40" stroke="#444" stroke-width="0.4"/>
<text x="10.20" y="753.40" font-size="2.90" text-anchor="end" fill="#555">10</text>
<line x1="10.60" y1="774.20" x2="11.60" y2="774.20" stroke="#444" stroke-width="0.4"/>
<text x="10.20" y="775.20" font-size="2.90" text-anchor="end" fill="#555">5</text>
<line x1="10.60" y1="796.00" x2="11.60" y2="796.00" stroke="#444" stroke-width="0.4"/>
<text x="10.20" y="797.00" font-size="2.90" text-anchor="end" fill="#555">0</text>
<line x1="10.60" y1="817.80" x2="11.60" y2="817.80" stroke="#444" stroke-width="0.4"/>
<text x="10.20" y="818.80" font-size="2.90" text-anchor="end" fill="#555">-5</text>
<line x1="14.50" y1="825.00" x2="14.50" y2="826.10" stroke="#444" stroke-width="0.4"/>
<text x="14.50" y="829.30" font-size="2.90" text-anchor="middle" fill="#555">-10</text>
<line x1="30.55" y1="825.00" x2="30.55" y2="826.10" stroke="#444" stroke-width="0.4"/>
<text x="30.55" y="829.30" font-size="2.90" text-anchor="middle" fill="#555">-5</text>
<line x1="46.60" y1="825.00" x2="46.60" y2="826.10" stroke="#444" stroke-width="0.4"/>
<text x="46.60" y="829.30" font-size="2.90" text-anchor="middle" fill="#555">0</text>
<line x1="62.65" y1="825.00" x2="62.65" y2="826.10" stroke="#444" stroke-width="0.4"/>
<text x="62.65" y="829.30" font-size="2.90" text-anchor="middle" fill="#555">5</text>
<line x1="78.70" y1="825.00" x2="78.70" y2="826.10" stroke="#444" stroke-width="0.4"/>
<text x="78.70" y="829.30" font-size="2.90" text-anchor="middle" fill="#555">10</text>
<text x="3.60" y="788.00" font-size="3.40" text-anchor="middle" fill="#333" transform="rotate(-90 3.60 788.00)">UMAP_2</text>
<text x="43.10" y="833.20" font-size="3.40" text-anchor="middle" fill="#333">UMAP_1</text>
<text x="27.30" y="761.50" font-size="5.35" fill="#222">Pro_AM</text>
<text x="63.90" y="770.00" font-size="5.35" fill="#222">Mono</text>
<text x="39.80" y="781.60" font-size="5.35" fill="#222">Mac1</text>
<text x="33.40" y="790.40" font-size="5.35" fill="#222">AM-2</text>
<text x="16.10" y="796.80" font-size="5.35" fill="#222">AM-1</text>
<text x="46.60" y="804.40" font-size="5.35" fill="#222">Mac0</text>
<text x="69.90" y="804.00" font-size="5.35" fill="#222">IM-1</text>
<text x="31.80" y="810.80" font-size="5.35" fill="#222">AM-3</text>
<text x="59.40" y="815.80" font-size="5.35" fill="#222">IM-2</text>
<rect x="85.90" y="776.80" width="4.30" height="20.80" fill="url(#bg)"/>
<text x="91.10" y="779.00" font-size="2.30" fill="#555">7.0</text>
<text x="91.10" y="783.30" font-size="2.30" fill="#555">5.5</text>
<text x="91.10" y="787.60" font-size="2.30" fill="#555">4.0</text>
<text x="91.10" y="791.90" font-size="2.30" fill="#555">2.5</text>
<text x="91.10" y="796.20" font-size="2.30" fill="#555">1.0</text>
<g filter="url(#sk7)"><use href="#u_ProAM" fill="#d3d3d8" stroke="#d3d3d8" stroke-width="1.2" transform="translate(143.20,796.00) scale(3.210,4.360)"/></g><g filter="url(#sk7)"><use href="#u_Mono" fill="#d3d3d8" stroke="#d3d3d8" stroke-width="1.2" transform="translate(143.20,796.00) scale(3.210,4.360)"/></g><g filter="url(#sk7)"><use href="#u_Mac1" fill="#d3d3d8" stroke="#d3d3d8" stroke-width="1.2" transform="translate(143.20,796.00) scale(3.210,4.360)"/></g><g filter="url(#sk7)"><use href="#u_IM1" fill="#d3d3d8" stroke="#d3d3d8" stroke-width="1.2" transform="translate(143.20,796.00) scale(3.210,4.360)"/></g><g filter="url(#sk7)"><use href="#u_IM2" fill="#d3d3d8" stroke="#d3d3d8" stroke-width="1.2" transform="translate(143.20,796.00) scale(3.210,4.360)"/></g><g filter="url(#sk7)"><use href="#u_Mac0" fill="#d3d3d8" stroke="#d3d3d8" stroke-width="1.2" transform="translate(143.20,796.00) scale(3.210,4.360)"/></g><g filter="url(#sk7)"><use href="#u_AM3" fill="#d3d3d8" stroke="#d3d3d8" stroke-width="1.2" transform="translate(143.20,796.00) scale(3.210,4.360)"/></g><g filter="url(#sk7)"><use href="#u_AM2" fill="#d3d3d8" stroke="#d3d3d8" stroke-width="1.2" transform="translate(143.20,796.00) scale(3.210,4.360)"/></g><g filter="url(#sk7)"><use href="#u_AM1" fill="#d3d3d8" stroke="#d3d3d8" stroke-width="1.2" transform="translate(143.20,796.00) scale(3.210,4.360)"/></g>
<g opacity="0.6"><g filter="url(#sk1)"><use href="#u_ProAM" fill="#6d5ce6" stroke="#6d5ce6" stroke-width="1.2" transform="translate(143.20,796.00) scale(3.210,4.360)"/></g><g filter="url(#sk0)"><use href="#u_Mono" fill="#6d5ce6" stroke="#6d5ce6" stroke-width="1.2" transform="translate(143.20,796.00) scale(3.210,4.360)"/></g><g filter="url(#sk1)"><use href="#u_Mac1" fill="#6d5ce6" stroke="#6d5ce6" stroke-width="1.2" transform="translate(143.20,796.00) scale(3.210,4.360)"/></g><g filter="url(#sk4)"><use href="#u_IM1" fill="#6d5ce6" stroke="#6d5ce6" stroke-width="1.2" transform="translate(143.20,796.00) scale(3.210,4.360)"/></g><g filter="url(#sk4)"><use href="#u_IM2" fill="#6d5ce6" stroke="#6d5ce6" stroke-width="1.2" transform="translate(143.20,796.00) scale(3.210,4.360)"/></g><g filter="url(#sk5)"><use href="#u_Mac0" fill="#6d5ce6" stroke="#6d5ce6" stroke-width="1.2" transform="translate(143.20,796.00) scale(3.210,4.360)"/></g><g filter="url(#sk1)"><use href="#u_AM3" fill="#6d5ce6" stroke="#6d5ce6" stroke-width="1.2" transform="translate(143.20,796.00) scale(3.210,4.360)"/></g><g filter="url(#sk3)"><use href="#u_AM2" fill="#6d5ce6" stroke="#6d5ce6" stroke-width="1.2" transform="translate(143.20,796.00) scale(3.210,4.360)"/></g><g filter="url(#sk1)"><use href="#u_AM1" fill="#6d5ce6" stroke="#6d5ce6" stroke-width="1.2" transform="translate(143.20,796.00) scale(3.210,4.360)"/></g></g>
<text x="136.50" y="744.60" font-size="10.00" font-style="italic" fill="#000">Fn1</text>
<line x1="108.20" y1="750.30" x2="108.20" y2="825.00" stroke="#444" stroke-width="0.5"/>
<line x1="108.20" y1="825.00" x2="178.50" y2="825.00" stroke="#444" stroke-width="0.5"/>
<line x1="107.20" y1="752.40" x2="108.20" y2="752.40" stroke="#444" stroke-width="0.4"/>
<text x="106.80" y="753.40" font-size="2.90" text-anchor="end" fill="#555">10</text>
<line x1="107.20" y1="774.20" x2="108.20" y2="774.20" stroke="#444" stroke-width="0.4"/>
<text x="106.80" y="775.20" font-size="2.90" text-anchor="end" fill="#555">5</text>
<line x1="107.20" y1="796.00" x2="108.20" y2="796.00" stroke="#444" stroke-width="0.4"/>
<text x="106.80" y="797.00" font-size="2.90" text-anchor="end" fill="#555">0</text>
<line x1="107.20" y1="817.80" x2="108.20" y2="817.80" stroke="#444" stroke-width="0.4"/>
<text x="106.80" y="818.80" font-size="2.90" text-anchor="end" fill="#555">-5</text>
<line x1="111.10" y1="825.00" x2="111.10" y2="826.10" stroke="#444" stroke-width="0.4"/>
<text x="111.10" y="829.30" font-size="2.90" text-anchor="middle" fill="#555">-10</text>
<line x1="127.15" y1="825.00" x2="127.15" y2="826.10" stroke="#444" stroke-width="0.4"/>
<text x="127.15" y="829.30" font-size="2.90" text-anchor="middle" fill="#555">-5</text>
<line x1="143.20" y1="825.00" x2="143.20" y2="826.10" stroke="#444" stroke-width="0.4"/>
<text x="143.20" y="829.30" font-size="2.90" text-anchor="middle" fill="#555">0</text>
<line x1="159.25" y1="825.00" x2="159.25" y2="826.10" stroke="#444" stroke-width="0.4"/>
<text x="159.25" y="829.30" font-size="2.90" text-anchor="middle" fill="#555">5</text>
<line x1="175.30" y1="825.00" x2="175.30" y2="826.10" stroke="#444" stroke-width="0.4"/>
<text x="175.30" y="829.30" font-size="2.90" text-anchor="middle" fill="#555">10</text>
<text x="100.20" y="788.00" font-size="3.40" text-anchor="middle" fill="#333" transform="rotate(-90 100.20 788.00)">UMAP_2</text>
<text x="139.70" y="833.20" font-size="3.40" text-anchor="middle" fill="#333">UMAP_1</text>
<text x="123.90" y="761.50" font-size="5.35" fill="#222">Pro_AM</text>
<text x="160.50" y="770.00" font-size="5.35" fill="#222">Mono</text>
<text x="136.40" y="781.60" font-size="5.35" fill="#222">Mac1</text>
<text x="130.00" y="790.40" font-size="5.35" fill="#222">AM-2</text>
<text x="112.70" y="796.80" font-size="5.35" fill="#222">AM-1</text>
<text x="143.20" y="804.40" font-size="5.35" fill="#222">Mac0</text>
<text x="166.50" y="804.00" font-size="5.35" fill="#222">IM-1</text>
<text x="128.40" y="810.80" font-size="5.35" fill="#222">AM-3</text>
<text x="156.00" y="815.80" font-size="5.35" fill="#222">IM-2</text>
<rect x="182.50" y="776.80" width="4.30" height="20.80" fill="url(#bg)"/>
<text x="187.70" y="779.00" font-size="2.30" fill="#555">7.0</text>
<text x="187.70" y="783.30" font-size="2.30" fill="#555">5.5</text>
<text x="187.70" y="787.60" font-size="2.30" fill="#555">4.0</text>
<text x="187.70" y="791.90" font-size="2.30" fill="#555">2.5</text>
<text x="187.70" y="796.20" font-size="2.30" fill="#555">1.0</text>
<g filter="url(#sk7)"><use href="#u_ProAM" fill="#d3d3d8" stroke="#d3d3d8" stroke-width="1.2" transform="translate(239.60,796.00) scale(3.210,4.360)"/></g><g filter="url(#sk7)"><use href="#u_Mono" fill="#d3d3d8" stroke="#d3d3d8" stroke-width="1.2" transform="translate(239.60,796.00) scale(3.210,4.360)"/></g><g filter="url(#sk7)"><use href="#u_Mac1" fill="#d3d3d8" stroke="#d3d3d8" stroke-width="1.2" transform="translate(239.60,796.00) scale(3.210,4.360)"/></g><g filter="url(#sk7)"><use href="#u_IM1" fill="#d3d3d8" stroke="#d3d3d8" stroke-width="1.2" transform="translate(239.60,796.00) scale(3.210,4.360)"/></g><g filter="url(#sk7)"><use href="#u_IM2" fill="#d3d3d8" stroke="#d3d3d8" stroke-width="1.2" transform="translate(239.60,796.00) scale(3.210,4.360)"/></g><g filter="url(#sk7)"><use href="#u_Mac0" fill="#d3d3d8" stroke="#d3d3d8" stroke-width="1.2" transform="translate(239.60,796.00) scale(3.210,4.360)"/></g><g filter="url(#sk7)"><use href="#u_AM3" fill="#d3d3d8" stroke="#d3d3d8" stroke-width="1.2" transform="translate(239.60,796.00) scale(3.210,4.360)"/></g><g filter="url(#sk7)"><use href="#u_AM2" fill="#d3d3d8" stroke="#d3d3d8" stroke-width="1.2" transform="translate(239.60,796.00) scale(3.210,4.360)"/></g><g filter="url(#sk7)"><use href="#u_AM1" fill="#d3d3d8" stroke="#d3d3d8" stroke-width="1.2" transform="translate(239.60,796.00) scale(3.210,4.360)"/></g>
<g opacity="0.6"><g filter="url(#sk3)"><use href="#u_ProAM" fill="#6d5ce6" stroke="#6d5ce6" stroke-width="1.2" transform="translate(239.60,796.00) scale(3.210,4.360)"/></g><g filter="url(#sk0)"><use href="#u_Mono" fill="#6d5ce6" stroke="#6d5ce6" stroke-width="1.2" transform="translate(239.60,796.00) scale(3.210,4.360)"/></g><g filter="url(#sk1)"><use href="#u_Mac1" fill="#6d5ce6" stroke="#6d5ce6" stroke-width="1.2" transform="translate(239.60,796.00) scale(3.210,4.360)"/></g><g filter="url(#sk1)"><use href="#u_IM1" fill="#6d5ce6" stroke="#6d5ce6" stroke-width="1.2" transform="translate(239.60,796.00) scale(3.210,4.360)"/></g><g filter="url(#sk3)"><use href="#u_IM2" fill="#6d5ce6" stroke="#6d5ce6" stroke-width="1.2" transform="translate(239.60,796.00) scale(3.210,4.360)"/></g><g filter="url(#sk4)"><use href="#u_Mac0" fill="#6d5ce6" stroke="#6d5ce6" stroke-width="1.2" transform="translate(239.60,796.00) scale(3.210,4.360)"/></g><g filter="url(#sk5)"><use href="#u_AM3" fill="#6d5ce6" stroke="#6d5ce6" stroke-width="1.2" transform="translate(239.60,796.00) scale(3.210,4.360)"/></g><g filter="url(#sk4)"><use href="#u_AM2" fill="#6d5ce6" stroke="#6d5ce6" stroke-width="1.2" transform="translate(239.60,796.00) scale(3.210,4.360)"/></g><g filter="url(#sk4)"><use href="#u_AM1" fill="#6d5ce6" stroke="#6d5ce6" stroke-width="1.2" transform="translate(239.60,796.00) scale(3.210,4.360)"/></g></g>
<text x="235.80" y="744.60" font-size="10.00" font-style="italic" fill="#000">Lpl</text>
<line x1="204.60" y1="750.30" x2="204.60" y2="825.00" stroke="#444" stroke-width="0.5"/>
<line x1="204.60" y1="825.00" x2="274.90" y2="825.00" stroke="#444" stroke-width="0.5"/>
<line x1="203.60" y1="752.40" x2="204.60" y2="752.40" stroke="#444" stroke-width="0.4"/>
<text x="203.20" y="753.40" font-size="2.90" text-anchor="end" fill="#555">10</text>
<line x1="203.60" y1="774.20" x2="204.60" y2="774.20" stroke="#444" stroke-width="0.4"/>
<text x="203.20" y="775.20" font-size="2.90" text-anchor="end" fill="#555">5</text>
<line x1="203.60" y1="796.00" x2="204.60" y2="796.00" stroke="#444" stroke-width="0.4"/>
<text x="203.20" y="797.00" font-size="2.90" text-anchor="end" fill="#555">0</text>
<line x1="203.60" y1="817.80" x2="204.60" y2="817.80" stroke="#444" stroke-width="0.4"/>
<text x="203.20" y="818.80" font-size="2.90" text-anchor="end" fill="#555">-5</text>
<line x1="207.50" y1="825.00" x2="207.50" y2="826.10" stroke="#444" stroke-width="0.4"/>
<text x="207.50" y="829.30" font-size="2.90" text-anchor="middle" fill="#555">-10</text>
<line x1="223.55" y1="825.00" x2="223.55" y2="826.10" stroke="#444" stroke-width="0.4"/>
<text x="223.55" y="829.30" font-size="2.90" text-anchor="middle" fill="#555">-5</text>
<line x1="239.60" y1="825.00" x2="239.60" y2="826.10" stroke="#444" stroke-width="0.4"/>
<text x="239.60" y="829.30" font-size="2.90" text-anchor="middle" fill="#555">0</text>
<line x1="255.65" y1="825.00" x2="255.65" y2="826.10" stroke="#444" stroke-width="0.4"/>
<text x="255.65" y="829.30" font-size="2.90" text-anchor="middle" fill="#555">5</text>
<line x1="271.70" y1="825.00" x2="271.70" y2="826.10" stroke="#444" stroke-width="0.4"/>
<text x="271.70" y="829.30" font-size="2.90" text-anchor="middle" fill="#555">10</text>
<text x="196.60" y="788.00" font-size="3.40" text-anchor="middle" fill="#333" transform="rotate(-90 196.60 788.00)">UMAP_2</text>
<text x="236.10" y="833.20" font-size="3.40" text-anchor="middle" fill="#333">UMAP_1</text>
<text x="220.30" y="761.50" font-size="5.35" fill="#222">Pro_AM</text>
<text x="256.90" y="770.00" font-size="5.35" fill="#222">Mono</text>
<text x="232.80" y="781.60" font-size="5.35" fill="#222">Mac1</text>
<text x="226.40" y="790.40" font-size="5.35" fill="#222">AM-2</text>
<text x="209.10" y="796.80" font-size="5.35" fill="#222">AM-1</text>
<text x="239.60" y="804.40" font-size="5.35" fill="#222">Mac0</text>
<text x="262.90" y="804.00" font-size="5.35" fill="#222">IM-1</text>
<text x="224.80" y="810.80" font-size="5.35" fill="#222">AM-3</text>
<text x="252.40" y="815.80" font-size="5.35" fill="#222">IM-2</text>
<rect x="278.90" y="776.80" width="4.30" height="20.80" fill="url(#bg)"/>
<text x="284.10" y="779.00" font-size="2.30" fill="#555">7.0</text>
<text x="284.10" y="783.30" font-size="2.30" fill="#555">5.5</text>
<text x="284.10" y="787.60" font-size="2.30" fill="#555">4.0</text>
<text x="284.10" y="791.90" font-size="2.30" fill="#555">2.5</text>
<text x="284.10" y="796.20" font-size="2.30" fill="#555">1.0</text>
<text x="310.50" y="744.90" font-size="12.20" font-weight="bold" fill="#000">i</text>
<g opacity="0.8"><g filter="url(#sk2)"><use href="#u_ProAM" fill="#c6c1dc" stroke="#c6c1dc" stroke-width="0.8" transform="translate(352.60,794.10) scale(2.650,4.450)"/></g><g filter="url(#sk0)"><use href="#u_Mono" fill="#c6c1dc" stroke="#c6c1dc" stroke-width="0.8" transform="translate(352.60,794.10) scale(2.650,4.450)"/></g><g filter="url(#sk1)"><use href="#u_Mac1" fill="#c6c1dc" stroke="#c6c1dc" stroke-width="0.8" transform="translate(352.60,794.10) scale(2.650,4.450)"/></g><g filter="url(#sk0)"><use href="#u_IM1" fill="#c6c1dc" stroke="#c6c1dc" stroke-width="0.8" transform="translate(352.60,794.10) scale(2.650,4.450)"/></g><g filter="url(#sk0)"><use href="#u_IM2" fill="#c6c1dc" stroke="#c6c1dc" stroke-width="0.8" transform="translate(352.60,794.10) scale(2.650,4.450)"/></g><g filter="url(#sk0)"><use href="#u_Mac0" fill="#c6c1dc" stroke="#c6c1dc" stroke-width="0.8" transform="translate(352.60,794.10) scale(2.650,4.450)"/></g><g filter="url(#sk6)"><use href="#u_AM3" fill="#c6c1dc" stroke="#c6c1dc" stroke-width="0.8" transform="translate(352.60,794.10) scale(2.650,4.450)"/></g><g filter="url(#sk6)"><use href="#u_AM2" fill="#c6c1dc" stroke="#c6c1dc" stroke-width="0.8" transform="translate(352.60,794.10) scale(2.650,4.450)"/></g><g filter="url(#sk6)"><use href="#u_AM1" fill="#c6c1dc" stroke="#c6c1dc" stroke-width="0.8" transform="translate(352.60,794.10) scale(2.650,4.450)"/></g></g>
<g opacity="0.6"><g filter="url(#sk4)"><use href="#u_Mono" fill="#6d5ce6" stroke="#6d5ce6" stroke-width="0.8" transform="translate(352.60,794.10) scale(2.650,4.450)"/></g><g filter="url(#sk1)"><use href="#u_AM3" fill="#6d5ce6" stroke="#6d5ce6" stroke-width="0.8" transform="translate(352.60,794.10) scale(2.650,4.450)"/></g></g>
<text x="339.40" y="744.90" font-size="10.15" fill="#000">Sham</text>
<line x1="323.40" y1="748.10" x2="323.40" y2="824.60" stroke="#444" stroke-width="0.5"/>
<line x1="323.40" y1="824.60" x2="382.80" y2="824.60" stroke="#444" stroke-width="0.5"/>
<line x1="322.40" y1="749.60" x2="323.40" y2="749.60" stroke="#444" stroke-width="0.4"/>
<text x="322.00" y="750.60" font-size="2.90" text-anchor="end" fill="#555">10</text>
<line x1="322.40" y1="771.85" x2="323.40" y2="771.85" stroke="#444" stroke-width="0.4"/>
<text x="322.00" y="772.85" font-size="2.90" text-anchor="end" fill="#555">5</text>
<line x1="322.40" y1="794.10" x2="323.40" y2="794.10" stroke="#444" stroke-width="0.4"/>
<text x="322.00" y="795.10" font-size="2.90" text-anchor="end" fill="#555">0</text>
<line x1="322.40" y1="816.35" x2="323.40" y2="816.35" stroke="#444" stroke-width="0.4"/>
<text x="322.00" y="817.35" font-size="2.90" text-anchor="end" fill="#555">-5</text>
<line x1="326.10" y1="824.60" x2="326.10" y2="825.70" stroke="#444" stroke-width="0.4"/>
<text x="326.10" y="829.00" font-size="2.90" text-anchor="middle" fill="#555">-10</text>
<line x1="339.35" y1="824.60" x2="339.35" y2="825.70" stroke="#444" stroke-width="0.4"/>
<text x="339.35" y="829.00" font-size="2.90" text-anchor="middle" fill="#555">-5</text>
<line x1="352.60" y1="824.60" x2="352.60" y2="825.70" stroke="#444" stroke-width="0.4"/>
<text x="352.60" y="829.00" font-size="2.90" text-anchor="middle" fill="#555">0</text>
<line x1="365.85" y1="824.60" x2="365.85" y2="825.70" stroke="#444" stroke-width="0.4"/>
<text x="365.85" y="829.00" font-size="2.90" text-anchor="middle" fill="#555">5</text>
<line x1="379.10" y1="824.60" x2="379.10" y2="825.70" stroke="#444" stroke-width="0.4"/>
<text x="379.10" y="829.00" font-size="2.90" text-anchor="middle" fill="#555">10</text>
<g opacity="0.8"><g filter="url(#sk0)"><use href="#u_ProAM" fill="#c6c1dc" stroke="#c6c1dc" stroke-width="0.8" transform="translate(418.80,794.10) scale(2.650,4.450)"/></g><g filter="url(#sk0)"><use href="#u_Mac1" fill="#c6c1dc" stroke="#c6c1dc" stroke-width="0.8" transform="translate(418.80,794.10) scale(2.650,4.450)"/></g><g filter="url(#sk0)"><use href="#u_Mac0" fill="#c6c1dc" stroke="#c6c1dc" stroke-width="0.8" transform="translate(418.80,794.10) scale(2.650,4.450)"/></g><g filter="url(#sk1)"><use href="#u_AM3" fill="#c6c1dc" stroke="#c6c1dc" stroke-width="0.8" transform="translate(418.80,794.10) scale(2.650,4.450)"/></g><g filter="url(#sk2)"><use href="#u_AM2" fill="#c6c1dc" stroke="#c6c1dc" stroke-width="0.8" transform="translate(418.80,794.10) scale(2.650,4.450)"/></g><g filter="url(#sk2)"><use href="#u_AM1" fill="#c6c1dc" stroke="#c6c1dc" stroke-width="0.8" transform="translate(418.80,794.10) scale(2.650,4.450)"/></g></g>
<g opacity="0.6"><g filter="url(#sk6)"><use href="#u_Mono" fill="#6d5ce6" stroke="#6d5ce6" stroke-width="0.8" transform="translate(418.80,794.10) scale(2.650,4.450)"/></g><g filter="url(#sk5)"><use href="#u_IM1" fill="#6d5ce6" stroke="#6d5ce6" stroke-width="0.8" transform="translate(418.80,794.10) scale(2.650,4.450)"/></g><g filter="url(#sk5)"><use href="#u_IM2" fill="#6d5ce6" stroke="#6d5ce6" stroke-width="0.8" transform="translate(418.80,794.10) scale(2.650,4.450)"/></g><g filter="url(#sk0)"><use href="#u_Mac0" fill="#6d5ce6" stroke="#6d5ce6" stroke-width="0.8" transform="translate(418.80,794.10) scale(2.650,4.450)"/></g></g>
<text x="400.30" y="744.90" font-size="10.15" fill="#000">Bleo+3d</text>
<line x1="389.60" y1="748.10" x2="389.60" y2="824.60" stroke="#444" stroke-width="0.5"/>
<line x1="389.60" y1="824.60" x2="449.00" y2="824.60" stroke="#444" stroke-width="0.5"/>
<line x1="388.60" y1="749.60" x2="389.60" y2="749.60" stroke="#444" stroke-width="0.4"/>
<text x="388.20" y="750.60" font-size="2.90" text-anchor="end" fill="#555">10</text>
<line x1="388.60" y1="771.85" x2="389.60" y2="771.85" stroke="#444" stroke-width="0.4"/>
<text x="388.20" y="772.85" font-size="2.90" text-anchor="end" fill="#555">5</text>
<line x1="388.60" y1="794.10" x2="389.60" y2="794.10" stroke="#444" stroke-width="0.4"/>
<text x="388.20" y="795.10" font-size="2.90" text-anchor="end" fill="#555">0</text>
<line x1="388.60" y1="816.35" x2="389.60" y2="816.35" stroke="#444" stroke-width="0.4"/>
<text x="388.20" y="817.35" font-size="2.90" text-anchor="end" fill="#555">-5</text>
<line x1="392.30" y1="824.60" x2="392.30" y2="825.70" stroke="#444" stroke-width="0.4"/>
<text x="392.30" y="829.00" font-size="2.90" text-anchor="middle" fill="#555">-10</text>
<line x1="405.55" y1="824.60" x2="405.55" y2="825.70" stroke="#444" stroke-width="0.4"/>
<text x="405.55" y="829.00" font-size="2.90" text-anchor="middle" fill="#555">-5</text>
<line x1="418.80" y1="824.60" x2="418.80" y2="825.70" stroke="#444" stroke-width="0.4"/>
<text x="418.80" y="829.00" font-size="2.90" text-anchor="middle" fill="#555">0</text>
<line x1="432.05" y1="824.60" x2="432.05" y2="825.70" stroke="#444" stroke-width="0.4"/>
<text x="432.05" y="829.00" font-size="2.90" text-anchor="middle" fill="#555">5</text>
<line x1="445.30" y1="824.60" x2="445.30" y2="825.70" stroke="#444" stroke-width="0.4"/>
<text x="445.30" y="829.00" font-size="2.90" text-anchor="middle" fill="#555">10</text>
<g opacity="0.8"><g filter="url(#sk1)"><use href="#u_ProAM" fill="#c6c1dc" stroke="#c6c1dc" stroke-width="0.8" transform="translate(485.00,794.10) scale(2.650,4.450)"/></g><g filter="url(#sk0)"><use href="#u_Mono" fill="#c6c1dc" stroke="#c6c1dc" stroke-width="0.8" transform="translate(485.00,794.10) scale(2.650,4.450)"/></g><g filter="url(#sk0)"><use href="#u_Mac1" fill="#c6c1dc" stroke="#c6c1dc" stroke-width="0.8" transform="translate(485.00,794.10) scale(2.650,4.450)"/></g><g filter="url(#sk1)"><use href="#u_IM1" fill="#c6c1dc" stroke="#c6c1dc" stroke-width="0.8" transform="translate(485.00,794.10) scale(2.650,4.450)"/></g><g filter="url(#sk1)"><use href="#u_Mac0" fill="#c6c1dc" stroke="#c6c1dc" stroke-width="0.8" transform="translate(485.00,794.10) scale(2.650,4.450)"/></g><g filter="url(#sk3)"><use href="#u_AM3" fill="#c6c1dc" stroke="#c6c1dc" stroke-width="0.8" transform="translate(485.00,794.10) scale(2.650,4.450)"/></g><g filter="url(#sk3)"><use href="#u_AM2" fill="#c6c1dc" stroke="#c6c1dc" stroke-width="0.8" transform="translate(485.00,794.10) scale(2.650,4.450)"/></g><g filter="url(#sk4)"><use href="#u_AM1" fill="#c6c1dc" stroke="#c6c1dc" stroke-width="0.8" transform="translate(485.00,794.10) scale(2.650,4.450)"/></g></g>
<g opacity="0.6"><g filter="url(#sk1)"><use href="#u_Mono" fill="#6d5ce6" stroke="#6d5ce6" stroke-width="0.8" transform="translate(485.00,794.10) scale(2.650,4.450)"/></g><g filter="url(#sk3)"><use href="#u_IM1" fill="#6d5ce6" stroke="#6d5ce6" stroke-width="0.8" transform="translate(485.00,794.10) scale(2.650,4.450)"/></g><g filter="url(#sk4)"><use href="#u_IM2" fill="#6d5ce6" stroke="#6d5ce6" stroke-width="0.8" transform="translate(485.00,794.10) scale(2.650,4.450)"/></g><g filter="url(#sk1)"><use href="#u_Mac0" fill="#6d5ce6" stroke="#6d5ce6" stroke-width="0.8" transform="translate(485.00,794.10) scale(2.650,4.450)"/></g><g filter="url(#sk0)"><use href="#u_AM3" fill="#6d5ce6" stroke="#6d5ce6" stroke-width="0.8" transform="translate(485.00,794.10) scale(2.650,4.450)"/></g></g>
<text x="465.80" y="744.90" font-size="10.15" fill="#000">Bleo+7d</text>
<line x1="455.80" y1="748.10" x2="455.80" y2="824.60" stroke="#444" stroke-width="0.5"/>
<line x1="455.80" y1="824.60" x2="515.20" y2="824.60" stroke="#444" stroke-width="0.5"/>
<line x1="454.80" y1="749.60" x2="455.80" y2="749.60" stroke="#444" stroke-width="0.4"/>
<text x="454.40" y="750.60" font-size="2.90" text-anchor="end" fill="#555">10</text>
<line x1="454.80" y1="771.85" x2="455.80" y2="771.85" stroke="#444" stroke-width="0.4"/>
<text x="454.40" y="772.85" font-size="2.90" text-anchor="end" fill="#555">5</text>
<line x1="454.80" y1="794.10" x2="455.80" y2="794.10" stroke="#444" stroke-width="0.4"/>
<text x="454.40" y="795.10" font-size="2.90" text-anchor="end" fill="#555">0</text>
<line x1="454.80" y1="816.35" x2="455.80" y2="816.35" stroke="#444" stroke-width="0.4"/>
<text x="454.40" y="817.35" font-size="2.90" text-anchor="end" fill="#555">-5</text>
<line x1="458.50" y1="824.60" x2="458.50" y2="825.70" stroke="#444" stroke-width="0.4"/>
<text x="458.50" y="829.00" font-size="2.90" text-anchor="middle" fill="#555">-10</text>
<line x1="471.75" y1="824.60" x2="471.75" y2="825.70" stroke="#444" stroke-width="0.4"/>
<text x="471.75" y="829.00" font-size="2.90" text-anchor="middle" fill="#555">-5</text>
<line x1="485.00" y1="824.60" x2="485.00" y2="825.70" stroke="#444" stroke-width="0.4"/>
<text x="485.00" y="829.00" font-size="2.90" text-anchor="middle" fill="#555">0</text>
<line x1="498.25" y1="824.60" x2="498.25" y2="825.70" stroke="#444" stroke-width="0.4"/>
<text x="498.25" y="829.00" font-size="2.90" text-anchor="middle" fill="#555">5</text>
<line x1="511.50" y1="824.60" x2="511.50" y2="825.70" stroke="#444" stroke-width="0.4"/>
<text x="511.50" y="829.00" font-size="2.90" text-anchor="middle" fill="#555">10</text>
<g opacity="0.8"><g filter="url(#sk1)"><use href="#u_ProAM" fill="#c6c1dc" stroke="#c6c1dc" stroke-width="0.8" transform="translate(551.20,794.10) scale(2.650,4.450)"/></g><g filter="url(#sk0)"><use href="#u_Mono" fill="#c6c1dc" stroke="#c6c1dc" stroke-width="0.8" transform="translate(551.20,794.10) scale(2.650,4.450)"/></g><g filter="url(#sk0)"><use href="#u_Mac1" fill="#c6c1dc" stroke="#c6c1dc" stroke-width="0.8" transform="translate(551.20,794.10) scale(2.650,4.450)"/></g><g filter="url(#sk1)"><use href="#u_IM1" fill="#c6c1dc" stroke="#c6c1dc" stroke-width="0.8" transform="translate(551.20,794.10) scale(2.650,4.450)"/></g><g filter="url(#sk1)"><use href="#u_IM2" fill="#c6c1dc" stroke="#c6c1dc" stroke-width="0.8" transform="translate(551.20,794.10) scale(2.650,4.450)"/></g><g filter="url(#sk1)"><use href="#u_Mac0" fill="#c6c1dc" stroke="#c6c1dc" stroke-width="0.8" transform="translate(551.20,794.10) scale(2.650,4.450)"/></g><g filter="url(#sk2)"><use href="#u_AM3" fill="#c6c1dc" stroke="#c6c1dc" stroke-width="0.8" transform="translate(551.20,794.10) scale(2.650,4.450)"/></g><g filter="url(#sk3)"><use href="#u_AM2" fill="#c6c1dc" stroke="#c6c1dc" stroke-width="0.8" transform="translate(551.20,794.10) scale(2.650,4.450)"/></g><g filter="url(#sk3)"><use href="#u_AM1" fill="#c6c1dc" stroke="#c6c1dc" stroke-width="0.8" transform="translate(551.20,794.10) scale(2.650,4.450)"/></g></g>
<g opacity="0.6"><g filter="url(#sk0)"><use href="#u_ProAM" fill="#6d5ce6" stroke="#6d5ce6" stroke-width="0.8" transform="translate(551.20,794.10) scale(2.650,4.450)"/></g><g filter="url(#sk2)"><use href="#u_IM1" fill="#6d5ce6" stroke="#6d5ce6" stroke-width="0.8" transform="translate(551.20,794.10) scale(2.650,4.450)"/></g><g filter="url(#sk3)"><use href="#u_IM2" fill="#6d5ce6" stroke="#6d5ce6" stroke-width="0.8" transform="translate(551.20,794.10) scale(2.650,4.450)"/></g><g filter="url(#sk3)"><use href="#u_Mac0" fill="#6d5ce6" stroke="#6d5ce6" stroke-width="0.8" transform="translate(551.20,794.10) scale(2.650,4.450)"/></g><g filter="url(#sk1)"><use href="#u_AM2" fill="#6d5ce6" stroke="#6d5ce6" stroke-width="0.8" transform="translate(551.20,794.10) scale(2.650,4.450)"/></g><g filter="url(#sk0)"><use href="#u_AM1" fill="#6d5ce6" stroke="#6d5ce6" stroke-width="0.8" transform="translate(551.20,794.10) scale(2.650,4.450)"/></g></g>
<text x="532.30" y="744.90" font-size="10.15" fill="#000">Bleo+2w</text>
<line x1="522.00" y1="748.10" x2="522.00" y2="824.60" stroke="#444" stroke-width="0.5"/>
<line x1="522.00" y1="824.60" x2="581.40" y2="824.60" stroke="#444" stroke-width="0.5"/>
<line x1="521.00" y1="749.60" x2="522.00" y2="749.60" stroke="#444" stroke-width="0.4"/>
<text x="520.60" y="750.60" font-size="2.90" text-anchor="end" fill="#555">10</text>
<line x1="521.00" y1="771.85" x2="522.00" y2="771.85" stroke="#444" stroke-width="0.4"/>
<text x="520.60" y="772.85" font-size="2.90" text-anchor="end" fill="#555">5</text>
<line x1="521.00" y1="794.10" x2="522.00" y2="794.10" stroke="#444" stroke-width="0.4"/>
<text x="520.60" y="795.10" font-size="2.90" text-anchor="end" fill="#555">0</text>
<line x1="521.00" y1="816.35" x2="522.00" y2="816.35" stroke="#444" stroke-width="0.4"/>
<text x="520.60" y="817.35" font-size="2.90" text-anchor="end" fill="#555">-5</text>
<line x1="524.70" y1="824.60" x2="524.70" y2="825.70" stroke="#444" stroke-width="0.4"/>
<text x="524.70" y="829.00" font-size="2.90" text-anchor="middle" fill="#555">-10</text>
<line x1="537.95" y1="824.60" x2="537.95" y2="825.70" stroke="#444" stroke-width="0.4"/>
<text x="537.95" y="829.00" font-size="2.90" text-anchor="middle" fill="#555">-5</text>
<line x1="551.20" y1="824.60" x2="551.20" y2="825.70" stroke="#444" stroke-width="0.4"/>
<text x="551.20" y="829.00" font-size="2.90" text-anchor="middle" fill="#555">0</text>
<line x1="564.45" y1="824.60" x2="564.45" y2="825.70" stroke="#444" stroke-width="0.4"/>
<text x="564.45" y="829.00" font-size="2.90" text-anchor="middle" fill="#555">5</text>
<line x1="577.70" y1="824.60" x2="577.70" y2="825.70" stroke="#444" stroke-width="0.4"/>
<text x="577.70" y="829.00" font-size="2.90" text-anchor="middle" fill="#555">10</text>
<g opacity="0.8"><g filter="url(#sk1)"><use href="#u_ProAM" fill="#c6c1dc" stroke="#c6c1dc" stroke-width="0.8" transform="translate(617.40,794.10) scale(2.650,4.450)"/></g><g filter="url(#sk0)"><use href="#u_Mono" fill="#c6c1dc" stroke="#c6c1dc" stroke-width="0.8" transform="translate(617.40,794.10) scale(2.650,4.450)"/></g><g filter="url(#sk0)"><use href="#u_Mac1" fill="#c6c1dc" stroke="#c6c1dc" stroke-width="0.8" transform="translate(617.40,794.10) scale(2.650,4.450)"/></g><g filter="url(#sk2)"><use href="#u_IM1" fill="#c6c1dc" stroke="#c6c1dc" stroke-width="0.8" transform="translate(617.40,794.10) scale(2.650,4.450)"/></g><g filter="url(#sk1)"><use href="#u_IM2" fill="#c6c1dc" stroke="#c6c1dc" stroke-width="0.8" transform="translate(617.40,794.10) scale(2.650,4.450)"/></g><g filter="url(#sk1)"><use href="#u_Mac0" fill="#c6c1dc" stroke="#c6c1dc" stroke-width="0.8" transform="translate(617.40,794.10) scale(2.650,4.450)"/></g><g filter="url(#sk3)"><use href="#u_AM3" fill="#c6c1dc" stroke="#c6c1dc" stroke-width="0.8" transform="translate(617.40,794.10) scale(2.650,4.450)"/></g><g filter="url(#sk3)"><use href="#u_AM2" fill="#c6c1dc" stroke="#c6c1dc" stroke-width="0.8" transform="translate(617.40,794.10) scale(2.650,4.450)"/></g><g filter="url(#sk4)"><use href="#u_AM1" fill="#c6c1dc" stroke="#c6c1dc" stroke-width="0.8" transform="translate(617.40,794.10) scale(2.650,4.450)"/></g></g>
<g opacity="0.6"><g filter="url(#sk0)"><use href="#u_ProAM" fill="#6d5ce6" stroke="#6d5ce6" stroke-width="0.8" transform="translate(617.40,794.10) scale(2.650,4.450)"/></g><g filter="url(#sk1)"><use href="#u_IM1" fill="#6d5ce6" stroke="#6d5ce6" stroke-width="0.8" transform="translate(617.40,794.10) scale(2.650,4.450)"/></g><g filter="url(#sk2)"><use href="#u_IM2" fill="#6d5ce6" stroke="#6d5ce6" stroke-width="0.8" transform="translate(617.40,794.10) scale(2.650,4.450)"/></g><g filter="url(#sk3)"><use href="#u_Mac0" fill="#6d5ce6" stroke="#6d5ce6" stroke-width="0.8" transform="translate(617.40,794.10) scale(2.650,4.450)"/></g><g filter="url(#sk1)"><use href="#u_AM3" fill="#6d5ce6" stroke="#6d5ce6" stroke-width="0.8" transform="translate(617.40,794.10) scale(2.650,4.450)"/></g><g filter="url(#sk1)"><use href="#u_AM2" fill="#6d5ce6" stroke="#6d5ce6" stroke-width="0.8" transform="translate(617.40,794.10) scale(2.650,4.450)"/></g></g>
<text x="598.00" y="744.90" font-size="10.15" fill="#000">Bleo+4w</text>
<line x1="588.20" y1="748.10" x2="588.20" y2="824.60" stroke="#444" stroke-width="0.5"/>
<line x1="588.20" y1="824.60" x2="647.60" y2="824.60" stroke="#444" stroke-width="0.5"/>
<line x1="587.20" y1="749.60" x2="588.20" y2="749.60" stroke="#444" stroke-width="0.4"/>
<text x="586.80" y="750.60" font-size="2.90" text-anchor="end" fill="#555">10</text>
<line x1="587.20" y1="771.85" x2="588.20" y2="771.85" stroke="#444" stroke-width="0.4"/>
<text x="586.80" y="772.85" font-size="2.90" text-anchor="end" fill="#555">5</text>
<line x1="587.20" y1="794.10" x2="588.20" y2="794.10" stroke="#444" stroke-width="0.4"/>
<text x="586.80" y="795.10" font-size="2.90" text-anchor="end" fill="#555">0</text>
<line x1="587.20" y1="816.35" x2="588.20" y2="816.35" stroke="#444" stroke-width="0.4"/>
<text x="586.80" y="817.35" font-size="2.90" text-anchor="end" fill="#555">-5</text>
<line x1="590.90" y1="824.60" x2="590.90" y2="825.70" stroke="#444" stroke-width="0.4"/>
<text x="590.90" y="829.00" font-size="2.90" text-anchor="middle" fill="#555">-10</text>
<line x1="604.15" y1="824.60" x2="604.15" y2="825.70" stroke="#444" stroke-width="0.4"/>
<text x="604.15" y="829.00" font-size="2.90" text-anchor="middle" fill="#555">-5</text>
<line x1="617.40" y1="824.60" x2="617.40" y2="825.70" stroke="#444" stroke-width="0.4"/>
<text x="617.40" y="829.00" font-size="2.90" text-anchor="middle" fill="#555">0</text>
<line x1="630.65" y1="824.60" x2="630.65" y2="825.70" stroke="#444" stroke-width="0.4"/>
<text x="630.65" y="829.00" font-size="2.90" text-anchor="middle" fill="#555">5</text>
<line x1="643.90" y1="824.60" x2="643.90" y2="825.70" stroke="#444" stroke-width="0.4"/>
<text x="643.90" y="829.00" font-size="2.90" text-anchor="middle" fill="#555">10</text>
<text x="331.70" y="761.70" font-size="5.50" fill="#222">Pro_AM</text>
<text x="365.70" y="770.00" font-size="5.50" fill="#222">Mono</text>
<text x="348.60" y="777.90" font-size="5.50" fill="#222">Mac1</text>
<text x="341.20" y="788.20" font-size="5.50" fill="#222">AM-2</text>
<text x="323.00" y="795.70" font-size="5.50" fill="#222">AM-1</text>
<text x="350.80" y="803.30" font-size="5.50" fill="#222">Mac0</text>
<text x="372.30" y="803.30" font-size="5.50" fill="#222">IM-1</text>
<text x="336.10" y="811.60" font-size="5.50" fill="#222">AM-3</text>
<text x="363.90" y="814.30" font-size="5.50" fill="#222">IM-2</text>
<rect x="665.30" y="766.50" width="3.60" height="20.40" fill="url(#bg)"/>
<text x="670.00" y="768.50" font-size="2.30" fill="#555">4</text>
<text x="670.00" y="772.80" font-size="2.30" fill="#555">3</text>
<text x="670.00" y="777.10" font-size="2.30" fill="#555">2</text>
<text x="670.00" y="781.40" font-size="2.30" fill="#555">1</text>
<text x="670.00" y="785.70" font-size="2.30" fill="#555">0</text>
<line x1="661.70" y1="801.60" x2="661.70" y2="824.40" stroke="#000" stroke-width="0.6"/>
<path d="M660.5,802.6 L662.9,802.6 L661.7,800 Z" fill="#000" stroke="none" stroke-width="0.8"/>
<line x1="661.70" y1="824.40" x2="683.50" y2="824.40" stroke="#000" stroke-width="0.6"/>
<path d="M682.5,823.2 L682.5,825.6 L685,824.4 Z" fill="#000" stroke="none" stroke-width="0.8"/>
<text x="668.60" y="818.00" font-size="6.60" fill="#000">tdT</text>
<text x="679.60" y="814.50" font-size="4.40" fill="#000">+</text>
<text x="659.20" y="813.00" font-size="3.20" text-anchor="middle" fill="#333" transform="rotate(-90 659.20 813.00)">UMAP_2</text>
<text x="672.00" y="829.50" font-size="3.20" text-anchor="middle" fill="#333">UMAP_1</text>
<text x="0.00" y="871.00" font-size="12.20" font-weight="bold" fill="#000">j</text>
<text x="30.70" y="871.40" font-size="10.10" fill="#000">Bleo+3d</text>
<path d="M26.7,899.8 C26.7,893.5 23.200000000000003,892.0 19.700000000000003,892.2 C15.200000000000001,892.5 12.8,895.5 13.3,899.5 C13.8,903.5 14.3,907.5 17.4,913.8" fill="none" stroke="#e27a7a" stroke-width="1.0" stroke-dasharray="0.8 1.2" stroke-opacity="0.8"/>
<path d="M46.925,881.200 C46.925,881.673 47.244,882.407 46.819,882.619 C46.394,882.832 45.062,882.485 44.375,882.475 C43.687,882.464 43.358,882.637 42.696,882.555 C42.033,882.474 40.699,882.325 40.400,881.986 C40.101,881.648 40.497,880.857 40.903,880.524 C41.309,880.191 42.239,880.145 42.834,879.989 C43.430,879.833 43.809,879.623 44.474,879.589 C45.138,879.554 46.413,879.511 46.822,879.779 C47.230,880.048 46.926,880.727 46.925,881.200Z" fill="#8c564b" stroke="none" stroke-width="0.8" opacity="0.9"/>
<path d="M52.089,881.600 C52.130,882.003 52.148,882.630 51.782,882.876 C51.415,883.122 50.496,883.027 49.890,883.075 C49.284,883.124 48.559,883.326 48.145,883.164 C47.731,883.003 47.510,882.450 47.404,882.109 C47.298,881.767 47.376,881.453 47.508,881.117 C47.640,880.781 47.796,880.265 48.195,880.093 C48.593,879.920 49.344,880.021 49.901,880.082 C50.459,880.143 51.173,880.207 51.538,880.460 C51.902,880.713 52.049,881.197 52.089,881.600Z" fill="#9c665b" stroke="none" stroke-width="0.8" opacity="0.85"/>
<path d="M65.896,935.300 C65.888,935.506 65.358,935.727 64.959,935.908 C64.560,936.088 63.982,936.384 63.500,936.382 C63.018,936.381 62.459,936.078 62.065,935.898 C61.672,935.717 61.262,935.551 61.139,935.300 C61.015,935.049 60.930,934.519 61.324,934.393 C61.718,934.268 62.885,934.503 63.500,934.549 C64.115,934.595 64.612,934.545 65.011,934.670 C65.411,934.796 65.905,935.094 65.896,935.300Z" fill="#b564b0" stroke="none" stroke-width="0.8"/>
<circle cx="44.28" cy="909.53" r="0.45" fill="#8fd07f"/>
<circle cx="46.66" cy="910.25" r="0.45" fill="#8fd07f"/>
<circle cx="51.26" cy="903.79" r="0.45" fill="#8fd07f"/>
<circle cx="40.24" cy="913.05" r="0.45" fill="#8fd07f"/>
<circle cx="44.67" cy="905.81" r="0.45" fill="#8fd07f"/>
<circle cx="57.92" cy="908.64" r="0.45" fill="#8fd07f"/>
<circle cx="55.06" cy="908.72" r="0.45" fill="#8fd07f"/>
<circle cx="51.50" cy="904.81" r="0.45" fill="#8fd07f"/>
<circle cx="51.43" cy="913.42" r="0.45" fill="#8fd07f"/>
<circle cx="49.42" cy="911.90" r="0.45" fill="#8fd07f"/>
<path d="M57.800,896.400 C58.283,894.783 59.383,893.450 60.400,892.000 C61.417,890.550 62.283,888.517 63.900,887.700 C65.517,886.883 68.483,886.667 70.100,887.100 C71.717,887.533 72.283,889.483 73.600,890.300 C74.917,891.117 76.833,890.833 78.000,892.000 C79.167,893.167 79.583,895.533 80.600,897.300 C81.617,899.067 83.083,901.133 84.100,902.600 C85.117,904.067 85.883,905.033 86.700,906.100 C87.517,907.167 88.783,908.100 89.000,909.000 C89.217,909.900 88.833,911.083 88.000,911.500 C87.167,911.917 85.383,910.950 84.000,911.500 C82.617,912.050 81.150,914.017 79.700,914.800 C78.250,915.583 76.900,916.050 75.300,916.200 C73.700,916.350 71.700,916.217 70.100,915.700 C68.500,915.183 66.867,914.117 65.700,913.100 C64.533,912.083 64.117,910.767 63.100,909.600 C62.083,908.433 60.533,907.417 59.600,906.100 C58.667,904.783 57.800,903.317 57.500,901.700 C57.200,900.083 57.317,898.017 57.800,896.400Z" fill="#3a7fc2" stroke="none" stroke-width="0.8" stroke="#3a7fc2" stroke-width="0.8"/>
<g filter="url(#sk1)"><path d="M57.800,896.400 C58.283,894.783 59.383,893.450 60.400,892.000 C61.417,890.550 62.283,888.517 63.900,887.700 C65.517,886.883 68.483,886.667 70.100,887.100 C71.717,887.533 72.283,889.483 73.600,890.300 C74.917,891.117 76.833,890.833 78.000,892.000 C79.167,893.167 79.583,895.533 80.600,897.300 C81.617,899.067 83.083,901.133 84.100,902.600 C85.117,904.067 85.883,905.033 86.700,906.100 C87.517,907.167 88.783,908.100 89.000,909.000 C89.217,909.900 88.833,911.083 88.000,911.500 C87.167,911.917 85.383,910.950 84.000,911.500 C82.617,912.050 81.150,914.017 79.700,914.800 C78.250,915.583 76.900,916.050 75.300,916.200 C73.700,916.350 71.700,916.217 70.100,915.700 C68.500,915.183 66.867,914.117 65.700,913.100 C64.533,912.083 64.117,910.767 63.100,909.600 C62.083,908.433 60.533,907.417 59.600,906.100 C58.667,904.783 57.800,903.317 57.500,901.700 C57.200,900.083 57.317,898.017 57.800,896.400Z" fill="#ffffff" opacity="0.6"/></g>
<path d="M70.9,891.7l1.5,-0.1M76.9,904.1l-0.5,-2.1M68.6,898.8l1.7,0.8M65.7,909.1l-1.3,0.5M70.6,908.8l2.2,2.0M64.4,909.6l0.7,-2.3M79.1,908.9l0.6,-1.8M68.0,891.3l1.8,-2.9M82.4,905.8l-0.3,-2.0M79.6,902.7l1.1,-1.1M83.2,897.6l1.3,0.9M76.7,893.9l1.1,-1.4M74.0,899.5l2.2,2.3M71.1,908.0l0.7,1.8M82.7,902.0l2.6,-0.6M72.5,912.5l2.3,0.7M69.8,894.7l1.2,0.6M76.7,911.5l-1.6,-1.2M79.6,903.3l-2.5,-0.1M61.6,900.7l-2.1,-0.5M72.4,898.3l-1.5,-1.2M79.8,902.7l2.0,-2.1M66.6,894.6l-2.3,0.6M72.1,912.2l-2.0,2.3M70.4,906.4l1.9,2.2M64.7,907.2l-1.5,2.5M80.2,903.7l1.6,2.2M75.6,893.0l-1.1,-0.9M70.2,897.6l2.3,1.8M74.1,901.0l1.0,-1.2M64.7,899.4l1.1,1.3M79.8,893.5l-0.7,-2.5M80.6,909.2l-2.9,-1.5M68.6,896.6l-1.0,-1.3M74.6,902.3l-1.7,1.0M69.5,896.0l-1.8,1.5M76.9,900.0l2.7,-0.5M70.1,910.8l0.9,1.7M72.6,911.2l2.5,-1.6M67.1,894.4l0.5,-2.9" stroke="#111" stroke-width="0.35" stroke-opacity="0.5" fill="none"/>
<path d="M42.059,920.500 C42.148,922.236 41.316,924.220 40.524,925.842 C39.731,927.464 38.635,929.062 37.302,930.232 C35.970,931.402 34.194,932.600 32.527,932.862 C30.861,933.124 28.988,932.273 27.306,931.806 C25.623,931.339 23.855,931.028 22.430,930.060 C21.005,929.093 19.562,927.595 18.756,926.002 C17.951,924.408 17.515,922.294 17.596,920.500 C17.677,918.706 18.358,916.732 19.242,915.240 C20.126,913.749 21.568,912.601 22.902,911.552 C24.237,910.503 25.641,909.539 27.251,908.946 C28.860,908.352 30.996,907.543 32.560,907.992 C34.123,908.441 35.393,910.400 36.631,911.639 C37.869,912.878 39.082,913.948 39.987,915.425 C40.891,916.902 41.969,918.764 42.059,920.500Z" fill="#f28a2a" stroke="none" stroke-width="0.8"/>
<g filter="url(#sk2)"><path d="M42.059,920.500 C42.148,922.236 41.316,924.220 40.524,925.842 C39.731,927.464 38.635,929.062 37.302,930.232 C35.970,931.402 34.194,932.600 32.527,932.862 C30.861,933.124 28.988,932.273 27.306,931.806 C25.623,931.339 23.855,931.028 22.430,930.060 C21.005,929.093 19.562,927.595 18.756,926.002 C17.951,924.408 17.515,922.294 17.596,920.500 C17.677,918.706 18.358,916.732 19.242,915.240 C20.126,913.749 21.568,912.601 22.902,911.552 C24.237,910.503 25.641,909.539 27.251,908.946 C28.860,908.352 30.996,907.543 32.560,907.992 C34.123,908.441 35.393,910.400 36.631,911.639 C37.869,912.878 39.082,913.948 39.987,915.425 C40.891,916.902 41.969,918.764 42.059,920.500Z" fill="#ffffff" opacity="0.5"/></g>
<path d="M25.2,921.3l-0.9,-3.2M27.2,921.2l-1.7,1.7M38.7,921.8l1.6,2.0M26.9,914.0l1.6,-0.2M25.8,917.9l-1.7,-0.9M34.6,915.4l-2.0,0.0M34.6,919.5l-0.6,3.2M35.4,917.4l-1.1,-2.1M35.4,927.6l2.6,-1.6M28.2,913.7l-2.4,1.0M36.6,925.7l1.4,0.7M27.7,915.7l-1.6,2.5M30.5,923.5l2.2,-0.1M31.1,926.7l0.2,-2.1M25.4,921.8l-0.5,2.0M23.9,916.1l-0.8,1.7M26.8,922.4l0.7,1.3M34.1,914.2l0.4,-1.5M29.2,927.7l1.3,-2.6M23.5,927.5l1.3,-0.6M31.8,927.9l2.3,-2.4M25.3,924.6l-0.8,1.7M26.3,927.3l-1.6,-1.8M28.1,922.3l2.6,0.5M28.7,914.4l-2.1,-2.7M32.3,916.4l2.5,-2.1M26.3,925.1l3.2,-0.6M30.8,924.3l-1.6,0.7M23.0,925.6l2.4,0.1M25.7,927.2l-2.5,-1.4M21.5,924.6l-1.5,0.3M25.6,916.0l1.6,1.6M23.5,926.3l-0.3,2.6M34.4,918.5l-2.4,1.3M24.4,927.7l-1.2,2.5M33.2,918.9l0.2,-1.4M37.0,917.8l1.4,-0.7M31.2,929.0l2.2,-1.6M30.2,911.8l0.9,0.9M29.1,928.2l0.7,3.0M32.0,913.8l-2.0,-2.0M23.2,916.4l2.5,-0.0M25.9,912.5l1.8,-1.6M23.2,922.8l-0.8,-1.8M28.4,926.0l-0.4,1.7M22.0,920.5l1.3,0.1M31.4,913.0l2.2,-1.6M25.2,912.6l1.7,0.6M25.8,925.6l-0.7,2.1M26.4,917.6l1.8,-0.8M24.5,913.4l-1.5,-1.7M35.2,921.5l-0.9,1.2M34.7,914.2l1.2,0.6M29.7,916.3l0.3,1.4M21.6,917.5l-0.4,-2.2M36.8,923.6l-1.6,-1.2M29.6,922.0l1.1,1.0M33.9,914.5l2.3,-1.1M29.3,917.1l3.4,0.4M20.9,918.9l-1.2,-1.5M23.2,914.6l1.7,1.9M25.3,915.8l0.4,1.5M25.6,913.0l0.8,2.2M31.0,925.6l-1.2,1.8M27.5,913.4l1.6,-2.1M26.3,926.6l3.1,-0.1M29.4,922.2l-2.1,0.8M34.3,927.5l-1.7,-2.2M29.5,911.1l-1.1,1.0M29.2,911.2l-1.9,-0.9M36.2,918.4l-1.8,-0.3M26.6,928.1l1.9,-1.1M27.7,916.1l-2.1,-1.0M36.2,916.9l-0.0,2.7M30.0,928.8l-0.7,2.4" stroke="#111" stroke-width="0.35" stroke-opacity="0.5" fill="none"/>
<path d="M85.500,912.500 C86.250,912.133 87.500,912.467 88.500,912.800 C89.500,913.133 91.083,913.633 91.500,914.500 C91.917,915.367 91.333,916.917 91.000,918.000 C90.667,919.083 89.667,919.833 89.500,921.000 C89.333,922.167 90.167,923.833 90.000,925.000 C89.833,926.167 89.250,927.583 88.500,928.000 C87.750,928.417 86.083,928.333 85.500,927.500 C84.917,926.667 85.167,924.583 85.000,923.000 C84.833,921.417 84.667,919.333 84.500,918.000 C84.333,916.667 83.833,915.917 84.000,915.000 C84.167,914.083 84.750,912.867 85.500,912.500Z" fill="#8a63c0" stroke="none" stroke-width="0.8" opacity="0.95"/>
<path d="M86.8,915.8l0.8,1.6M89.3,916.5l-2.0,1.8M87.8,926.1l-2.1,0.1M88.3,916.0l1.6,-1.2M86.7,922.6l1.5,2.2M89.9,917.7l2.2,-0.8" stroke="#111" stroke-width="0.35" stroke-opacity="0.55" fill="none"/>
<text x="38.20" y="888.90" font-size="6.30" fill="#222">Mac1</text>
<text x="75.00" y="890.30" font-size="6.30" fill="#222">IM</text>
<text x="4.40" y="901.20" font-size="6.30" fill="#222">Pro AM</text>
<text x="47.30" y="923.60" font-size="6.30" fill="#222">Mac0</text>
<text x="25.40" y="936.20" font-size="6.30" fill="#222">AM</text>
<text x="79.70" y="932.30" font-size="6.30" fill="#222">Mono</text>
<text x="57.00" y="941.00" font-size="6.30" fill="#222">Mac2</text>
<text x="126.60" y="871.40" font-size="10.10" fill="#000">Bleo+7d</text>
<path d="M124.5,899.3 C124.5,893 121.0,891.5 117.5,891.7 C113.0,892 110.6,895 111.1,899 C111.6,903 112.1,907 115.19999999999999,913.3" fill="none" stroke="#d62728" stroke-width="2.4" stroke-opacity="0.9"/>
<path d="M124.5,899.3 C124.5,893 121.0,891.5 117.5,891.7 C113.0,892 110.6,895 111.1,899 C111.6,903 112.1,907 115.19999999999999,913.3" fill="none" stroke="#5a0a0a" stroke-width="0.5" stroke-dasharray="0.6 1.8" stroke-opacity="0.6"/>
<path d="M144.586,881.200 C144.471,881.581 144.122,881.934 143.727,882.170 C143.332,882.406 142.850,882.455 142.217,882.617 C141.583,882.780 140.489,883.275 139.928,883.146 C139.366,883.017 139.060,882.283 138.849,881.844 C138.638,881.406 138.425,880.890 138.659,880.514 C138.893,880.139 139.648,879.752 140.252,879.592 C140.856,879.431 141.590,879.503 142.285,879.551 C142.979,879.600 144.034,879.607 144.418,879.882 C144.801,880.157 144.701,880.819 144.586,881.200Z" fill="#8c564b" stroke="none" stroke-width="0.8" opacity="0.9"/>
<path d="M150.999,881.600 C151.083,881.956 149.985,882.463 149.460,882.808 C148.935,883.154 148.513,883.525 147.849,883.674 C147.185,883.824 145.961,883.956 145.476,883.706 C144.991,883.456 145.110,882.639 144.940,882.173 C144.770,881.707 144.324,881.308 144.454,880.910 C144.585,880.511 145.140,880.082 145.725,879.781 C146.309,879.480 147.423,878.953 147.961,879.102 C148.499,879.251 148.447,880.259 148.953,880.675 C149.459,881.092 150.914,881.244 150.999,881.600Z" fill="#9c665b" stroke="none" stroke-width="0.8" opacity="0.85"/>
<path d="M163.331,935.300 C163.348,935.529 163.338,935.875 162.999,936.008 C162.661,936.141 161.921,936.075 161.300,936.097 C160.679,936.120 159.611,936.276 159.276,936.143 C158.940,936.011 159.241,935.562 159.287,935.300 C159.332,935.038 159.214,934.780 159.550,934.571 C159.885,934.361 160.743,934.033 161.300,934.044 C161.857,934.055 162.554,934.427 162.893,934.636 C163.231,934.846 163.313,935.071 163.331,935.300Z" fill="#b564b0" stroke="none" stroke-width="0.8"/>
<path d="M161.561,912.500 C161.544,913.704 161.327,914.917 160.647,916.091 C159.967,917.265 159.007,918.623 157.482,919.546 C155.958,920.468 153.388,921.750 151.500,921.625 C149.612,921.500 147.678,919.720 146.153,918.797 C144.629,917.875 143.322,917.141 142.353,916.091 C141.384,915.042 140.807,913.880 140.341,912.500 C139.875,911.120 138.594,908.866 139.559,907.812 C140.524,906.758 144.141,906.949 146.131,906.177 C148.122,905.405 149.496,903.434 151.500,903.182 C153.504,902.929 156.613,903.714 158.155,904.661 C159.697,905.609 160.184,907.561 160.752,908.868 C161.319,910.174 161.579,911.296 161.561,912.500Z" fill="#a8dd98" stroke="none" stroke-width="0.8" opacity="0.75"/>
<path d="M156.1,906.7l2.9,-1.0M157.6,911.9l0.8,-1.5M154.1,910.3l-3.3,0.2M144.4,916.8l0.1,-1.4M152.6,909.1l-3.1,-1.2M147.7,916.5l0.7,-3.0M156.3,911.3l-1.1,1.7M148.3,919.1l0.8,-1.5M148.8,907.1l1.1,3.1M149.9,914.8l1.1,-2.1M159.5,917.1l-1.9,-1.5M161.2,915.5l-1.7,2.7M155.7,911.6l-1.6,2.1M143.5,916.4l-0.8,-3.0M144.5,913.9l-2.4,-0.8M154.9,909.1l-1.0,1.0M159.8,915.0l0.3,2.4M144.2,915.6l0.9,-3.0M145.7,918.7l0.7,1.4M154.4,919.3l-1.4,0.8M141.5,911.0l1.7,-1.9M151.1,912.9l0.4,1.7" stroke="#111" stroke-width="0.35" stroke-opacity="0.55" fill="none"/>
<path d="M154.300,896.400 C154.783,894.783 155.883,893.450 156.900,892.000 C157.917,890.550 158.783,888.517 160.400,887.700 C162.017,886.883 164.983,886.667 166.600,887.100 C168.217,887.533 168.783,889.483 170.100,890.300 C171.417,891.117 173.333,890.833 174.500,892.000 C175.667,893.167 176.083,895.533 177.100,897.300 C178.117,899.067 179.583,901.133 180.600,902.600 C181.617,904.067 182.383,905.033 183.200,906.100 C184.017,907.167 185.283,908.100 185.500,909.000 C185.717,909.900 185.333,911.083 184.500,911.500 C183.667,911.917 181.883,910.950 180.500,911.500 C179.117,912.050 177.650,914.017 176.200,914.800 C174.750,915.583 173.400,916.050 171.800,916.200 C170.200,916.350 168.200,916.217 166.600,915.700 C165.000,915.183 163.367,914.117 162.200,913.100 C161.033,912.083 160.617,910.767 159.600,909.600 C158.583,908.433 157.033,907.417 156.100,906.100 C155.167,904.783 154.300,903.317 154.000,901.700 C153.700,900.083 153.817,898.017 154.300,896.400Z" fill="#3a7fc2" stroke="none" stroke-width="0.8" stroke="#3a7fc2" stroke-width="0.8"/>
<g filter="url(#sk1)"><path d="M154.300,896.400 C154.783,894.783 155.883,893.450 156.900,892.000 C157.917,890.550 158.783,888.517 160.400,887.700 C162.017,886.883 164.983,886.667 166.600,887.100 C168.217,887.533 168.783,889.483 170.100,890.300 C171.417,891.117 173.333,890.833 174.500,892.000 C175.667,893.167 176.083,895.533 177.100,897.300 C178.117,899.067 179.583,901.133 180.600,902.600 C181.617,904.067 182.383,905.033 183.200,906.100 C184.017,907.167 185.283,908.100 185.500,909.000 C185.717,909.900 185.333,911.083 184.500,911.500 C183.667,911.917 181.883,910.950 180.500,911.500 C179.117,912.050 177.650,914.017 176.200,914.800 C174.750,915.583 173.400,916.050 171.800,916.200 C170.200,916.350 168.200,916.217 166.600,915.700 C165.000,915.183 163.367,914.117 162.200,913.100 C161.033,912.083 160.617,910.767 159.600,909.600 C158.583,908.433 157.033,907.417 156.100,906.100 C155.167,904.783 154.300,903.317 154.000,901.700 C153.700,900.083 153.817,898.017 154.300,896.400Z" fill="#ffffff" opacity="0.6"/></g>
<path d="M163.6,904.7l3.4,0.2M161.9,893.4l1.5,0.5M164.7,910.0l0.1,-2.0M159.2,897.4l2.6,0.5M179.4,899.8l3.2,-1.1M173.1,894.7l1.0,1.4M175.1,901.8l-0.4,1.2M164.3,898.6l1.6,0.7M162.8,899.2l-2.4,0.1M178.3,896.0l1.5,1.0M160.5,903.5l-1.9,0.3M172.0,904.8l-0.9,-2.9M167.7,906.9l-2.3,-0.1M163.1,894.6l2.4,-2.4M168.5,900.6l1.7,1.8M160.4,904.9l-0.4,2.2M178.7,896.4l-1.9,-0.4M168.1,911.4l-3.3,0.2M165.9,900.3l-1.4,-1.8M173.3,895.8l2.1,0.2M171.2,906.6l2.3,-1.5M170.0,897.3l-1.8,0.3M157.4,902.4l-1.3,-1.4M175.2,902.3l-1.1,2.9M163.5,906.2l-0.1,3.4M157.4,900.2l-2.8,0.5M161.6,892.4l-0.1,-2.9M170.6,912.4l-1.7,1.3M168.5,891.4l0.6,-1.2M167.2,891.9l1.2,-1.1M158.5,901.0l-0.5,-1.4M175.8,905.4l-1.6,-2.9M172.8,907.9l0.1,-2.4M163.7,912.3l1.8,0.2M178.1,904.2l-1.8,-1.9M167.1,910.7l1.7,0.7M176.1,907.9l-1.7,-2.1M162.7,904.2l-2.7,-1.3M160.9,895.7l-0.7,1.5M174.9,901.3l2.9,1.3" stroke="#111" stroke-width="0.35" stroke-opacity="0.5" fill="none"/>
<path d="M138.846,920.000 C139.000,921.735 139.139,923.814 138.514,925.434 C137.889,927.054 136.479,928.648 135.096,929.719 C133.714,930.790 131.888,931.576 130.218,931.859 C128.548,932.143 126.791,931.743 125.079,931.421 C123.366,931.100 121.369,930.912 119.941,929.929 C118.513,928.946 117.204,927.176 116.510,925.522 C115.817,923.867 115.704,921.803 115.779,920.000 C115.855,918.197 116.172,916.234 116.961,914.703 C117.750,913.172 119.149,911.776 120.515,910.814 C121.881,909.853 123.546,909.349 125.157,908.933 C126.767,908.518 128.530,908.085 130.178,908.321 C131.826,908.556 133.810,909.230 135.045,910.348 C136.280,911.465 136.957,913.417 137.590,915.026 C138.224,916.635 138.693,918.265 138.846,920.000Z" fill="#f28a2a" stroke="none" stroke-width="0.8"/>
<g filter="url(#sk2)"><path d="M138.846,920.000 C139.000,921.735 139.139,923.814 138.514,925.434 C137.889,927.054 136.479,928.648 135.096,929.719 C133.714,930.790 131.888,931.576 130.218,931.859 C128.548,932.143 126.791,931.743 125.079,931.421 C123.366,931.100 121.369,930.912 119.941,929.929 C118.513,928.946 117.204,927.176 116.510,925.522 C115.817,923.867 115.704,921.803 115.779,920.000 C115.855,918.197 116.172,916.234 116.961,914.703 C117.750,913.172 119.149,911.776 120.515,910.814 C121.881,909.853 123.546,909.349 125.157,908.933 C126.767,908.518 128.530,908.085 130.178,908.321 C131.826,908.556 133.810,909.230 135.045,910.348 C136.280,911.465 136.957,913.417 137.590,915.026 C138.224,916.635 138.693,918.265 138.846,920.000Z" fill="#ffffff" opacity="0.5"/></g>
<path d="M127.7,919.1l-1.9,-0.7M126.6,925.3l-2.5,-2.0M123.4,917.2l-0.5,1.4M119.1,920.3l-0.7,2.4M133.2,916.6l-2.4,2.1M122.3,926.5l0.1,2.2M128.7,929.2l-0.4,-3.0M124.6,917.0l1.7,-1.8M132.0,912.0l2.0,0.8M123.7,915.3l1.3,-3.0M121.4,913.7l-0.3,-2.0M128.3,912.7l1.2,-1.7M122.4,921.7l0.9,-0.9M126.0,911.9l3.0,-1.4M126.1,913.9l2.8,0.5M133.0,924.8l-0.7,-1.8M123.3,921.5l0.6,-2.2M127.9,917.8l1.4,-3.0M133.9,918.1l-0.1,2.7M128.5,921.8l3.4,-0.1M131.7,920.4l0.7,1.2M134.0,915.1l-0.8,-1.7M121.9,923.7l0.6,1.2M124.8,925.8l0.7,2.9M122.3,924.5l0.0,-1.4M125.3,926.9l-2.1,0.1M128.0,923.3l2.2,2.4M130.2,924.6l1.1,-1.3M131.6,919.4l-0.5,1.5M131.9,913.8l1.0,1.8M126.2,918.8l0.6,3.3M132.7,919.2l-1.0,2.9M132.6,915.0l1.9,-1.8M124.9,912.9l2.8,-0.8M126.9,921.0l-2.3,-0.1M119.3,922.8l-1.0,1.2M124.8,918.0l1.7,0.6M123.8,912.9l-1.2,0.6M127.4,916.8l-0.7,2.5M130.3,912.4l2.0,1.8M124.9,913.2l-0.3,1.8M124.5,927.4l1.3,0.0M120.6,920.9l-1.3,2.5M132.2,923.1l-3.1,0.4M125.4,927.4l-1.2,-1.7M132.0,915.5l0.8,-1.1M126.1,925.6l2.4,-1.5M130.5,915.6l-1.7,-0.1M118.3,920.7l1.6,-2.9M125.5,919.0l-0.5,1.2M126.1,927.7l-2.9,-0.8M126.1,919.0l-0.3,2.8M133.3,926.7l-1.2,0.7M128.5,926.8l-0.6,1.2M124.3,915.3l2.6,0.0M132.9,923.9l0.9,-2.3M118.6,917.8l1.9,-1.3M135.7,921.2l-2.0,2.6M125.1,927.1l-1.0,-3.2M129.4,924.9l2.5,1.0M132.7,915.3l-0.5,2.6M120.7,922.2l-0.2,-1.6M125.0,922.3l2.3,-0.8M127.3,920.0l1.5,2.2M131.8,922.9l-2.3,1.7M126.8,918.6l-1.6,2.9M132.7,919.1l-1.2,-1.3M132.0,925.1l-0.3,2.5M128.5,922.7l2.1,0.2M118.3,921.5l-1.8,1.7M125.3,921.6l-1.6,-0.8M131.5,925.7l1.1,-0.8M127.9,916.1l2.2,1.0M136.1,920.2l1.2,-0.7M133.9,917.4l-0.4,1.2" stroke="#111" stroke-width="0.35" stroke-opacity="0.5" fill="none"/>
<path d="M182.000,912.500 C182.750,912.133 184.000,912.467 185.000,912.800 C186.000,913.133 187.583,913.633 188.000,914.500 C188.417,915.367 187.833,916.917 187.500,918.000 C187.167,919.083 186.167,919.833 186.000,921.000 C185.833,922.167 186.667,923.833 186.500,925.000 C186.333,926.167 185.750,927.583 185.000,928.000 C184.250,928.417 182.583,928.333 182.000,927.500 C181.417,926.667 181.667,924.583 181.500,923.000 C181.333,921.417 181.167,919.333 181.000,918.000 C180.833,916.667 180.333,915.917 180.500,915.000 C180.667,914.083 181.250,912.867 182.000,912.500Z" fill="#8a63c0" stroke="none" stroke-width="0.8" opacity="0.35"/>
<path d="M181.5,919.4l0.4,-2.7M185.6,919.1l0.7,-2.3M181.1,919.4l3.1,1.0M187.1,917.7l-1.1,2.7M181.9,915.5l0.7,1.8M184.9,926.5l0.8,3.2" stroke="#111" stroke-width="0.35" stroke-opacity="0.55" fill="none"/>
<text x="133.30" y="888.90" font-size="6.30" fill="#222">Mac1</text>
<text x="175.00" y="890.30" font-size="6.30" fill="#222">IM</text>
<text x="104.40" y="901.20" font-size="6.30" fill="#222">Pro AM</text>
<text x="147.30" y="923.60" font-size="6.30" fill="#222">Mac0</text>
<text x="125.40" y="936.20" font-size="6.30" fill="#222">AM</text>
<text x="179.70" y="932.30" font-size="6.30" fill="#222">Mono</text>
<text x="157.00" y="941.00" font-size="6.30" fill="#222">Mac2</text>
<text x="220.90" y="871.40" font-size="10.10" fill="#000">Bleo+2w</text>
<path d="M221.5,898.9 C221.5,892.6 218.0,891.1 214.5,891.3000000000001 C210.0,891.6 207.6,894.6 208.1,898.6 C208.6,902.6 209.1,906.6 212.2,912.9" fill="none" stroke="#d62728" stroke-width="2.4" stroke-opacity="0.9"/>
<path d="M221.5,898.9 C221.5,892.6 218.0,891.1 214.5,891.3000000000001 C210.0,891.6 207.6,894.6 208.1,898.6 C208.6,902.6 209.1,906.6 212.2,912.9" fill="none" stroke="#5a0a0a" stroke-width="0.5" stroke-dasharray="0.6 1.8" stroke-opacity="0.6"/>
<path d="M242.251,881.200 C242.160,881.522 241.110,881.772 240.643,882.027 C240.176,882.283 239.933,882.655 239.451,882.733 C238.968,882.812 238.361,882.638 237.749,882.500 C237.137,882.362 236.092,882.233 235.781,881.903 C235.470,881.573 235.654,880.957 235.882,880.519 C236.110,880.081 236.562,879.383 237.147,879.274 C237.732,879.166 238.718,879.730 239.392,879.867 C240.066,880.004 240.714,879.875 241.190,880.097 C241.667,880.319 242.342,880.878 242.251,881.200Z" fill="#8c564b" stroke="none" stroke-width="0.8" opacity="0.9"/>
<path d="M247.233,881.600 C247.327,881.958 247.073,882.513 246.702,882.832 C246.331,883.151 245.600,883.459 245.006,883.515 C244.413,883.571 243.699,883.374 243.141,883.169 C242.583,882.965 241.873,882.657 241.660,882.289 C241.447,881.921 241.571,881.284 241.863,880.960 C242.155,880.636 242.891,880.551 243.413,880.345 C243.935,880.139 244.541,879.671 244.995,879.727 C245.450,879.783 245.768,880.370 246.141,880.682 C246.514,880.994 247.140,881.242 247.233,881.600Z" fill="#9c665b" stroke="none" stroke-width="0.8" opacity="0.85"/>
<path d="M261.589,935.300 C261.571,935.480 260.258,935.629 259.743,935.818 C259.229,936.007 258.987,936.405 258.500,936.435 C258.013,936.466 257.325,936.189 256.819,936.000 C256.313,935.811 255.451,935.528 255.464,935.300 C255.477,935.072 256.392,934.841 256.898,934.632 C257.404,934.424 258.008,934.031 258.500,934.048 C258.992,934.066 259.335,934.529 259.850,934.738 C260.365,934.946 261.607,935.120 261.589,935.300Z" fill="#b564b0" stroke="none" stroke-width="0.8"/>
<path d="M259.403,912.200 C258.901,913.593 259.371,914.740 258.569,915.830 C257.766,916.921 256.250,917.762 254.588,918.742 C252.927,919.723 250.680,921.621 248.600,921.713 C246.520,921.804 244.151,920.133 242.110,919.291 C240.068,918.449 237.088,917.843 236.350,916.661 C235.611,915.479 237.520,913.629 237.679,912.200 C237.837,910.771 236.713,909.431 237.301,908.085 C237.890,906.739 239.325,904.817 241.208,904.124 C243.091,903.431 246.092,903.973 248.600,903.925 C251.108,903.877 254.093,903.244 256.256,903.835 C258.419,904.427 261.053,906.080 261.578,907.474 C262.102,908.868 259.904,910.807 259.403,912.200Z" fill="#3aa63a" stroke="none" stroke-width="0.8" opacity="0.95"/>
<path d="M246.5,913.3l-2.3,-0.9M253.1,917.3l-2.0,-1.0M250.5,914.3l2.9,1.2M252.3,914.4l1.3,2.1M251.4,906.6l-2.4,1.5M255.9,915.7l-1.5,-2.9M241.3,906.9l0.4,2.5M252.6,908.7l-0.8,3.3M258.7,913.3l1.9,0.7M251.4,919.3l-0.6,1.2M257.4,912.0l-0.6,1.8M239.2,910.0l-3.1,-1.3M253.2,913.9l2.7,-0.3M248.8,914.5l0.1,-1.2M249.2,910.7l0.4,-1.6M257.3,907.6l-2.3,0.6M243.7,915.8l1.1,-3.2M246.2,919.1l-2.4,-1.7M240.3,911.4l0.2,-2.6M240.4,913.7l0.3,-3.0M256.0,913.2l-0.9,2.0M240.9,916.3l-0.8,1.3" stroke="#111" stroke-width="0.35" stroke-opacity="0.55" fill="none"/>
<path d="M253.100,896.400 C253.583,894.783 254.683,893.450 255.700,892.000 C256.717,890.550 257.583,888.517 259.200,887.700 C260.817,886.883 263.783,886.667 265.400,887.100 C267.017,887.533 267.583,889.483 268.900,890.300 C270.217,891.117 272.133,890.833 273.300,892.000 C274.467,893.167 274.883,895.533 275.900,897.300 C276.917,899.067 278.383,901.133 279.400,902.600 C280.417,904.067 281.183,905.033 282.000,906.100 C282.817,907.167 284.083,908.100 284.300,909.000 C284.517,909.900 284.133,911.083 283.300,911.500 C282.467,911.917 280.683,910.950 279.300,911.500 C277.917,912.050 276.450,914.017 275.000,914.800 C273.550,915.583 272.200,916.050 270.600,916.200 C269.000,916.350 267.000,916.217 265.400,915.700 C263.800,915.183 262.167,914.117 261.000,913.100 C259.833,912.083 259.417,910.767 258.400,909.600 C257.383,908.433 255.833,907.417 254.900,906.100 C253.967,904.783 253.100,903.317 252.800,901.700 C252.500,900.083 252.617,898.017 253.100,896.400Z" fill="#3a7fc2" stroke="none" stroke-width="0.8" stroke="#3a7fc2" stroke-width="0.8"/>
<g filter="url(#sk1)"><path d="M253.100,896.400 C253.583,894.783 254.683,893.450 255.700,892.000 C256.717,890.550 257.583,888.517 259.200,887.700 C260.817,886.883 263.783,886.667 265.400,887.100 C267.017,887.533 267.583,889.483 268.900,890.300 C270.217,891.117 272.133,890.833 273.300,892.000 C274.467,893.167 274.883,895.533 275.900,897.300 C276.917,899.067 278.383,901.133 279.400,902.600 C280.417,904.067 281.183,905.033 282.000,906.100 C282.817,907.167 284.083,908.100 284.300,909.000 C284.517,909.900 284.133,911.083 283.300,911.500 C282.467,911.917 280.683,910.950 279.300,911.500 C277.917,912.050 276.450,914.017 275.000,914.800 C273.550,915.583 272.200,916.050 270.600,916.200 C269.000,916.350 267.000,916.217 265.400,915.700 C263.800,915.183 262.167,914.117 261.000,913.100 C259.833,912.083 259.417,910.767 258.400,909.600 C257.383,908.433 255.833,907.417 254.900,906.100 C253.967,904.783 253.100,903.317 252.800,901.700 C252.500,900.083 252.617,898.017 253.100,896.400Z" fill="#ffffff" opacity="0.6"/></g>
<path d="M268.5,898.1l-0.2,-2.7M273.0,897.3l-1.9,1.8M272.7,894.0l0.8,-2.0M265.0,894.9l-1.0,1.4M277.1,905.2l-1.3,1.9M278.7,903.4l1.9,2.7M265.0,898.2l0.9,-1.2M267.0,911.6l1.6,-0.7M275.3,901.5l1.3,-0.4M262.0,897.8l1.6,-0.1M276.4,895.2l1.1,-1.1M259.0,903.6l-1.1,2.3M272.3,908.2l2.2,2.1M260.0,904.0l1.1,-2.7M268.2,901.4l1.8,2.6M270.0,908.8l2.7,-0.6M261.7,901.0l0.8,1.6M277.3,906.0l1.2,2.0M264.7,910.0l1.0,-1.7M269.1,897.8l2.8,0.6M270.5,896.8l1.9,0.4M273.3,905.2l-0.8,1.8M268.1,893.1l1.4,1.2M264.1,906.9l2.6,1.3M259.9,892.2l-1.1,-1.1M273.8,902.8l2.2,-2.1M268.7,891.8l-1.7,-2.9M260.1,906.9l2.3,1.9M268.4,903.1l-2.0,-1.2M271.9,904.6l-0.8,3.0M265.2,890.7l-0.4,2.2M257.1,904.9l2.7,-0.8M268.8,904.0l-2.9,0.2M272.9,901.8l-0.0,-2.6M264.2,896.5l-0.8,-2.1M272.4,907.3l2.3,-0.7M262.6,908.2l0.1,2.1M271.2,912.7l3.1,-1.2M267.5,908.1l-0.0,-2.3M274.1,898.4l-1.8,0.6" stroke="#111" stroke-width="0.35" stroke-opacity="0.5" fill="none"/>
<path d="M237.476,919.600 C237.275,921.432 235.925,923.259 234.953,924.792 C233.980,926.324 232.886,927.469 231.641,928.794 C230.396,930.119 229.083,932.317 227.480,932.742 C225.878,933.166 223.697,931.977 222.027,931.341 C220.356,930.705 218.883,929.954 217.457,928.928 C216.030,927.901 214.250,926.737 213.467,925.183 C212.685,923.628 212.822,921.491 212.761,919.600 C212.701,917.709 212.341,915.415 213.104,913.835 C213.867,912.255 215.901,911.337 217.339,910.119 C218.778,908.901 220.087,906.941 221.734,906.526 C223.382,906.110 225.472,907.112 227.224,907.626 C228.977,908.140 230.762,908.580 232.251,909.609 C233.741,910.639 235.290,912.137 236.161,913.802 C237.032,915.467 237.678,917.768 237.476,919.600Z" fill="#f28a2a" stroke="none" stroke-width="0.8"/>
<g filter="url(#sk2)"><path d="M237.476,919.600 C237.275,921.432 235.925,923.259 234.953,924.792 C233.980,926.324 232.886,927.469 231.641,928.794 C230.396,930.119 229.083,932.317 227.480,932.742 C225.878,933.166 223.697,931.977 222.027,931.341 C220.356,930.705 218.883,929.954 217.457,928.928 C216.030,927.901 214.250,926.737 213.467,925.183 C212.685,923.628 212.822,921.491 212.761,919.600 C212.701,917.709 212.341,915.415 213.104,913.835 C213.867,912.255 215.901,911.337 217.339,910.119 C218.778,908.901 220.087,906.941 221.734,906.526 C223.382,906.110 225.472,907.112 227.224,907.626 C228.977,908.140 230.762,908.580 232.251,909.609 C233.741,910.639 235.290,912.137 236.161,913.802 C237.032,915.467 237.678,917.768 237.476,919.600Z" fill="#ffffff" opacity="0.5"/></g>
<path d="M217.5,919.4l-3.3,-0.1M230.8,925.4l-0.7,-1.4M232.9,918.3l-1.2,-0.7M220.7,926.4l1.0,1.0M221.1,916.6l-2.3,0.1M221.7,915.7l-2.4,-0.6M228.9,918.4l-2.0,1.7M232.7,922.8l1.8,0.3M220.6,913.9l1.5,0.0M227.0,927.7l-1.0,2.9M230.7,923.0l-1.3,-2.4M223.8,928.7l1.7,1.2M222.0,919.3l0.7,-1.2M222.9,918.5l-1.8,1.8M228.6,922.1l-2.0,-0.1M227.9,911.3l-2.1,1.7M218.4,918.2l-1.4,0.6M220.2,912.8l-0.1,2.8M219.0,924.4l1.2,-0.7M228.5,923.6l-1.9,-1.8M220.4,912.4l1.4,-0.8M222.4,919.3l-0.4,1.7M221.7,921.4l-2.0,-1.8M231.4,925.6l-0.5,1.9M223.2,915.3l-2.4,1.9M217.3,924.3l2.5,-2.2M224.0,927.1l1.6,0.7M233.4,918.1l-2.7,-0.1M222.4,910.7l0.8,-1.4M232.5,920.8l-3.3,-0.6M221.7,924.9l0.6,2.9M220.5,926.9l-2.8,1.2M223.5,911.2l0.0,2.1M222.7,921.6l-0.6,-1.3M229.9,924.0l-2.0,2.5M234.0,919.6l3.1,0.8M221.3,917.4l-1.3,-0.4M219.1,922.9l0.4,1.8M228.6,920.6l1.8,-2.7M224.8,910.9l2.0,-1.2M226.1,925.0l-0.0,-1.2M229.0,927.1l1.8,-0.4M231.5,918.0l1.9,-1.8M227.9,923.8l0.5,1.8M219.2,913.1l-1.4,2.7M220.3,914.4l-0.7,-2.5M229.7,920.0l2.0,1.2M218.3,922.0l1.3,-1.3M216.8,920.9l0.3,-1.2M222.9,926.8l1.3,2.5M233.3,921.2l-1.5,-0.8M227.5,928.6l-1.7,-2.6M231.4,923.9l1.8,-2.4M222.3,918.4l1.5,-0.1M216.3,923.7l-1.8,-0.2M228.6,921.1l-2.6,-0.2M219.3,926.2l1.6,0.7M225.1,928.4l3.0,-1.3M225.3,927.2l-2.2,-0.7M225.7,916.8l-1.1,-0.8M223.0,923.7l-1.4,-1.2M228.8,914.4l-3.2,0.1M229.6,916.9l-1.3,-2.3M217.2,924.6l-1.5,-1.8M227.9,914.7l2.7,-0.8M229.0,917.6l-0.2,1.7M228.7,923.1l2.4,-0.9M220.4,911.9l-1.2,-1.5M217.7,918.0l-0.1,-1.9M232.1,920.2l1.2,2.3M216.2,922.6l1.3,0.9M217.9,915.0l1.7,-2.7M224.5,924.9l0.8,-2.4M227.7,919.3l-1.4,-1.7M221.7,925.0l-0.4,1.9" stroke="#111" stroke-width="0.35" stroke-opacity="0.5" fill="none"/>
<path d="M280.800,912.500 C281.550,912.133 282.800,912.467 283.800,912.800 C284.800,913.133 286.383,913.633 286.800,914.500 C287.217,915.367 286.633,916.917 286.300,918.000 C285.967,919.083 284.967,919.833 284.800,921.000 C284.633,922.167 285.467,923.833 285.300,925.000 C285.133,926.167 284.550,927.583 283.800,928.000 C283.050,928.417 281.383,928.333 280.800,927.500 C280.217,926.667 280.467,924.583 280.300,923.000 C280.133,921.417 279.967,919.333 279.800,918.000 C279.633,916.667 279.133,915.917 279.300,915.000 C279.467,914.083 280.050,912.867 280.800,912.500Z" fill="#8a63c0" stroke="none" stroke-width="0.8" opacity="0.35"/>
<path d="M283.4,915.7l3.2,-0.7M282.6,922.3l0.4,1.6M281.3,922.7l0.8,3.2M279.8,915.7l2.5,1.5M281.9,919.6l-1.2,2.3M282.1,915.9l-1.7,0.8" stroke="#111" stroke-width="0.35" stroke-opacity="0.55" fill="none"/>
<text x="233.20" y="888.90" font-size="6.30" fill="#222">Mac1</text>
<text x="270.00" y="890.30" font-size="6.30" fill="#222">IM</text>
<text x="199.40" y="901.20" font-size="6.30" fill="#222">Pro AM</text>
<text x="239.70" y="910.40" font-size="6.30" fill="#222">Mac0</text>
<text x="220.40" y="936.20" font-size="6.30" fill="#222">AM</text>
<text x="274.70" y="932.30" font-size="6.30" fill="#222">Mono</text>
<text x="252.00" y="941.00" font-size="6.30" fill="#222">Mac2</text>
<text x="316.60" y="871.40" font-size="10.10" fill="#000">Bleo+4w</text>
<path d="M314.9,898.5 C314.9,892.2 311.4,890.7 307.9,890.9000000000001 C303.4,891.2 301,894.2 301.5,898.2 C302,902.2 302.5,906.2 305.6,912.5" fill="none" stroke="#d62728" stroke-width="2.4" stroke-opacity="0.9"/>
<path d="M314.9,898.5 C314.9,892.2 311.4,890.7 307.9,890.9000000000001 C303.4,891.2 301,894.2 301.5,898.2 C302,902.2 302.5,906.2 305.6,912.5" fill="none" stroke="#5a0a0a" stroke-width="0.5" stroke-dasharray="0.6 1.8" stroke-opacity="0.6"/>
<path d="M334.669,881.200 C334.825,881.553 335.362,882.261 335.069,882.493 C334.775,882.726 333.582,882.556 332.910,882.594 C332.237,882.632 331.620,882.843 331.034,882.724 C330.447,882.605 329.699,882.254 329.391,881.879 C329.083,881.504 328.910,880.842 329.185,880.476 C329.461,880.110 330.403,879.859 331.042,879.685 C331.681,879.510 332.505,879.314 333.020,879.429 C333.536,879.544 333.860,880.082 334.135,880.377 C334.410,880.672 334.514,880.847 334.669,881.200Z" fill="#8c564b" stroke="none" stroke-width="0.8" opacity="0.9"/>
<path d="M341.087,881.600 C340.895,882.041 340.207,882.232 339.791,882.602 C339.374,882.972 339.106,883.732 338.587,883.820 C338.068,883.907 337.369,883.352 336.678,883.127 C335.987,882.901 334.602,882.811 334.440,882.464 C334.277,882.117 335.397,881.520 335.701,881.042 C336.005,880.564 335.812,879.765 336.264,879.596 C336.717,879.426 337.637,879.966 338.416,880.026 C339.196,880.085 340.496,879.692 340.941,879.955 C341.386,880.217 341.278,881.159 341.087,881.600Z" fill="#9c665b" stroke="none" stroke-width="0.8" opacity="0.85"/>
<path d="M354.569,935.300 C354.596,935.579 354.522,936.010 354.094,936.173 C353.666,936.335 352.668,936.287 352.000,936.274 C351.332,936.261 350.593,936.259 350.088,936.097 C349.583,935.934 348.938,935.552 348.971,935.300 C349.003,935.048 349.777,934.774 350.282,934.584 C350.787,934.394 351.392,934.174 352.000,934.160 C352.608,934.145 353.501,934.306 353.929,934.496 C354.357,934.686 354.541,935.021 354.569,935.300Z" fill="#b564b0" stroke="none" stroke-width="0.8"/>
<path d="M348.995,912.100 C348.793,913.556 348.588,914.938 347.774,916.206 C346.961,917.475 345.711,919.212 344.116,919.712 C342.520,920.211 340.114,919.280 338.200,919.205 C336.286,919.131 334.384,919.698 332.631,919.265 C330.879,918.833 328.793,917.804 327.685,916.610 C326.577,915.415 325.556,913.420 325.983,912.100 C326.410,910.780 329.139,909.883 330.247,908.689 C331.355,907.495 331.306,905.727 332.631,904.935 C333.957,904.143 336.396,903.868 338.200,903.935 C340.004,904.001 341.659,904.746 343.457,905.336 C345.255,905.926 348.066,906.345 348.989,907.473 C349.912,908.600 349.198,910.644 348.995,912.100Z" fill="#3aa63a" stroke="none" stroke-width="0.8" opacity="0.95"/>
<path d="M346.9,912.0l-1.8,-0.8M330.1,909.8l0.7,1.3M339.3,906.2l-1.5,-1.4M346.7,914.5l0.3,-2.6M333.9,908.9l0.7,2.8M331.7,910.3l-1.4,2.7M338.1,918.8l-0.9,-2.2M341.3,914.5l1.5,-0.9M340.5,912.3l-1.1,3.1M336.5,905.3l2.6,-0.2M342.4,912.7l1.7,1.9M336.6,909.5l-1.8,-0.3M341.8,912.5l3.4,0.1M339.2,911.8l-1.6,2.9M346.0,913.5l1.6,-1.0M333.7,906.6l-2.8,1.1M337.9,911.9l-1.1,-1.2M336.8,915.6l0.3,-1.5M337.5,911.9l-1.4,0.8M342.0,911.7l-2.2,1.7M336.8,911.8l-2.4,1.6M334.9,909.7l2.4,0.6" stroke="#111" stroke-width="0.35" stroke-opacity="0.55" fill="none"/>
<path d="M344.800,896.400 C345.283,894.783 346.383,893.450 347.400,892.000 C348.417,890.550 349.283,888.517 350.900,887.700 C352.517,886.883 355.483,886.667 357.100,887.100 C358.717,887.533 359.283,889.483 360.600,890.300 C361.917,891.117 363.833,890.833 365.000,892.000 C366.167,893.167 366.583,895.533 367.600,897.300 C368.617,899.067 370.083,901.133 371.100,902.600 C372.117,904.067 372.883,905.033 373.700,906.100 C374.517,907.167 375.783,908.100 376.000,909.000 C376.217,909.900 375.833,911.083 375.000,911.500 C374.167,911.917 372.383,910.950 371.000,911.500 C369.617,912.050 368.150,914.017 366.700,914.800 C365.250,915.583 363.900,916.050 362.300,916.200 C360.700,916.350 358.700,916.217 357.100,915.700 C355.500,915.183 353.867,914.117 352.700,913.100 C351.533,912.083 351.117,910.767 350.100,909.600 C349.083,908.433 347.533,907.417 346.600,906.100 C345.667,904.783 344.800,903.317 344.500,901.700 C344.200,900.083 344.317,898.017 344.800,896.400Z" fill="#3a7fc2" stroke="none" stroke-width="0.8" stroke="#3a7fc2" stroke-width="0.8"/>
<g filter="url(#sk1)"><path d="M344.800,896.400 C345.283,894.783 346.383,893.450 347.400,892.000 C348.417,890.550 349.283,888.517 350.900,887.700 C352.517,886.883 355.483,886.667 357.100,887.100 C358.717,887.533 359.283,889.483 360.600,890.300 C361.917,891.117 363.833,890.833 365.000,892.000 C366.167,893.167 366.583,895.533 367.600,897.300 C368.617,899.067 370.083,901.133 371.100,902.600 C372.117,904.067 372.883,905.033 373.700,906.100 C374.517,907.167 375.783,908.100 376.000,909.000 C376.217,909.900 375.833,911.083 375.000,911.500 C374.167,911.917 372.383,910.950 371.000,911.500 C369.617,912.050 368.150,914.017 366.700,914.800 C365.250,915.583 363.900,916.050 362.300,916.200 C360.700,916.350 358.700,916.217 357.100,915.700 C355.500,915.183 353.867,914.117 352.700,913.100 C351.533,912.083 351.117,910.767 350.100,909.600 C349.083,908.433 347.533,907.417 346.600,906.100 C345.667,904.783 344.800,903.317 344.500,901.700 C344.200,900.083 344.317,898.017 344.800,896.400Z" fill="#ffffff" opacity="0.6"/></g>
<path d="M352.8,901.6l-2.0,-0.9M361.4,901.2l-1.6,-0.2M354.9,899.4l-2.0,-0.7M360.9,893.5l2.2,-2.2M358.0,909.5l2.5,-2.2M351.4,893.9l0.6,-1.7M366.3,894.4l1.2,2.2M357.9,908.7l-2.7,0.2M350.7,899.1l0.7,-2.0M347.5,899.1l-1.3,1.9M367.8,902.8l-0.6,1.9M352.2,899.0l-2.8,0.2M370.1,902.4l-1.3,-0.4M350.5,906.8l0.4,-2.1M364.0,903.9l-1.8,-1.7M363.0,892.2l1.7,-0.1M355.7,908.3l1.6,1.3M360.9,895.4l-0.7,2.1M358.2,892.6l-2.0,0.1M361.7,901.3l0.7,-2.5M359.5,904.9l-1.0,2.1M355.8,900.2l-1.0,0.6M350.6,903.5l1.5,1.4M367.7,901.1l0.3,-1.9M366.2,901.0l-2.0,2.4M365.3,893.1l-1.7,-2.0M361.5,906.5l-2.2,1.8M361.7,909.1l0.2,-2.5M359.9,894.1l1.9,1.3M358.9,898.0l-3.1,0.1M350.8,909.0l2.0,0.4M362.6,898.7l1.0,-1.3M349.2,899.8l-0.4,2.8M364.2,891.0l0.6,1.2M349.9,895.9l-1.4,0.6M364.8,901.7l-1.8,2.8M360.3,907.0l-0.9,1.9M368.4,904.3l-1.2,0.3M353.6,908.5l-1.7,-0.8M363.1,904.6l2.2,-1.1" stroke="#111" stroke-width="0.35" stroke-opacity="0.5" fill="none"/>
<path d="M330.926,919.200 C331.147,920.969 330.499,923.149 329.682,924.826 C328.865,926.503 327.545,928.333 326.024,929.262 C324.504,930.192 322.352,930.070 320.556,930.401 C318.761,930.731 316.931,931.541 315.250,931.247 C313.570,930.953 311.856,929.758 310.475,928.637 C309.093,927.515 307.636,926.088 306.962,924.516 C306.288,922.943 306.345,920.930 306.431,919.200 C306.518,917.470 306.812,915.712 307.482,914.135 C308.152,912.557 309.134,910.796 310.452,909.736 C311.771,908.675 313.684,908.163 315.391,907.770 C317.099,907.378 319.079,906.960 320.698,907.381 C322.316,907.802 323.824,909.157 325.100,910.296 C326.377,911.435 327.384,912.730 328.354,914.214 C329.325,915.698 330.704,917.431 330.926,919.200Z" fill="#f28a2a" stroke="none" stroke-width="0.8"/>
<g filter="url(#sk2)"><path d="M330.926,919.200 C331.147,920.969 330.499,923.149 329.682,924.826 C328.865,926.503 327.545,928.333 326.024,929.262 C324.504,930.192 322.352,930.070 320.556,930.401 C318.761,930.731 316.931,931.541 315.250,931.247 C313.570,930.953 311.856,929.758 310.475,928.637 C309.093,927.515 307.636,926.088 306.962,924.516 C306.288,922.943 306.345,920.930 306.431,919.200 C306.518,917.470 306.812,915.712 307.482,914.135 C308.152,912.557 309.134,910.796 310.452,909.736 C311.771,908.675 313.684,908.163 315.391,907.770 C317.099,907.378 319.079,906.960 320.698,907.381 C322.316,907.802 323.824,909.157 325.100,910.296 C326.377,911.435 327.384,912.730 328.354,914.214 C329.325,915.698 330.704,917.431 330.926,919.200Z" fill="#ffffff" opacity="0.5"/></g>
<path d="M317.9,926.3l1.7,1.1M311.8,915.4l0.5,-1.2M311.1,915.2l0.8,-2.1M320.5,927.2l0.3,2.2M311.3,924.8l2.8,0.4M315.0,920.7l1.3,3.0M314.3,918.3l2.3,-1.0M314.4,913.8l2.3,-1.5M320.6,920.3l1.3,-0.7M315.4,925.5l-1.4,-2.1M321.1,918.6l-2.0,-0.8M313.1,915.5l1.4,2.1M319.6,910.6l-0.0,3.1M313.4,922.6l-1.3,0.8M313.0,920.8l-0.9,2.8M320.6,923.9l1.0,0.8M317.1,921.0l-1.3,0.3M313.3,923.3l-3.2,-0.4M309.0,921.5l-1.9,-1.1M309.3,916.8l-0.6,1.4M318.2,923.5l1.7,0.6M317.8,911.5l1.9,-1.6M312.7,921.3l1.4,-2.2M325.7,924.6l-3.1,-1.0M325.6,914.9l0.3,1.5M322.3,925.4l-3.3,-0.8M314.7,913.8l-1.6,2.2M316.9,927.7l-2.1,2.3M322.3,919.7l2.7,-0.3M322.2,917.9l-0.7,3.2M315.2,927.9l-0.4,1.6M326.6,922.4l1.3,1.8M312.7,917.8l-1.5,-2.2M314.4,915.6l2.4,-0.2M322.7,912.1l0.6,1.7M316.4,918.1l1.9,-2.2M318.2,928.3l3.3,-0.2M312.0,915.7l1.5,0.5M320.8,926.5l-1.7,1.5M325.7,920.8l1.5,-2.7M318.6,922.8l-0.7,-1.5M322.5,917.3l0.4,-2.3M324.9,917.6l0.3,-1.7M321.2,916.2l1.2,0.4M321.3,913.8l-0.7,2.4M315.7,924.3l0.3,1.4M326.7,918.1l0.7,-1.0M318.0,922.3l2.3,1.8M318.3,925.2l-1.5,-2.4M310.0,920.9l0.6,1.7M317.7,926.3l2.8,1.6M316.9,920.8l-0.3,2.5M316.3,922.4l2.5,0.3M325.2,920.7l-1.0,-2.0M311.4,922.8l1.5,0.9M323.0,918.1l-2.7,-0.1M321.6,917.3l-0.2,-1.7M311.0,919.5l-0.7,2.7M324.8,918.9l0.9,0.8M315.9,926.8l-2.6,-1.9M324.1,924.2l0.1,-1.4M317.8,916.9l-0.2,3.0M317.3,922.9l-1.3,-1.3M318.1,917.0l-1.8,1.8M322.5,923.5l1.9,1.3M319.7,918.9l-0.2,-2.4M320.4,922.7l1.3,-2.2M315.4,915.3l0.7,-2.0M317.6,926.4l-1.0,0.9M320.1,926.5l0.8,-1.6M315.6,912.5l1.6,-0.4M326.0,919.0l-0.1,-2.4M317.5,921.2l2.8,-1.3M315.7,927.8l-1.4,2.4M322.0,911.7l-1.2,1.0" stroke="#111" stroke-width="0.35" stroke-opacity="0.5" fill="none"/>
<path d="M372.500,912.500 C373.250,912.133 374.500,912.467 375.500,912.800 C376.500,913.133 378.083,913.633 378.500,914.500 C378.917,915.367 378.333,916.917 378.000,918.000 C377.667,919.083 376.667,919.833 376.500,921.000 C376.333,922.167 377.167,923.833 377.000,925.000 C376.833,926.167 376.250,927.583 375.500,928.000 C374.750,928.417 373.083,928.333 372.500,927.500 C371.917,926.667 372.167,924.583 372.000,923.000 C371.833,921.417 371.667,919.333 371.500,918.000 C371.333,916.667 370.833,915.917 371.000,915.000 C371.167,914.083 371.750,912.867 372.500,912.500Z" fill="#8a63c0" stroke="none" stroke-width="0.8" opacity="0.35"/>
<path d="M372.0,921.6l1.3,2.4M375.3,918.4l-1.8,-1.6M371.3,920.4l-1.7,-1.6M377.2,923.3l-1.2,1.2M371.9,924.3l-0.9,-2.4M374.1,920.0l0.4,2.3" stroke="#111" stroke-width="0.35" stroke-opacity="0.55" fill="none"/>
<text x="326.40" y="888.90" font-size="6.30" fill="#222">Mac1</text>
<text x="363.20" y="890.30" font-size="6.30" fill="#222">IM</text>
<text x="292.60" y="901.20" font-size="6.30" fill="#222">Pro AM</text>
<text x="335.50" y="923.60" font-size="6.30" fill="#222">Mac0</text>
<text x="313.60" y="936.20" font-size="6.30" fill="#222">AM</text>
<text x="367.90" y="932.30" font-size="6.30" fill="#222">Mono</text>
<text x="345.20" y="941.00" font-size="6.30" fill="#222">Mac2</text>
<path d="M94.6,921.8 Q98,905 87.5,900.5" fill="none" stroke="#000" stroke-width="1.3"/>
<path d="M85.85,899.79 L89.80,899.69 L88.50,902.73 Z" fill="#000" stroke="none" stroke-width="0.8"/>
<path d="M159.6,891.2 Q143,884 146.4,902.6" fill="none" stroke="#000" stroke-width="1.3"/>
<path d="M146.72,904.37 L144.45,901.13 L147.70,900.53 Z" fill="#000" stroke="none" stroke-width="0.8"/>
<path d="M142.9,901.7 Q136,895 129.8,902.6" fill="none" stroke="#000" stroke-width="1.3"/>
<path d="M128.66,903.99 L129.66,900.16 L132.22,902.25 Z" fill="#000" stroke="none" stroke-width="0.8"/>
<path d="M191.1,917.4 Q192,900 183.7,897.7" fill="none" stroke="#000" stroke-width="1.3"/>
<path d="M181.97,897.22 L185.88,896.59 L184.99,899.77 Z" fill="#000" stroke="none" stroke-width="0.8"/>
<path d="M157.8,915.7 Q165,922 171.8,911.3" fill="none" stroke="#000" stroke-width="1.3"/>
<path d="M172.77,909.78 L172.23,913.70 L169.44,911.93 Z" fill="#000" stroke="none" stroke-width="0.8"/>
<path d="M256.3,891.2 Q240,888 244.9,903.4" fill="none" stroke="#000" stroke-width="1.3"/>
<path d="M245.45,905.12 L242.78,902.19 L245.93,901.18 Z" fill="#000" stroke="none" stroke-width="0.8"/>
<path d="M248.4,919.2 Q247,931 235.3,929.7" fill="none" stroke="#000" stroke-width="1.3"/>
<path d="M233.51,929.50 L237.27,928.26 L236.91,931.54 Z" fill="#000" stroke="none" stroke-width="0.8"/>
<path d="M252.8,920 Q262,925 266.8,914" fill="none" stroke="#000" stroke-width="1.3"/>
<path d="M267.52,912.35 L267.59,916.31 L264.57,914.99 Z" fill="#000" stroke="none" stroke-width="0.8"/>
<path d="M337.3,905.2 Q328,890 317.2,907.8" fill="none" stroke="#000" stroke-width="1.8"/>
<path d="M316.02,909.75 L316.60,904.77 L320.17,906.93 Z" fill="#000" stroke="none" stroke-width="0.8"/>
<text x="405.90" y="868.60" font-size="12.20" font-weight="bold" fill="#000">k</text>
<circle cx="431.30" cy="876.50" r="4.20" fill="#c9a5da" stroke="#b592c8" stroke-width="0.3"/>
<path d="M429.5,875.9 C429.8,874.2 432.5,874.1 433.1,875.7 C433.3,877.1 431.8,878.4 430.7,878.0 C431.6,876.8 430.7,875.7 429.5,875.9Z" fill="#8e5aac" stroke="none" stroke-width="0.8"/>
<circle cx="443.40" cy="876.50" r="4.20" fill="#c9a5da" stroke="#b592c8" stroke-width="0.3"/>
<path d="M441.59999999999997,875.9 C441.9,874.2 444.59999999999997,874.1 445.2,875.7 C445.4,877.1 443.9,878.4 442.79999999999995,878.0 C443.7,876.8 442.79999999999995,875.7 441.59999999999997,875.9Z" fill="#8e5aac" stroke="none" stroke-width="0.8"/>
<circle cx="427.50" cy="887.00" r="4.20" fill="#c9a5da" stroke="#b592c8" stroke-width="0.3"/>
<path d="M425.7,886.4 C426.0,884.7 428.7,884.6 429.3,886.2 C429.5,887.6 428.0,888.9 426.9,888.5 C427.8,887.3 426.9,886.2 425.7,886.4Z" fill="#8e5aac" stroke="none" stroke-width="0.8"/>
<circle cx="438.50" cy="885.60" r="4.20" fill="#c9a5da" stroke="#b592c8" stroke-width="0.3"/>
<path d="M436.7,885.0 C437.0,883.3000000000001 439.7,883.2 440.3,884.8000000000001 C440.5,886.2 439.0,887.5 437.9,887.1 C438.8,885.9 437.9,884.8000000000001 436.7,885.0Z" fill="#8e5aac" stroke="none" stroke-width="0.8"/>
<circle cx="449.70" cy="885.60" r="4.20" fill="#c9a5da" stroke="#b592c8" stroke-width="0.3"/>
<path d="M447.9,885.0 C448.2,883.3000000000001 450.9,883.2 451.5,884.8000000000001 C451.7,886.2 450.2,887.5 449.09999999999997,887.1 C450.0,885.9 449.09999999999997,884.8000000000001 447.9,885.0Z" fill="#8e5aac" stroke="none" stroke-width="0.8"/>
<circle cx="421.20" cy="895.10" r="4.20" fill="#c9a5da" stroke="#b592c8" stroke-width="0.3"/>
<path d="M419.4,894.5 C419.7,892.8000000000001 422.4,892.7 423.0,894.3000000000001 C423.2,895.7 421.7,897.0 420.59999999999997,896.6 C421.5,895.4 420.59999999999997,894.3000000000001 419.4,894.5Z" fill="#8e5aac" stroke="none" stroke-width="0.8"/>
<circle cx="432.80" cy="895.50" r="4.20" fill="#c9a5da" stroke="#b592c8" stroke-width="0.3"/>
<path d="M431.0,894.9 C431.3,893.2 434.0,893.1 434.6,894.7 C434.8,896.1 433.3,897.4 432.2,897.0 C433.1,895.8 432.2,894.7 431.0,894.9Z" fill="#8e5aac" stroke="none" stroke-width="0.8"/>
<circle cx="443.40" cy="894.50" r="4.20" fill="#c9a5da" stroke="#b592c8" stroke-width="0.3"/>
<path d="M441.59999999999997,893.9 C441.9,892.2 444.59999999999997,892.1 445.2,893.7 C445.4,895.1 443.9,896.4 442.79999999999995,896.0 C443.7,894.8 442.79999999999995,893.7 441.59999999999997,893.9Z" fill="#8e5aac" stroke="none" stroke-width="0.8"/>
<circle cx="452.90" cy="895.10" r="4.20" fill="#c9a5da" stroke="#b592c8" stroke-width="0.3"/>
<path d="M451.09999999999997,894.5 C451.4,892.8000000000001 454.09999999999997,892.7 454.7,894.3000000000001 C454.9,895.7 453.4,897.0 452.29999999999995,896.6 C453.2,895.4 452.29999999999995,894.3000000000001 451.09999999999997,894.5Z" fill="#8e5aac" stroke="none" stroke-width="0.8"/>
<circle cx="427.50" cy="904.60" r="4.20" fill="#c9a5da" stroke="#b592c8" stroke-width="0.3"/>
<path d="M425.7,904.0 C426.0,902.3000000000001 428.7,902.2 429.3,903.8000000000001 C429.5,905.2 428.0,906.5 426.9,906.1 C427.8,904.9 426.9,903.8000000000001 425.7,904.0Z" fill="#8e5aac" stroke="none" stroke-width="0.8"/>
<circle cx="438.10" cy="906.10" r="4.20" fill="#c9a5da" stroke="#b592c8" stroke-width="0.3"/>
<path d="M436.3,905.5 C436.6,903.8000000000001 439.3,903.7 439.90000000000003,905.3000000000001 C440.1,906.7 438.6,908.0 437.5,907.6 C438.40000000000003,906.4 437.5,905.3000000000001 436.3,905.5Z" fill="#8e5aac" stroke="none" stroke-width="0.8"/>
<circle cx="449.10" cy="905.50" r="4.20" fill="#c9a5da" stroke="#b592c8" stroke-width="0.3"/>
<path d="M447.3,904.9 C447.6,903.2 450.3,903.1 450.90000000000003,904.7 C451.1,906.1 449.6,907.4 448.5,907.0 C449.40000000000003,905.8 448.5,904.7 447.3,904.9Z" fill="#8e5aac" stroke="none" stroke-width="0.8"/>
<path d="M522.00,875.40 L520.59,876.63 L521.11,878.43 L519.26,878.70 L518.73,880.49 L517.02,879.72 L515.60,880.94 L514.59,879.37 L512.73,879.63 L512.73,877.76 L511.03,876.98 L512.03,875.40 L511.03,873.82 L512.73,873.04 L512.73,871.17 L514.59,871.43 L515.60,869.86 L517.02,871.08 L518.73,870.31 L519.26,872.10 L521.11,872.37 L520.59,874.17Z" fill="#a9aaf0" stroke="none" stroke-width="0.8" stroke="#9597e0" stroke-width="0.3"/>
<circle cx="516.40" cy="875.40" r="3.60" fill="#b7b6f3"/>
<circle cx="516.40" cy="875.40" r="1.90" fill="#c88dc8"/>
<circle cx="516.40" cy="875.40" r="0.90" fill="#b0609e"/>
<path d="M500.65,887.65 L498.94,888.41 L498.91,890.28 L497.06,890.00 L496.02,891.55 L494.62,890.31 L492.90,891.06 L492.39,889.26 L490.55,888.96 L491.09,887.17 L489.70,885.92 L491.13,884.71 L490.63,882.90 L492.49,882.66 L493.05,880.87 L494.74,881.67 L496.18,880.47 L497.17,882.05 L499.03,881.82 L499.01,883.69 L500.70,884.50 L499.67,886.06Z" fill="#a9aaf0" stroke="none" stroke-width="0.8" stroke="#9597e0" stroke-width="0.3"/>
<circle cx="495.30" cy="886.00" r="3.60" fill="#b7b6f3"/>
<circle cx="495.30" cy="886.00" r="1.90" fill="#c88dc8"/>
<circle cx="495.30" cy="886.00" r="0.90" fill="#b0609e"/>
<path d="M513.62,889.16 L511.76,889.38 L511.18,891.16 L509.50,890.34 L508.04,891.52 L507.07,889.92 L505.21,890.12 L505.26,888.25 L503.58,887.42 L504.63,885.87 L503.67,884.27 L505.39,883.53 L505.46,881.66 L507.30,881.98 L508.36,880.44 L509.75,881.70 L511.47,880.98 L511.95,882.78 L513.80,883.11 L513.22,884.89 L514.60,886.16 L513.15,887.35Z" fill="#a9aaf0" stroke="none" stroke-width="0.8" stroke="#9597e0" stroke-width="0.3"/>
<circle cx="509.00" cy="886.00" r="3.60" fill="#b7b6f3"/>
<circle cx="509.00" cy="886.00" r="1.90" fill="#c88dc8"/>
<circle cx="509.00" cy="886.00" r="0.90" fill="#b0609e"/>
<path d="M526.28,891.39 L524.44,891.05 L523.36,892.57 L521.99,891.29 L520.26,891.99 L519.80,890.17 L517.96,889.82 L518.56,888.05 L517.21,886.76 L518.67,885.59 L518.22,883.77 L520.08,883.58 L520.70,881.81 L522.37,882.65 L523.84,881.50 L524.78,883.11 L526.65,882.93 L526.57,884.80 L528.24,885.66 L527.16,887.19 L528.10,888.81 L526.37,889.52Z" fill="#a9aaf0" stroke="none" stroke-width="0.8" stroke="#9597e0" stroke-width="0.3"/>
<circle cx="522.80" cy="887.00" r="3.60" fill="#b7b6f3"/>
<circle cx="522.80" cy="887.00" r="1.90" fill="#c88dc8"/>
<circle cx="522.80" cy="887.00" r="0.90" fill="#b0609e"/>
<path d="M494.13,903.92 L492.47,903.05 L490.99,904.19 L490.06,902.56 L488.20,902.71 L488.30,900.85 L486.64,899.97 L487.74,898.45 L486.83,896.82 L488.57,896.13 L488.68,894.26 L490.52,894.63 L491.62,893.12 L492.97,894.42 L494.72,893.75 L495.15,895.57 L496.98,895.95 L496.35,897.71 L497.69,899.02 L496.21,900.17 L496.63,901.99 L494.77,902.16Z" fill="#a9aaf0" stroke="none" stroke-width="0.8" stroke="#9597e0" stroke-width="0.3"/>
<circle cx="492.10" cy="898.70" r="3.60" fill="#b7b6f3"/>
<circle cx="492.10" cy="898.70" r="1.90" fill="#c88dc8"/>
<circle cx="492.10" cy="898.70" r="0.90" fill="#b0609e"/>
<path d="M504.10,901.69 L502.77,900.37 L501.01,901.01 L500.61,899.19 L498.78,898.78 L499.43,897.03 L498.11,895.70 L499.61,894.57 L499.22,892.74 L501.08,892.60 L501.75,890.85 L503.39,891.74 L504.89,890.63 L505.80,892.27 L507.66,892.14 L507.53,894.01 L509.17,894.91 L508.06,896.41 L508.95,898.06 L507.20,898.72 L507.05,900.59 L505.22,900.19Z" fill="#a9aaf0" stroke="none" stroke-width="0.8" stroke="#9597e0" stroke-width="0.3"/>
<circle cx="503.70" cy="896.10" r="3.60" fill="#b7b6f3"/>
<circle cx="503.70" cy="896.10" r="1.90" fill="#c88dc8"/>
<circle cx="503.70" cy="896.10" r="0.90" fill="#b0609e"/>
<path d="M513.63,904.15 L512.75,902.50 L510.88,902.60 L511.04,900.74 L509.41,899.81 L510.55,898.32 L509.68,896.66 L511.44,896.03 L511.61,894.17 L513.44,894.58 L514.58,893.11 L515.89,894.45 L517.66,893.83 L518.03,895.66 L519.85,896.09 L519.18,897.84 L520.48,899.18 L518.97,900.29 L519.33,902.12 L517.46,902.24 L516.78,903.98 L515.15,903.06Z" fill="#a9aaf0" stroke="none" stroke-width="0.8" stroke="#9597e0" stroke-width="0.3"/>
<circle cx="514.90" cy="898.70" r="3.60" fill="#b7b6f3"/>
<circle cx="514.90" cy="898.70" r="1.90" fill="#c88dc8"/>
<circle cx="514.90" cy="898.70" r="0.90" fill="#b0609e"/>
<path d="M523.77,905.63 L523.42,903.80 L521.61,903.34 L522.31,901.60 L521.03,900.24 L522.55,899.15 L522.22,897.31 L524.09,897.23 L524.80,895.50 L526.42,896.44 L527.95,895.37 L528.81,897.03 L530.67,896.96 L530.49,898.82 L532.10,899.77 L530.95,901.24 L531.79,902.91 L530.02,903.52 L529.82,905.38 L528.01,904.94 L526.84,906.40 L525.55,905.04Z" fill="#a9aaf0" stroke="none" stroke-width="0.8" stroke="#9597e0" stroke-width="0.3"/>
<circle cx="526.60" cy="900.80" r="3.60" fill="#b7b6f3"/>
<circle cx="526.60" cy="900.80" r="1.90" fill="#c88dc8"/>
<circle cx="526.60" cy="900.80" r="0.90" fill="#b0609e"/>
<path d="M501.67,913.08 L501.88,911.22 L500.28,910.25 L501.46,908.80 L500.64,907.12 L502.42,906.53 L502.64,904.67 L504.45,905.14 L505.65,903.70 L506.91,905.08 L508.70,904.51 L509.02,906.35 L510.83,906.83 L510.10,908.56 L511.36,909.94 L509.82,911.00 L510.13,912.85 L508.26,912.91 L507.53,914.63 L505.92,913.67 L504.37,914.71 L503.54,913.04Z" fill="#a9aaf0" stroke="none" stroke-width="0.8" stroke="#9597e0" stroke-width="0.3"/>
<circle cx="505.80" cy="909.30" r="3.60" fill="#b7b6f3"/>
<circle cx="505.80" cy="909.30" r="1.90" fill="#c88dc8"/>
<circle cx="505.80" cy="909.30" r="0.90" fill="#b0609e"/>
<path d="M512.44,912.69 L513.19,910.98 L511.95,909.58 L513.50,908.54 L513.22,906.69 L515.09,906.66 L515.85,904.95 L517.44,905.93 L519.01,904.91 L519.81,906.59 L521.68,906.58 L521.45,908.43 L523.03,909.43 L521.83,910.86 L522.62,912.56 L520.84,913.12 L520.59,914.97 L518.79,914.47 L517.57,915.90 L516.32,914.51 L514.53,915.05 L514.24,913.20Z" fill="#a9aaf0" stroke="none" stroke-width="0.8" stroke="#9597e0" stroke-width="0.3"/>
<circle cx="517.50" cy="910.30" r="3.60" fill="#b7b6f3"/>
<circle cx="517.50" cy="910.30" r="1.90" fill="#c88dc8"/>
<circle cx="517.50" cy="910.30" r="0.90" fill="#b0609e"/>
<path d="M582.70,881.30 L581.27,882.55 L581.80,884.38 L579.91,884.66 L579.37,886.48 L577.63,885.70 L576.19,886.94 L575.15,885.34 L573.27,885.61 L573.26,883.70 L571.53,882.91 L572.55,881.30 L571.53,879.69 L573.26,878.90 L573.27,876.99 L575.15,877.26 L576.19,875.66 L577.63,876.90 L579.37,876.12 L579.91,877.94 L581.80,878.22 L581.27,880.05Z" fill="#cdb75c" stroke="none" stroke-width="0.8" stroke="#b9a24a" stroke-width="0.3"/>
<circle cx="577.00" cy="881.30" r="3.70" fill="#d6c57a"/>
<circle cx="577.00" cy="881.30" r="1.70" fill="#a8743a"/>
<circle cx="577.00" cy="881.30" r="0.80" fill="#8a3a2a"/>
<path d="M596.05,881.82 L594.24,882.41 L594.02,884.31 L592.17,883.83 L590.96,885.30 L589.67,883.90 L587.86,884.48 L587.52,882.61 L585.68,882.11 L586.42,880.36 L585.14,878.95 L586.70,877.87 L586.39,875.99 L588.29,875.93 L589.04,874.18 L590.67,875.16 L592.25,874.09 L593.10,875.79 L595.00,875.75 L594.79,877.64 L596.42,878.63 L595.22,880.11Z" fill="#cdb75c" stroke="none" stroke-width="0.8" stroke="#b9a24a" stroke-width="0.3"/>
<circle cx="590.80" cy="879.60" r="3.70" fill="#d6c57a"/>
<circle cx="590.80" cy="879.60" r="1.70" fill="#a8743a"/>
<circle cx="590.80" cy="879.60" r="0.80" fill="#8a3a2a"/>
<path d="M607.47,885.39 L605.57,885.23 L604.63,886.89 L603.12,885.73 L601.43,886.61 L600.78,884.82 L598.89,884.65 L599.31,882.79 L597.81,881.62 L599.17,880.29 L598.54,878.50 L600.40,878.11 L600.84,876.26 L602.62,876.94 L603.99,875.62 L605.11,877.16 L606.98,876.79 L607.10,878.69 L608.87,879.39 L607.94,881.05 L609.05,882.59 L607.37,883.49Z" fill="#cdb75c" stroke="none" stroke-width="0.8" stroke="#b9a24a" stroke-width="0.3"/>
<circle cx="603.50" cy="881.30" r="3.70" fill="#d6c57a"/>
<circle cx="603.50" cy="881.30" r="1.70" fill="#a8743a"/>
<circle cx="603.50" cy="881.30" r="0.80" fill="#8a3a2a"/>
<path d="M573.87,900.81 L572.18,899.93 L570.67,901.09 L569.72,899.43 L567.83,899.59 L567.93,897.68 L566.25,896.79 L567.36,895.24 L566.43,893.58 L568.20,892.88 L568.32,890.98 L570.19,891.36 L571.31,889.82 L572.69,891.14 L574.46,890.46 L574.90,892.31 L576.76,892.70 L576.13,894.50 L577.49,895.83 L575.99,897.00 L576.41,898.85 L574.51,899.02Z" fill="#cdb75c" stroke="none" stroke-width="0.8" stroke="#b9a24a" stroke-width="0.3"/>
<circle cx="571.80" cy="895.50" r="3.70" fill="#d6c57a"/>
<circle cx="571.80" cy="895.50" r="1.70" fill="#a8743a"/>
<circle cx="571.80" cy="895.50" r="0.80" fill="#8a3a2a"/>
<path d="M584.33,897.00 L583.12,895.53 L581.28,896.00 L581.06,894.11 L579.25,893.52 L580.08,891.80 L578.88,890.32 L580.51,889.34 L580.30,887.44 L582.21,887.49 L583.05,885.79 L584.63,886.86 L586.26,885.88 L587.01,887.63 L588.91,887.69 L588.60,889.57 L590.16,890.65 L588.88,892.06 L589.61,893.82 L587.77,894.31 L587.44,896.18 L585.63,895.60Z" fill="#cdb75c" stroke="none" stroke-width="0.8" stroke="#b9a24a" stroke-width="0.3"/>
<circle cx="584.50" cy="891.30" r="3.70" fill="#d6c57a"/>
<circle cx="584.50" cy="891.30" r="1.70" fill="#a8743a"/>
<circle cx="584.50" cy="891.30" r="0.80" fill="#8a3a2a"/>
<path d="M594.83,897.48 L594.29,895.66 L592.40,895.38 L592.93,893.55 L591.50,892.30 L592.94,891.04 L592.41,889.21 L594.29,888.94 L594.84,887.11 L596.57,887.90 L598.02,886.66 L599.05,888.26 L600.94,888.00 L600.94,889.90 L602.67,890.70 L601.65,892.30 L602.67,893.91 L600.94,894.71 L600.93,896.61 L599.04,896.35 L598.01,897.94 L596.56,896.70Z" fill="#cdb75c" stroke="none" stroke-width="0.8" stroke="#b9a24a" stroke-width="0.3"/>
<circle cx="597.20" cy="892.30" r="3.70" fill="#d6c57a"/>
<circle cx="597.20" cy="892.30" r="1.70" fill="#a8743a"/>
<circle cx="597.20" cy="892.30" r="0.80" fill="#8a3a2a"/>
<path d="M579.20,909.35 L579.41,907.46 L577.78,906.47 L578.98,904.99 L578.15,903.28 L579.96,902.68 L580.19,900.79 L582.03,901.27 L583.24,899.80 L584.53,901.20 L586.35,900.62 L586.68,902.50 L588.52,902.99 L587.78,904.75 L589.06,906.16 L587.49,907.23 L587.81,909.11 L585.91,909.17 L585.16,910.92 L583.52,909.94 L581.95,911.01 L581.10,909.31Z" fill="#cdb75c" stroke="none" stroke-width="0.8" stroke="#b9a24a" stroke-width="0.3"/>
<circle cx="583.40" cy="905.50" r="3.70" fill="#d6c57a"/>
<circle cx="583.40" cy="905.50" r="1.70" fill="#a8743a"/>
<circle cx="583.40" cy="905.50" r="0.80" fill="#8a3a2a"/>
<path d="M591.33,906.51 L592.26,904.85 L591.15,903.30 L592.83,902.41 L592.73,900.51 L594.63,900.67 L595.57,899.01 L597.09,900.17 L598.77,899.29 L599.42,901.08 L601.32,901.25 L600.89,903.11 L602.39,904.28 L601.03,905.61 L601.66,907.41 L599.79,907.79 L599.35,909.64 L597.58,908.96 L596.21,910.28 L595.08,908.74 L593.21,909.11 L593.10,907.21Z" fill="#cdb75c" stroke="none" stroke-width="0.8" stroke="#b9a24a" stroke-width="0.3"/>
<circle cx="596.70" cy="904.60" r="3.70" fill="#d6c57a"/>
<circle cx="596.70" cy="904.60" r="1.70" fill="#a8743a"/>
<circle cx="596.70" cy="904.60" r="0.80" fill="#8a3a2a"/>
<path d="M661.80,877.10 L660.37,878.27 L661.02,880.00 L659.20,880.30 L658.90,882.12 L657.17,881.47 L656.00,882.90 L654.83,881.47 L653.10,882.12 L652.80,880.30 L650.98,880.00 L651.63,878.27 L650.20,877.10 L651.63,875.93 L650.98,874.20 L652.80,873.90 L653.10,872.08 L654.83,872.73 L656.00,871.30 L657.17,872.73 L658.90,872.08 L659.20,873.90 L661.02,874.20 L660.37,875.93Z" fill="#a9c9f3" stroke="none" stroke-width="0.8" stroke="#8fb3e6" stroke-width="0.3"/>
<circle cx="656.00" cy="877.10" r="3.80" fill="#bcd6f6"/>
<circle cx="656.00" cy="877.10" r="2.00" fill="#6fa7c8"/>
<circle cx="656.00" cy="877.10" r="1.00" fill="#2f8a7a"/>
<path d="M649.15,887.99 L647.40,888.60 L647.42,890.45 L645.61,890.10 L644.70,891.71 L643.30,890.51 L641.71,891.45 L641.10,889.70 L639.25,889.72 L639.60,887.91 L637.99,887.00 L639.19,885.60 L638.25,884.01 L640.00,883.40 L639.98,881.55 L641.79,881.90 L642.70,880.29 L644.10,881.49 L645.69,880.55 L646.30,882.30 L648.15,882.28 L647.80,884.09 L649.41,885.00 L648.21,886.40Z" fill="#a9c9f3" stroke="none" stroke-width="0.8" stroke="#8fb3e6" stroke-width="0.3"/>
<circle cx="643.70" cy="886.00" r="3.80" fill="#bcd6f6"/>
<circle cx="643.70" cy="886.00" r="2.00" fill="#6fa7c8"/>
<circle cx="643.70" cy="886.00" r="1.00" fill="#2f8a7a"/>
<path d="M660.44,893.94 L658.59,893.91 L657.97,895.65 L656.39,894.71 L654.98,895.91 L654.08,894.30 L652.26,894.64 L652.29,892.79 L650.55,892.17 L651.49,890.59 L650.29,889.18 L651.90,888.28 L651.56,886.46 L653.41,886.49 L654.03,884.75 L655.61,885.69 L657.02,884.49 L657.92,886.10 L659.74,885.76 L659.71,887.61 L661.45,888.23 L660.51,889.81 L661.71,891.22 L660.10,892.12Z" fill="#a9c9f3" stroke="none" stroke-width="0.8" stroke="#8fb3e6" stroke-width="0.3"/>
<circle cx="656.00" cy="890.20" r="3.80" fill="#bcd6f6"/>
<circle cx="656.00" cy="890.20" r="2.00" fill="#6fa7c8"/>
<circle cx="656.00" cy="890.20" r="1.00" fill="#2f8a7a"/>
<path d="M670.99,892.73 L669.26,892.07 L668.08,893.50 L666.92,892.07 L665.19,892.71 L664.89,890.89 L663.07,890.59 L663.73,888.86 L662.30,887.68 L663.73,886.52 L663.09,884.79 L664.91,884.49 L665.21,882.67 L666.94,883.33 L668.12,881.90 L669.28,883.33 L671.01,882.69 L671.31,884.51 L673.13,884.81 L672.47,886.54 L673.90,887.72 L672.47,888.88 L673.11,890.61 L671.29,890.91Z" fill="#a9c9f3" stroke="none" stroke-width="0.8" stroke="#8fb3e6" stroke-width="0.3"/>
<circle cx="668.10" cy="887.70" r="3.80" fill="#bcd6f6"/>
<circle cx="668.10" cy="887.70" r="2.00" fill="#6fa7c8"/>
<circle cx="668.10" cy="887.70" r="1.00" fill="#2f8a7a"/>
<path d="M649.99,906.52 L648.59,905.31 L647.00,906.24 L646.39,904.50 L644.54,904.51 L644.89,902.70 L643.28,901.79 L644.49,900.39 L643.56,898.80 L645.30,898.19 L645.29,896.34 L647.10,896.69 L648.01,895.08 L649.41,896.29 L651.00,895.36 L651.61,897.10 L653.46,897.09 L653.11,898.90 L654.72,899.81 L653.51,901.21 L654.44,902.80 L652.70,903.41 L652.71,905.26 L650.90,904.91Z" fill="#a9c9f3" stroke="none" stroke-width="0.8" stroke="#8fb3e6" stroke-width="0.3"/>
<circle cx="649.00" cy="900.80" r="3.80" fill="#bcd6f6"/>
<circle cx="649.00" cy="900.80" r="2.00" fill="#6fa7c8"/>
<circle cx="649.00" cy="900.80" r="1.00" fill="#2f8a7a"/>
<path d="M662.77,907.61 L661.87,905.99 L660.05,906.33 L660.08,904.48 L658.34,903.86 L659.29,902.27 L658.09,900.87 L659.71,899.97 L659.37,898.15 L661.22,898.18 L661.84,896.44 L663.43,897.39 L664.83,896.19 L665.73,897.81 L667.55,897.47 L667.52,899.32 L669.26,899.94 L668.31,901.53 L669.51,902.93 L667.89,903.83 L668.23,905.65 L666.38,905.62 L665.76,907.36 L664.17,906.41Z" fill="#a9c9f3" stroke="none" stroke-width="0.8" stroke="#8fb3e6" stroke-width="0.3"/>
<circle cx="663.80" cy="901.90" r="3.80" fill="#bcd6f6"/>
<circle cx="663.80" cy="901.90" r="2.00" fill="#6fa7c8"/>
<circle cx="663.80" cy="901.90" r="1.00" fill="#2f8a7a"/>
<line x1="461.00" y1="889.20" x2="479.90" y2="889.20" stroke="#000" stroke-width="1.1"/>
<path d="M479.40000000000003,887.1 L479.40000000000003,891.3000000000001 L483.6,889.2 Z" fill="#000" stroke="none" stroke-width="0.8"/>
<line x1="561.20" y1="884.90" x2="542.40" y2="884.90" stroke="#000" stroke-width="1.1"/>
<path d="M542.9000000000001,882.8 L542.9000000000001,887.0 L538.7,884.9 Z" fill="#000" stroke="none" stroke-width="0.8"/>
<line x1="538.70" y1="893.40" x2="557.50" y2="893.40" stroke="#000" stroke-width="1.1"/>
<path d="M557.0,891.3 L557.0,895.5 L561.2,893.4 Z" fill="#000" stroke="none" stroke-width="0.8"/>
<line x1="610.90" y1="889.20" x2="629.40" y2="889.20" stroke="#000" stroke-width="1.1"/>
<path d="M628.9,887.1 L628.9,891.3000000000001 L633.1,889.2 Z" fill="#000" stroke="none" stroke-width="0.8"/>
<text x="425.00" y="930.00" font-size="10.10" fill="#000">Mono</text>
<text x="503.70" y="930.00" font-size="10.10" fill="#000">IM</text>
<text x="574.90" y="930.00" font-size="10.10" fill="#000">Mac0</text>
<text x="649.00" y="930.00" font-size="10.10" fill="#000">AM</text>
</svg>
</body></html>
